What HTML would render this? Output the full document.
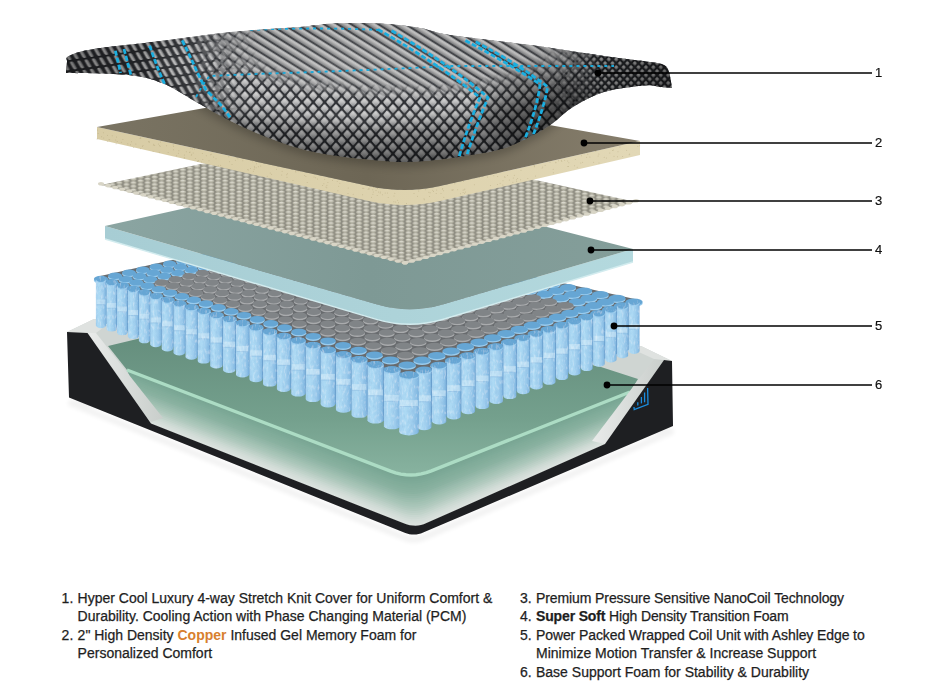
<!DOCTYPE html>
<html><head><meta charset="utf-8"><style>
html,body{margin:0;padding:0;background:#fff;}
body{width:934px;height:700px;position:relative;overflow:hidden;font-family:"Liberation Sans",sans-serif;color:#1e1e1e;}
.n{position:absolute;left:875px;font-size:13px;line-height:18px;color:#111;-webkit-text-stroke:0.2px #111;}
.t{position:absolute;font-size:14px;line-height:18.4px;white-space:nowrap;-webkit-text-stroke:0.25px #1e1e1e;}
.t .num{position:absolute;left:-16px;}
.cu{color:#d8802e;font-weight:bold;-webkit-text-stroke:0;}
</style></head><body>
<svg width="934" height="560" viewBox="0 0 934 560" style="position:absolute;left:0;top:0">
<defs>
 <pattern id="knit" width="7" height="7" patternUnits="userSpaceOnUse" patternTransform="translate(410 160) scale(1.15 1.3) rotate(45)">
   <rect width="7" height="7" fill="#2a2c30"/>
   <rect x="0.9" y="0.9" width="5.4" height="5.4" rx="1" fill="url(#cellg)"/>
 </pattern>
 <pattern id="knitB" width="30" height="7.2" patternUnits="userSpaceOnUse" patternTransform="rotate(32)">
   <rect width="30" height="7.2" fill="#36383c"/>
   <rect x="0" y="1.2" width="30" height="5.2" fill="url(#cellg3)"/>
 </pattern>
 <linearGradient id="cellg3" x1="0" y1="0" x2="0" y2="1"><stop offset="0" stop-color="#cfcfcf"/><stop offset="0.5" stop-color="#a8a8a8"/><stop offset="1" stop-color="#6e7072"/></linearGradient>
 <pattern id="knitV" width="7.4" height="10" patternUnits="userSpaceOnUse" patternTransform="rotate(-8) skewX(22)">
   <rect width="7.4" height="10" fill="#2a2c30"/>
   <rect x="1.5" y="0.8" width="4.4" height="8.4" rx="1.6" fill="url(#cellg4)"/>
 </pattern>
 <linearGradient id="cellg4" x1="0" y1="0" x2="1" y2="0"><stop offset="0" stop-color="#8d8e90"/><stop offset="0.45" stop-color="#d6d6d6"/><stop offset="1" stop-color="#5e6064"/></linearGradient>
 <radialGradient id="topMaskG" cx="400" cy="45" r="200" gradientUnits="userSpaceOnUse" gradientTransform="translate(400 45) scale(1 0.27) translate(-400 -45)">
   <stop offset="0" stop-color="#fff"/><stop offset="0.72" stop-color="#fff"/><stop offset="1" stop-color="#000"/>
 </radialGradient>
 <mask id="mTop" maskUnits="userSpaceOnUse" x="0" y="0" width="934" height="200"><rect x="0" y="0" width="934" height="200" fill="url(#topMaskG)"/></mask>
 <linearGradient id="leftMaskG" x1="190" y1="0" x2="245" y2="0" gradientUnits="userSpaceOnUse">
   <stop offset="0" stop-color="#fff"/><stop offset="1" stop-color="#000"/>
 </linearGradient>
 <pattern id="knitS" width="7" height="7" patternUnits="userSpaceOnUse" patternTransform="scale(0.75 0.8) rotate(45)">
   <rect width="7" height="7" fill="#26282c"/>
   <rect x="1.4" y="1.4" width="4.2" height="4.2" rx="1" fill="url(#cellg)"/>
 </pattern>
 <linearGradient id="rightMaskG" x1="545" y1="0" x2="600" y2="0" gradientUnits="userSpaceOnUse">
   <stop offset="0" stop-color="#000"/><stop offset="1" stop-color="#fff"/>
 </linearGradient>
 <mask id="mRight" maskUnits="userSpaceOnUse" x="0" y="0" width="934" height="200"><rect x="0" y="0" width="934" height="200" fill="url(#rightMaskG)"/></mask>
 <radialGradient id="foldShade" cx="540" cy="112" r="70" gradientUnits="userSpaceOnUse" gradientTransform="translate(540 112) scale(1 0.8) translate(-540 -112)">
   <stop offset="0" stop-color="#000" stop-opacity="0.42"/><stop offset="0.6" stop-color="#000" stop-opacity="0.25"/><stop offset="1" stop-color="#000" stop-opacity="0"/>
 </radialGradient>
 <mask id="mLeft" maskUnits="userSpaceOnUse" x="0" y="0" width="934" height="200"><rect x="0" y="0" width="934" height="200" fill="url(#leftMaskG)"/></mask>
 <linearGradient id="backMask" x1="0" y1="20" x2="0" y2="100" gradientUnits="userSpaceOnUse">
   <stop offset="0" stop-color="#fff"/><stop offset="0.45" stop-color="#fff"/><stop offset="1" stop-color="#000"/>
 </linearGradient>
 <mask id="mBack" maskUnits="userSpaceOnUse" x="0" y="0" width="934" height="200"><rect x="0" y="0" width="934" height="200" fill="url(#backMask)"/></mask>
 <radialGradient id="flapShade" cx="360" cy="62" r="310" gradientUnits="userSpaceOnUse" gradientTransform="translate(360 62) scale(1 0.32) translate(-360 -62)">
   <stop offset="0" stop-color="#fff" stop-opacity="0.14"/>
   <stop offset="0.45" stop-color="#fff" stop-opacity="0.02"/>
   <stop offset="0.7" stop-color="#000" stop-opacity="0.22"/>
   <stop offset="1" stop-color="#000" stop-opacity="0.45"/>
 </radialGradient>
 <linearGradient id="cellg" x1="0" y1="0" x2="1" y2="1">
   <stop offset="0" stop-color="#e4e4e4"/><stop offset="0.5" stop-color="#bdbdbd"/><stop offset="1" stop-color="#7c7e82"/>
 </linearGradient>
 <linearGradient id="cellg2" x1="0" y1="0" x2="1" y2="1"><stop offset="0" stop-color="#d8d8d8"/><stop offset="1" stop-color="#8e8e90"/></linearGradient>
 <radialGradient id="coverShade" cx="330" cy="70" r="330" gradientUnits="userSpaceOnUse" gradientTransform="translate(330 70) scale(1 0.45) translate(-330 -70)">
   <stop offset="0" stop-color="#ffffff" stop-opacity="0.18"/>
   <stop offset="0.55" stop-color="#000" stop-opacity="0.05"/>
   <stop offset="1" stop-color="#000" stop-opacity="0.45"/>
 </radialGradient>
 <pattern id="bumps" width="16.4" height="4.3" patternUnits="userSpaceOnUse" patternTransform="translate(405 264) scale(0.86)">
   <rect width="16.4" height="4.3" fill="#858379"/>
   <g id="bmp"><ellipse cx="4.1" cy="2.15" rx="3.5" ry="1.95" fill="#b9b7a8"/><ellipse cx="3.9" cy="1.7" rx="2.3" ry="0.95" fill="#dcdad0"/></g>
   <ellipse cx="12.3" cy="4.25" rx="3.5" ry="1.95" fill="#b9b7a8"/><ellipse cx="12.1" cy="3.8" rx="2.3" ry="0.95" fill="#dcdad0"/>
   <ellipse cx="12.3" cy="-0.05" rx="3.5" ry="1.95" fill="#b9b7a8"/><ellipse cx="12.1" cy="-0.5" rx="2.3" ry="0.95" fill="#dcdad0"/>
 </pattern>
 <pattern id="hex" width="17" height="11" patternUnits="userSpaceOnUse" patternTransform="rotate(15) skewX(-25)">
   <rect width="17" height="11" fill="#5e6164"/>
   <ellipse cx="8.5" cy="5.5" rx="7.2" ry="4.4" fill="#8d9093"/>
   <ellipse cx="0" cy="0" rx="7.2" ry="4.4" fill="#8d9093"/>
   <ellipse cx="17" cy="0" rx="7.2" ry="4.4" fill="#8d9093"/>
   <ellipse cx="0" cy="11" rx="7.2" ry="4.4" fill="#8d9093"/>
   <ellipse cx="17" cy="11" rx="7.2" ry="4.4" fill="#8d9093"/>
 </pattern>
 <linearGradient id="coilBody" x1="0" y1="0" x2="1" y2="0">
   <stop offset="0" stop-color="#a3d0ef"/><stop offset="0.3" stop-color="#addaf4"/><stop offset="0.7" stop-color="#9ccbec"/><stop offset="0.92" stop-color="#86bbe3"/><stop offset="1" stop-color="#74aad8"/>
 </linearGradient>
 <linearGradient id="l2top" x1="97" y1="127" x2="640" y2="141" gradientUnits="userSpaceOnUse">
   <stop offset="0" stop-color="#7a7463"/><stop offset="0.5" stop-color="#6d6655"/><stop offset="1" stop-color="#867e6c"/>
 </linearGradient>
 <linearGradient id="l2front" x1="97" y1="0" x2="640" y2="0" gradientUnits="userSpaceOnUse">
   <stop offset="0" stop-color="#d8cca5"/><stop offset="1" stop-color="#e2d8b6"/>
 </linearGradient>
 <linearGradient id="l4front" x1="105" y1="0" x2="633" y2="0" gradientUnits="userSpaceOnUse">
   <stop offset="0" stop-color="#a7cdd4"/><stop offset="0.55" stop-color="#add3d9"/><stop offset="1" stop-color="#b4d9de"/>
 </linearGradient>
 <linearGradient id="l4top" x1="105" y1="226" x2="633" y2="249" gradientUnits="userSpaceOnUse">
   <stop offset="0" stop-color="#8ba5a2"/><stop offset="0.5" stop-color="#7e9995"/><stop offset="1" stop-color="#849e9a"/>
 </linearGradient>
 <linearGradient id="greenTop" x1="0" y1="340" x2="0" y2="470" gradientUnits="userSpaceOnUse">
   <stop offset="0" stop-color="#668f7e"/><stop offset="0.6" stop-color="#74a08d"/><stop offset="1" stop-color="#86b19e"/>
 </linearGradient>
 <linearGradient id="frontL" x1="270" y1="423" x2="256" y2="462" gradientUnits="userSpaceOnUse">
   <stop offset="0" stop-color="#6c9c86"/><stop offset="0.55" stop-color="#a7c5b7"/><stop offset="1" stop-color="#e4e8e5"/>
 </linearGradient>
 <linearGradient id="frontR" x1="520" y1="432" x2="533" y2="468" gradientUnits="userSpaceOnUse">
   <stop offset="0" stop-color="#6c9c86"/><stop offset="0.55" stop-color="#a7c5b7"/><stop offset="1" stop-color="#e4e8e5"/>
 </linearGradient>
 <linearGradient id="rail" x1="0" y1="0" x2="1" y2="0">
   <stop offset="0" stop-color="#e9ebea"/><stop offset="1" stop-color="#c9cecb"/>
 </linearGradient>
 <filter id="crinkle" filterUnits="userSpaceOnUse" x="80" y="220" width="600" height="240">
   <feTurbulence type="fractalNoise" baseFrequency="0.45 0.2" numOctaves="2" seed="5" result="n"/>
   <feColorMatrix in="n" type="matrix" values="0 0 0 0 1  0 0 0 0 1  0 0 0 0 1  0.8 0 0 0 -0.42" result="w"/>
   <feComposite in="w" in2="SourceAlpha" operator="in" result="wm"/>
   <feColorMatrix in="n" type="matrix" values="0 0 0 0 0.25  0 0 0 0 0.45  0 0 0 0 0.7  -1.0 0 0 0 0.42" result="d"/>
   <feComposite in="d" in2="SourceAlpha" operator="in" result="dm"/>
   <feMerge><feMergeNode in="SourceGraphic"/><feMergeNode in="wm"/><feMergeNode in="dm"/></feMerge>
 </filter>
 <filter id="blur3" x="-10%" y="-30%" width="120%" height="160%"><feGaussianBlur stdDeviation="4"/></filter>
 <filter id="blur1"><feGaussianBlur stdDeviation="2"/></filter>
</defs>
<polygon points="69.0,402.5 404.7,537.8 407.0,538.6 409.4,539.2 411.7,539.5 414.0,539.6 416.3,539.4 418.6,539.1 420.9,538.4 423.2,537.6 673.0,431.0" fill="none" stroke="#000" stroke-width="6" opacity="0.05" filter="url(#blur1)"/><polygon points="67.0,332.0 94.0,319.0 641.0,346.0 672.0,361.0 664.0,360.0 605.0,444.0 605.0,444.0 426.5,523.1 423.7,524.2 421.0,525.0 418.2,525.5 415.5,525.7 412.7,525.6 409.9,525.2 407.1,524.5 404.3,523.6 151.0,423.5 87.0,333.0" fill="#cfd5d2"/><polygon points="108.0,346.0 300.0,300.0 601.0,367.0 638.0,379.0 630.0,392.0 431.4,470.9 426.3,472.7 421.2,473.9 416.1,474.7 411.0,475.0 405.9,474.8 400.7,474.1 395.6,472.8 390.5,471.1 127.0,370.0" fill="url(#greenTop)"/><polygon points="127.0,370.0 390.5,471.1 395.6,472.8 400.7,474.1 405.9,474.8 411.0,475.0 416.1,474.7 421.2,473.9 426.3,472.7 431.4,470.9 630.0,392.0 628.2,395.7 431.1,474.6 426.1,476.4 421.2,477.6 416.3,478.4 411.3,478.6 406.3,478.4 401.4,477.7 396.4,476.5 391.5,474.9 128.7,373.8" fill="#77a592"/><polygon points="128.0,372.2 391.0,473.3 396.1,475.0 401.1,476.2 406.1,476.9 411.2,477.1 416.2,476.8 421.2,476.1 426.2,474.8 431.2,473.1 629.0,394.2 627.2,397.9 430.9,476.8 426.0,478.5 421.2,479.7 416.3,480.5 411.5,480.7 406.6,480.5 401.8,479.9 396.9,478.7 392.0,477.1 129.7,376.1" fill="#7aa694"/><polygon points="129.0,374.5 391.6,475.5 396.6,477.1 401.5,478.3 406.4,479.0 411.3,479.2 416.3,478.9 421.2,478.2 426.1,477.0 431.0,475.2 627.9,396.3 626.1,400.1 430.7,479.0 425.9,480.6 421.2,481.9 416.4,482.6 411.7,482.9 406.9,482.7 402.1,482.0 397.4,480.9 392.6,479.3 130.7,378.3" fill="#7ca896"/><polygon points="130.0,376.7 392.2,477.7 397.0,479.3 401.9,480.5 406.7,481.1 411.5,481.3 416.4,481.1 421.2,480.3 426.0,479.1 430.8,477.4 626.9,398.5 625.1,402.2 430.5,481.2 425.8,482.8 421.2,484.0 416.5,484.7 411.9,485.0 407.2,484.8 402.5,484.1 397.9,483.0 393.2,481.4 131.7,380.5" fill="#7eaa98"/><polygon points="131.0,378.9 392.8,479.9 397.5,481.5 402.3,482.6 407.0,483.2 411.7,483.4 416.5,483.2 421.2,482.4 425.9,481.2 430.6,479.6 625.8,400.7 624.0,404.4 430.3,483.3 425.7,484.9 421.2,486.1 416.6,486.8 412.0,487.1 407.5,486.9 402.9,486.3 398.3,485.2 393.8,483.6 132.7,382.8" fill="#81ac9a"/><polygon points="132.0,381.1 393.4,482.0 398.0,483.6 402.6,484.7 407.3,485.4 411.9,485.6 416.5,485.3 421.2,484.6 425.8,483.4 430.4,481.8 624.8,402.8 623.0,406.6 430.1,485.5 425.6,487.1 421.1,488.2 416.7,488.9 412.2,489.2 407.8,489.0 403.3,488.4 398.8,487.3 394.3,485.8 133.7,385.0" fill="#83ad9b"/><polygon points="133.0,383.4 393.9,484.2 398.5,485.8 403.0,486.8 407.6,487.5 412.1,487.7 416.6,487.4 421.2,486.7 425.7,485.5 430.2,483.9 623.8,405.0 622.0,408.7 429.8,487.7 425.5,489.2 421.1,490.4 416.8,491.0 412.4,491.3 408.0,491.1 403.7,490.5 399.3,489.5 394.9,488.0 134.7,387.2" fill="#85af9d"/><polygon points="134.0,385.6 394.5,486.4 399.0,487.9 403.4,489.0 407.8,489.6 412.3,489.8 416.7,489.5 421.1,488.8 425.6,487.7 430.0,486.1 622.7,407.2 620.9,410.9 429.6,489.9 425.4,491.4 421.1,492.5 416.9,493.2 412.6,493.4 408.3,493.2 404.1,492.6 399.8,491.6 395.5,490.2 135.7,389.4" fill="#88b09f"/><polygon points="135.0,387.8 395.1,488.6 399.4,490.1 403.8,491.1 408.1,491.7 412.5,491.9 416.8,491.6 421.1,491.0 425.5,489.8 429.8,488.3 621.7,409.3 619.9,413.1 429.4,492.0 425.3,493.5 421.1,494.6 417.0,495.3 412.8,495.5 408.6,495.4 404.4,494.8 400.3,493.8 396.1,492.4 136.7,391.7" fill="#8ab2a1"/><polygon points="136.0,390.1 395.7,490.8 399.9,492.2 404.2,493.2 408.4,493.8 412.7,494.0 416.9,493.8 421.1,493.1 425.4,492.0 429.6,490.5 620.6,411.5 618.8,415.2 429.2,494.2 425.2,495.7 421.1,496.7 417.0,497.4 413.0,497.6 408.9,497.5 404.8,496.9 400.7,495.9 396.7,494.6 137.7,393.9" fill="#90b5a5"/><polygon points="137.0,392.3 396.2,493.0 400.4,494.4 404.6,495.4 408.7,496.0 412.8,496.1 417.0,495.9 421.1,495.2 425.2,494.1 429.4,492.7 619.6,413.7 617.8,417.4 429.0,496.4 425.1,497.8 421.1,498.9 417.1,499.5 413.2,499.7 409.2,499.6 405.2,499.0 401.2,498.1 397.2,496.7 138.7,396.1" fill="#94b8a9"/><polygon points="138.0,394.5 396.8,495.2 400.9,496.5 404.9,497.5 409.0,498.1 413.0,498.2 417.1,498.0 421.1,497.3 425.1,496.3 429.2,494.8 618.5,415.8 616.8,419.6 428.8,498.6 425.0,500.0 421.1,501.0 417.2,501.6 413.3,501.9 409.5,501.7 405.6,501.2 401.7,500.2 397.8,498.9 139.7,398.4" fill="#9abbad"/><polygon points="139.0,396.8 397.4,497.4 401.4,498.7 405.3,499.6 409.3,500.2 413.2,500.3 417.2,500.1 421.1,499.5 425.0,498.4 429.0,497.0 617.5,418.0 615.7,421.7 428.6,500.8 424.8,502.1 421.1,503.1 417.3,503.7 413.5,504.0 409.8,503.8 406.0,503.3 402.2,502.4 398.4,501.1 140.7,400.6" fill="#9ebfb0"/><polygon points="140.0,399.0 398.0,499.5 401.8,500.8 405.7,501.8 409.6,502.3 413.4,502.5 417.2,502.2 421.1,501.6 424.9,500.6 428.8,499.2 616.5,420.2 614.7,423.9 428.4,502.9 424.7,504.3 421.1,505.2 417.4,505.9 413.7,506.1 410.0,505.9 406.4,505.4 402.7,504.6 399.0,503.3 141.7,402.8" fill="#a4c2b4"/><polygon points="141.0,401.2 398.6,501.7 402.3,503.0 406.1,503.9 409.8,504.4 413.6,504.6 417.3,504.3 421.1,503.7 424.8,502.7 428.5,501.4 615.4,422.3 613.6,426.1 428.2,505.1 424.6,506.4 421.1,507.4 417.5,508.0 413.9,508.2 410.3,508.1 406.7,507.6 403.1,506.7 399.6,505.5 142.7,405.0" fill="#a8c5b8"/><polygon points="142.0,403.4 399.1,503.9 402.8,505.2 406.5,506.0 410.1,506.5 413.8,506.7 417.4,506.4 421.1,505.8 424.7,504.9 428.3,503.5 614.4,424.5 612.6,428.2 428.0,507.3 424.5,508.6 421.0,509.5 417.6,510.1 414.1,510.3 410.6,510.2 407.1,509.7 403.6,508.9 400.1,507.7 143.7,407.3" fill="#aec8bc"/><polygon points="143.0,405.7 399.7,506.1 403.3,507.3 406.8,508.2 410.4,508.7 414.0,508.8 417.5,508.6 421.1,508.0 424.6,507.0 428.1,505.7 613.3,426.7 611.5,430.4 427.8,509.5 424.4,510.7 421.0,511.6 417.7,512.2 414.3,512.4 410.9,512.3 407.5,511.8 404.1,511.0 400.7,509.9 144.7,409.5" fill="#b4cbc0"/><polygon points="144.0,407.9 400.3,508.3 403.8,509.5 407.2,510.3 410.7,510.8 414.1,510.9 417.6,510.7 421.0,510.1 424.5,509.2 427.9,507.9 612.3,428.8 610.5,432.6 427.6,511.6 424.3,512.9 421.0,513.8 417.8,514.3 414.5,514.5 411.2,514.4 407.9,514.0 404.6,513.2 401.3,512.0 145.7,411.7" fill="#bbcfc6"/><polygon points="145.0,410.1 400.9,510.5 404.2,511.6 407.6,512.4 411.0,512.9 414.3,513.0 417.7,512.8 421.0,512.2 424.4,511.3 427.7,510.1 611.2,431.0 609.5,434.7 427.4,513.8 424.2,515.0 421.0,515.9 417.8,516.4 414.7,516.6 411.5,516.5 408.3,516.1 405.1,515.3 401.9,514.2 146.7,414.0" fill="#c1d3ca"/><polygon points="146.0,412.4 401.4,512.7 404.7,513.8 408.0,514.6 411.3,515.0 414.5,515.1 417.8,514.9 421.0,514.4 424.3,513.5 427.5,512.2 610.2,433.2 608.4,436.9 427.2,516.0 424.1,517.2 421.0,518.0 417.9,518.5 414.8,518.8 411.7,518.6 408.7,518.2 405.6,517.5 402.4,516.4 147.7,416.2" fill="#c8d7d0"/><polygon points="147.0,414.6 402.0,514.8 405.2,515.9 408.4,516.7 411.5,517.1 414.7,517.2 417.9,517.0 421.0,516.5 424.2,515.6 427.3,514.4 609.2,435.3 607.4,439.1 426.9,518.2 424.0,519.3 421.0,520.1 418.0,520.7 415.0,520.9 412.0,520.8 409.0,520.4 406.0,519.6 403.0,518.6 148.7,418.4" fill="#cedad4"/><polygon points="148.0,416.8 402.6,517.0 405.7,518.1 408.8,518.8 411.8,519.2 414.9,519.3 418.0,519.1 421.0,518.6 424.1,517.8 427.1,516.6 608.1,437.5 606.3,441.2 426.7,520.3 423.9,521.5 421.0,522.3 418.1,522.8 415.2,523.0 412.3,522.9 409.4,522.5 406.5,521.8 403.6,520.8 149.7,420.6" fill="#d3ddd8"/><polygon points="149.0,419.0 403.2,519.2 406.2,520.2 409.1,521.0 412.1,521.4 415.1,521.5 418.0,521.3 421.0,520.7 423.9,519.9 426.9,518.8 607.1,439.7 605.3,443.4 426.5,522.5 423.8,523.6 421.0,524.4 418.2,524.9 415.4,525.1 412.6,525.0 409.8,524.6 407.0,523.9 404.2,523.0 150.7,422.9" fill="#d7dfdb"/><polygon points="150.0,421.3 403.8,521.4 406.6,522.4 409.5,523.1 412.4,523.5 415.3,523.6 418.1,523.4 421.0,522.9 423.8,522.1 426.7,521.0 606.0,441.8 605.0,444.0 426.5,523.1 423.7,524.2 421.0,525.0 418.2,525.5 415.5,525.7 412.7,525.6 409.9,525.2 407.1,524.5 404.3,523.6 151.0,423.5" fill="#dbe2de"/><polyline points="127.0,370.0 390.5,471.1 395.6,472.8 400.7,474.1 405.9,474.8 411.0,475.0 416.1,474.7 421.2,473.9 426.3,472.7 431.4,470.9 630.0,392.0" fill="none" stroke="#acdcc4" stroke-width="3.4"/><polygon points="87.5,333.0 96.0,333.0 163.0,418.0 151.0,422.0" fill="url(#rail)"/><polygon points="654.0,359.0 664.0,360.0 605.0,444.0 592.0,441.0" fill="url(#rail)"/><polygon points="67.0,332.0 94.0,319.0 112.0,321.0 96.0,333.0 87.5,333.0" fill="#dfe2e0"/><polygon points="641.0,346.0 672.0,361.0 664.0,360.0 654.0,359.0 630.0,348.0" fill="#dfe2e0"/><polygon points="67.0,332.0 87.5,333.0 151.0,423.5 404.3,523.6 407.1,524.5 409.9,525.2 412.7,525.6 415.5,525.7 418.2,525.5 421.0,525.0 423.7,524.2 426.5,523.1 605.0,444.0 664.0,360.0 672.0,361.0 673.0,426.0 423.2,532.6 420.9,533.4 418.6,534.1 416.3,534.4 414.0,534.6 411.7,534.5 409.4,534.2 407.0,533.6 404.7,532.8 69.0,397.5" fill="#1e1f22"/><g fill="none" stroke="#1b8ee0" stroke-width="1.3" stroke-linecap="butt" stroke-linejoin="miter"><path d="M647.6,388 L648,404.3 L634.2,409.6 L634,407"/><path d="M644.6,392.5 L644.6,402.3"/><path d="M641.4,397 L641.4,403.4"/><path d="M637.8,402.2 L637.8,405.4"/></g><polygon points="101.0,279.0 316.0,231.0 634.0,302.0 409.0,375.0" fill="#686b6e" stroke="#686b6e" stroke-width="6" stroke-linejoin="round"/><ellipse cx="316.0" cy="232.4" rx="5.6" ry="3.0" fill="#9accee"/><ellipse cx="316.0" cy="231.0" rx="5.6" ry="3.0" fill="#66a6d4"/><ellipse cx="327.2" cy="234.9" rx="5.7" ry="3.0" fill="#9accee"/><ellipse cx="327.2" cy="233.5" rx="5.7" ry="3.0" fill="#66a6d4"/><ellipse cx="304.7" cy="234.9" rx="5.7" ry="3.0" fill="#9accee"/><ellipse cx="304.7" cy="233.5" rx="5.7" ry="3.0" fill="#66a6d4"/><ellipse cx="338.6" cy="237.4" rx="5.8" ry="3.0" fill="#9accee"/><ellipse cx="338.6" cy="236.0" rx="5.8" ry="3.0" fill="#66a6d4"/><ellipse cx="315.9" cy="237.5" rx="5.7" ry="3.0" fill="#9accee"/><ellipse cx="315.9" cy="236.1" rx="5.7" ry="3.0" fill="#66a6d4"/><ellipse cx="293.2" cy="237.5" rx="5.8" ry="3.0" fill="#9accee"/><ellipse cx="293.2" cy="236.1" rx="5.8" ry="3.0" fill="#66a6d4"/><ellipse cx="350.2" cy="240.0" rx="5.9" ry="3.0" fill="#9accee"/><ellipse cx="350.2" cy="238.6" rx="5.9" ry="3.0" fill="#66a6d4"/><ellipse cx="327.2" cy="240.1" rx="5.8" ry="3.0" fill="#9accee"/><ellipse cx="327.2" cy="238.7" rx="5.8" ry="3.0" fill="#66a6d4"/><ellipse cx="304.4" cy="240.1" rx="5.8" ry="3.0" fill="#9accee"/><ellipse cx="304.4" cy="238.7" rx="5.8" ry="3.0" fill="#66a6d4"/><ellipse cx="281.6" cy="240.1" rx="5.8" ry="3.0" fill="#9accee"/><ellipse cx="281.6" cy="238.7" rx="5.8" ry="3.0" fill="#66a6d4"/><ellipse cx="362.0" cy="242.7" rx="6.0" ry="3.0" fill="#9accee"/><ellipse cx="362.0" cy="241.3" rx="6.0" ry="3.0" fill="#66a6d4"/><ellipse cx="338.8" cy="242.7" rx="5.9" ry="3.0" fill="#9accee"/><ellipse cx="338.8" cy="241.3" rx="5.9" ry="3.0" fill="#66a6d4"/><ellipse cx="315.7" cy="242.7" rx="5.8" ry="3.0" fill="#9accee"/><ellipse cx="315.7" cy="241.3" rx="5.8" ry="3.0" fill="#66a6d4"/><ellipse cx="292.7" cy="242.7" rx="5.9" ry="3.0" fill="#9accee"/><ellipse cx="292.7" cy="241.3" rx="5.9" ry="3.0" fill="#66a6d4"/><ellipse cx="269.8" cy="242.7" rx="5.9" ry="3.0" fill="#9accee"/><ellipse cx="269.8" cy="241.3" rx="5.9" ry="3.0" fill="#66a6d4"/><ellipse cx="374.0" cy="245.4" rx="6.1" ry="3.0" fill="#9accee"/><ellipse cx="374.0" cy="244.0" rx="6.1" ry="3.0" fill="#66a6d4"/><ellipse cx="350.6" cy="245.4" rx="6.0" ry="3.0" fill="#9accee"/><ellipse cx="350.6" cy="244.0" rx="6.0" ry="3.0" fill="#66a6d4"/><ellipse cx="327.3" cy="245.4" rx="5.9" ry="3.0" fill="#9accee"/><ellipse cx="327.3" cy="244.0" rx="5.9" ry="3.0" fill="#66a6d4"/><ellipse cx="304.1" cy="245.4" rx="5.9" ry="3.0" fill="#9accee"/><ellipse cx="304.1" cy="244.0" rx="5.9" ry="3.0" fill="#66a6d4"/><ellipse cx="280.9" cy="245.4" rx="5.9" ry="3.0" fill="#9accee"/><ellipse cx="280.9" cy="244.0" rx="5.9" ry="3.0" fill="#66a6d4"/><ellipse cx="257.9" cy="245.4" rx="6.0" ry="3.0" fill="#9accee"/><ellipse cx="257.9" cy="244.0" rx="6.0" ry="3.0" fill="#66a6d4"/><ellipse cx="245.8" cy="248.1" rx="6.1" ry="3.0" fill="#9accee"/><ellipse cx="245.8" cy="246.7" rx="6.1" ry="3.0" fill="#66a6d4"/><ellipse cx="269.0" cy="248.1" rx="6.0" ry="3.0" fill="#9accee"/><ellipse cx="269.0" cy="246.7" rx="6.0" ry="3.0" fill="#66a6d4"/><ellipse cx="292.2" cy="248.1" rx="5.9" ry="3.0" fill="#9accee"/><ellipse cx="292.2" cy="246.7" rx="5.9" ry="3.0" fill="#66a6d4"/><ellipse cx="315.6" cy="248.1" rx="5.9" ry="3.0" fill="#a9abad"/><ellipse cx="315.6" cy="246.7" rx="5.9" ry="3.0" fill="#808487"/><ellipse cx="339.0" cy="248.1" rx="6.0" ry="3.0" fill="#9accee"/><ellipse cx="339.0" cy="246.7" rx="6.0" ry="3.0" fill="#66a6d4"/><ellipse cx="362.6" cy="248.1" rx="6.1" ry="3.0" fill="#9accee"/><ellipse cx="362.6" cy="246.7" rx="6.1" ry="3.0" fill="#66a6d4"/><ellipse cx="386.3" cy="248.1" rx="6.3" ry="3.1" fill="#9accee"/><ellipse cx="386.3" cy="246.7" rx="6.3" ry="3.1" fill="#66a6d4"/><ellipse cx="233.5" cy="250.8" rx="6.2" ry="3.0" fill="#9accee"/><ellipse cx="233.5" cy="249.4" rx="6.2" ry="3.0" fill="#66a6d4"/><ellipse cx="256.8" cy="250.8" rx="6.1" ry="3.0" fill="#9accee"/><ellipse cx="256.8" cy="249.4" rx="6.1" ry="3.0" fill="#66a6d4"/><ellipse cx="280.2" cy="250.8" rx="6.0" ry="3.0" fill="#9accee"/><ellipse cx="280.2" cy="249.4" rx="6.0" ry="3.0" fill="#66a6d4"/><ellipse cx="303.7" cy="250.8" rx="6.0" ry="3.0" fill="#a9abad"/><ellipse cx="303.7" cy="249.4" rx="6.0" ry="3.0" fill="#808487"/><ellipse cx="327.3" cy="250.8" rx="6.0" ry="3.0" fill="#a9abad"/><ellipse cx="327.3" cy="249.4" rx="6.0" ry="3.0" fill="#808487"/><ellipse cx="351.0" cy="250.9" rx="6.1" ry="3.0" fill="#9accee"/><ellipse cx="351.0" cy="249.5" rx="6.1" ry="3.0" fill="#66a6d4"/><ellipse cx="374.8" cy="250.9" rx="6.2" ry="3.1" fill="#9accee"/><ellipse cx="374.8" cy="249.5" rx="6.2" ry="3.1" fill="#66a6d4"/><ellipse cx="398.7" cy="250.9" rx="6.4" ry="3.1" fill="#9accee"/><ellipse cx="398.7" cy="249.5" rx="6.4" ry="3.1" fill="#66a6d4"/><ellipse cx="221.1" cy="253.6" rx="6.2" ry="3.1" fill="#9accee"/><ellipse cx="221.1" cy="252.2" rx="6.2" ry="3.1" fill="#66a6d4"/><ellipse cx="244.5" cy="253.6" rx="6.2" ry="3.1" fill="#9accee"/><ellipse cx="244.5" cy="252.2" rx="6.2" ry="3.1" fill="#66a6d4"/><ellipse cx="268.1" cy="253.6" rx="6.1" ry="3.0" fill="#9accee"/><ellipse cx="268.1" cy="252.2" rx="6.1" ry="3.0" fill="#66a6d4"/><ellipse cx="291.7" cy="253.6" rx="6.0" ry="3.0" fill="#a9abad"/><ellipse cx="291.7" cy="252.2" rx="6.0" ry="3.0" fill="#808487"/><ellipse cx="315.4" cy="253.6" rx="6.0" ry="3.0" fill="#a9abad"/><ellipse cx="315.4" cy="252.2" rx="6.0" ry="3.0" fill="#808487"/><ellipse cx="339.3" cy="253.7" rx="6.1" ry="3.0" fill="#a9abad"/><ellipse cx="339.3" cy="252.3" rx="6.1" ry="3.0" fill="#808487"/><ellipse cx="363.2" cy="253.7" rx="6.2" ry="3.1" fill="#9accee"/><ellipse cx="363.2" cy="252.3" rx="6.2" ry="3.1" fill="#66a6d4"/><ellipse cx="387.3" cy="253.7" rx="6.4" ry="3.1" fill="#9accee"/><ellipse cx="387.3" cy="252.3" rx="6.4" ry="3.1" fill="#66a6d4"/><ellipse cx="411.4" cy="253.7" rx="6.5" ry="3.1" fill="#9accee"/><ellipse cx="411.4" cy="252.3" rx="6.5" ry="3.1" fill="#66a6d4"/><ellipse cx="208.5" cy="256.4" rx="6.3" ry="3.1" fill="#9accee"/><ellipse cx="208.5" cy="255.0" rx="6.3" ry="3.1" fill="#66a6d4"/><ellipse cx="232.1" cy="256.4" rx="6.3" ry="3.1" fill="#9accee"/><ellipse cx="232.1" cy="255.0" rx="6.3" ry="3.1" fill="#66a6d4"/><ellipse cx="255.7" cy="256.4" rx="6.2" ry="3.1" fill="#9accee"/><ellipse cx="255.7" cy="255.0" rx="6.2" ry="3.1" fill="#66a6d4"/><ellipse cx="279.5" cy="256.5" rx="6.1" ry="3.0" fill="#a9abad"/><ellipse cx="279.5" cy="255.1" rx="6.1" ry="3.0" fill="#808487"/><ellipse cx="303.4" cy="256.5" rx="6.1" ry="3.0" fill="#a9abad"/><ellipse cx="303.4" cy="255.1" rx="6.1" ry="3.0" fill="#808487"/><ellipse cx="327.4" cy="256.5" rx="6.1" ry="3.0" fill="#a9abad"/><ellipse cx="327.4" cy="255.1" rx="6.1" ry="3.0" fill="#808487"/><ellipse cx="351.4" cy="256.5" rx="6.2" ry="3.1" fill="#a9abad"/><ellipse cx="351.4" cy="255.1" rx="6.2" ry="3.1" fill="#808487"/><ellipse cx="375.6" cy="256.5" rx="6.4" ry="3.1" fill="#9accee"/><ellipse cx="375.6" cy="255.1" rx="6.4" ry="3.1" fill="#66a6d4"/><ellipse cx="399.9" cy="256.6" rx="6.5" ry="3.1" fill="#9accee"/><ellipse cx="399.9" cy="255.2" rx="6.5" ry="3.1" fill="#66a6d4"/><ellipse cx="424.3" cy="256.6" rx="6.6" ry="3.1" fill="#9accee"/><ellipse cx="424.3" cy="255.2" rx="6.6" ry="3.1" fill="#66a6d4"/><ellipse cx="195.7" cy="259.3" rx="6.4" ry="3.1" fill="#9accee"/><ellipse cx="195.7" cy="257.9" rx="6.4" ry="3.1" fill="#66a6d4"/><ellipse cx="219.4" cy="259.3" rx="6.4" ry="3.1" fill="#9accee"/><ellipse cx="219.4" cy="257.9" rx="6.4" ry="3.1" fill="#66a6d4"/><ellipse cx="243.2" cy="259.3" rx="6.3" ry="3.1" fill="#9accee"/><ellipse cx="243.2" cy="257.9" rx="6.3" ry="3.1" fill="#66a6d4"/><ellipse cx="267.1" cy="259.3" rx="6.2" ry="3.1" fill="#a9abad"/><ellipse cx="267.1" cy="257.9" rx="6.2" ry="3.1" fill="#808487"/><ellipse cx="291.2" cy="259.4" rx="6.2" ry="3.0" fill="#a9abad"/><ellipse cx="291.2" cy="258.0" rx="6.2" ry="3.0" fill="#808487"/><ellipse cx="315.3" cy="259.4" rx="6.1" ry="3.0" fill="#a9abad"/><ellipse cx="315.3" cy="258.0" rx="6.1" ry="3.0" fill="#808487"/><ellipse cx="339.5" cy="259.4" rx="6.2" ry="3.1" fill="#a9abad"/><ellipse cx="339.5" cy="258.0" rx="6.2" ry="3.1" fill="#808487"/><ellipse cx="363.8" cy="259.4" rx="6.4" ry="3.1" fill="#a9abad"/><ellipse cx="363.8" cy="258.0" rx="6.4" ry="3.1" fill="#808487"/><ellipse cx="388.3" cy="259.5" rx="6.5" ry="3.1" fill="#9accee"/><ellipse cx="388.3" cy="258.1" rx="6.5" ry="3.1" fill="#66a6d4"/><ellipse cx="412.8" cy="259.5" rx="6.6" ry="3.1" fill="#9accee"/><ellipse cx="412.8" cy="258.1" rx="6.6" ry="3.1" fill="#66a6d4"/><ellipse cx="437.5" cy="259.5" rx="6.7" ry="3.1" fill="#9accee"/><ellipse cx="437.5" cy="258.1" rx="6.7" ry="3.1" fill="#66a6d4"/><ellipse cx="182.8" cy="262.1" rx="6.5" ry="3.1" fill="#9accee"/><ellipse cx="182.8" cy="260.7" rx="6.5" ry="3.1" fill="#66a6d4"/><ellipse cx="206.6" cy="262.2" rx="6.4" ry="3.1" fill="#9accee"/><ellipse cx="206.6" cy="260.8" rx="6.4" ry="3.1" fill="#66a6d4"/><ellipse cx="230.6" cy="262.2" rx="6.4" ry="3.1" fill="#9accee"/><ellipse cx="230.6" cy="260.8" rx="6.4" ry="3.1" fill="#66a6d4"/><ellipse cx="254.6" cy="262.2" rx="6.3" ry="3.1" fill="#a9abad"/><ellipse cx="254.6" cy="260.8" rx="6.3" ry="3.1" fill="#808487"/><ellipse cx="278.8" cy="262.3" rx="6.2" ry="3.1" fill="#a9abad"/><ellipse cx="278.8" cy="260.9" rx="6.2" ry="3.1" fill="#808487"/><ellipse cx="303.0" cy="262.3" rx="6.2" ry="3.0" fill="#a9abad"/><ellipse cx="303.0" cy="260.9" rx="6.2" ry="3.0" fill="#808487"/><ellipse cx="327.4" cy="262.3" rx="6.2" ry="3.1" fill="#a9abad"/><ellipse cx="327.4" cy="260.9" rx="6.2" ry="3.1" fill="#808487"/><ellipse cx="351.9" cy="262.4" rx="6.4" ry="3.1" fill="#a9abad"/><ellipse cx="351.9" cy="261.0" rx="6.4" ry="3.1" fill="#808487"/><ellipse cx="376.5" cy="262.4" rx="6.5" ry="3.1" fill="#a9abad"/><ellipse cx="376.5" cy="261.0" rx="6.5" ry="3.1" fill="#808487"/><ellipse cx="401.2" cy="262.4" rx="6.6" ry="3.1" fill="#9accee"/><ellipse cx="401.2" cy="261.0" rx="6.6" ry="3.1" fill="#66a6d4"/><ellipse cx="426.0" cy="262.5" rx="6.7" ry="3.1" fill="#9accee"/><ellipse cx="426.0" cy="261.1" rx="6.7" ry="3.1" fill="#66a6d4"/><ellipse cx="450.9" cy="262.5" rx="6.9" ry="3.2" fill="#9accee"/><ellipse cx="450.9" cy="261.1" rx="6.9" ry="3.2" fill="#66a6d4"/><ellipse cx="169.6" cy="265.1" rx="6.6" ry="3.1" fill="#9accee"/><ellipse cx="169.6" cy="263.7" rx="6.6" ry="3.1" fill="#66a6d4"/><ellipse cx="193.6" cy="265.1" rx="6.5" ry="3.1" fill="#9accee"/><ellipse cx="193.6" cy="263.7" rx="6.5" ry="3.1" fill="#66a6d4"/><ellipse cx="217.7" cy="265.2" rx="6.5" ry="3.1" fill="#9accee"/><ellipse cx="217.7" cy="263.8" rx="6.5" ry="3.1" fill="#66a6d4"/><ellipse cx="241.9" cy="265.2" rx="6.4" ry="3.1" fill="#a9abad"/><ellipse cx="241.9" cy="263.8" rx="6.4" ry="3.1" fill="#808487"/><ellipse cx="266.2" cy="265.2" rx="6.3" ry="3.1" fill="#a9abad"/><ellipse cx="266.2" cy="263.8" rx="6.3" ry="3.1" fill="#808487"/><ellipse cx="290.6" cy="265.3" rx="6.3" ry="3.1" fill="#a9abad"/><ellipse cx="290.6" cy="263.9" rx="6.3" ry="3.1" fill="#808487"/><ellipse cx="315.1" cy="265.3" rx="6.2" ry="3.1" fill="#a9abad"/><ellipse cx="315.1" cy="263.9" rx="6.2" ry="3.1" fill="#808487"/><ellipse cx="339.8" cy="265.4" rx="6.3" ry="3.1" fill="#a9abad"/><ellipse cx="339.8" cy="264.0" rx="6.3" ry="3.1" fill="#808487"/><ellipse cx="364.5" cy="265.4" rx="6.5" ry="3.1" fill="#a9abad"/><ellipse cx="364.5" cy="264.0" rx="6.5" ry="3.1" fill="#808487"/><ellipse cx="389.3" cy="265.4" rx="6.6" ry="3.1" fill="#a9abad"/><ellipse cx="389.3" cy="264.0" rx="6.6" ry="3.1" fill="#808487"/><ellipse cx="414.3" cy="265.5" rx="6.7" ry="3.1" fill="#9accee"/><ellipse cx="414.3" cy="264.1" rx="6.7" ry="3.1" fill="#66a6d4"/><ellipse cx="439.4" cy="265.5" rx="6.9" ry="3.2" fill="#9accee"/><ellipse cx="439.4" cy="264.1" rx="6.9" ry="3.2" fill="#66a6d4"/><ellipse cx="464.5" cy="265.6" rx="7.0" ry="3.2" fill="#9accee"/><ellipse cx="464.5" cy="264.2" rx="7.0" ry="3.2" fill="#66a6d4"/><ellipse cx="156.3" cy="268.1" rx="6.7" ry="3.1" fill="#9accee"/><ellipse cx="156.3" cy="266.7" rx="6.7" ry="3.1" fill="#66a6d4"/><ellipse cx="180.4" cy="268.1" rx="6.6" ry="3.1" fill="#9accee"/><ellipse cx="180.4" cy="266.7" rx="6.6" ry="3.1" fill="#66a6d4"/><ellipse cx="204.6" cy="268.2" rx="6.6" ry="3.1" fill="#9accee"/><ellipse cx="204.6" cy="266.8" rx="6.6" ry="3.1" fill="#66a6d4"/><ellipse cx="229.0" cy="268.2" rx="6.5" ry="3.1" fill="#a9abad"/><ellipse cx="229.0" cy="266.8" rx="6.5" ry="3.1" fill="#808487"/><ellipse cx="253.4" cy="268.2" rx="6.4" ry="3.1" fill="#a9abad"/><ellipse cx="253.4" cy="266.8" rx="6.4" ry="3.1" fill="#808487"/><ellipse cx="278.0" cy="268.3" rx="6.4" ry="3.1" fill="#a9abad"/><ellipse cx="278.0" cy="266.9" rx="6.4" ry="3.1" fill="#808487"/><ellipse cx="302.7" cy="268.3" rx="6.3" ry="3.1" fill="#a9abad"/><ellipse cx="302.7" cy="266.9" rx="6.3" ry="3.1" fill="#808487"/><ellipse cx="327.4" cy="268.4" rx="6.3" ry="3.1" fill="#a9abad"/><ellipse cx="327.4" cy="267.0" rx="6.3" ry="3.1" fill="#808487"/><ellipse cx="352.3" cy="268.4" rx="6.5" ry="3.1" fill="#a9abad"/><ellipse cx="352.3" cy="267.0" rx="6.5" ry="3.1" fill="#808487"/><ellipse cx="377.3" cy="268.5" rx="6.6" ry="3.1" fill="#a9abad"/><ellipse cx="377.3" cy="267.1" rx="6.6" ry="3.1" fill="#808487"/><ellipse cx="402.4" cy="268.5" rx="6.7" ry="3.1" fill="#a9abad"/><ellipse cx="402.4" cy="267.1" rx="6.7" ry="3.1" fill="#808487"/><ellipse cx="427.7" cy="268.6" rx="6.9" ry="3.2" fill="#9accee"/><ellipse cx="427.7" cy="267.2" rx="6.9" ry="3.2" fill="#66a6d4"/><ellipse cx="453.0" cy="268.6" rx="7.0" ry="3.2" fill="#9accee"/><ellipse cx="453.0" cy="267.2" rx="7.0" ry="3.2" fill="#66a6d4"/><ellipse cx="478.5" cy="268.7" rx="7.1" ry="3.2" fill="#9accee"/><ellipse cx="478.5" cy="267.3" rx="7.1" ry="3.2" fill="#66a6d4"/><ellipse cx="142.8" cy="271.1" rx="6.8" ry="3.2" fill="#9accee"/><ellipse cx="142.8" cy="269.7" rx="6.8" ry="3.2" fill="#66a6d4"/><ellipse cx="167.0" cy="271.1" rx="6.7" ry="3.1" fill="#9accee"/><ellipse cx="167.0" cy="269.7" rx="6.7" ry="3.1" fill="#66a6d4"/><ellipse cx="191.4" cy="271.2" rx="6.7" ry="3.1" fill="#9accee"/><ellipse cx="191.4" cy="269.8" rx="6.7" ry="3.1" fill="#66a6d4"/><ellipse cx="215.9" cy="271.2" rx="6.6" ry="3.1" fill="#a9abad"/><ellipse cx="215.9" cy="269.8" rx="6.6" ry="3.1" fill="#808487"/><ellipse cx="240.5" cy="271.3" rx="6.5" ry="3.1" fill="#a9abad"/><ellipse cx="240.5" cy="269.9" rx="6.5" ry="3.1" fill="#808487"/><ellipse cx="265.2" cy="271.3" rx="6.4" ry="3.1" fill="#a9abad"/><ellipse cx="265.2" cy="269.9" rx="6.4" ry="3.1" fill="#808487"/><ellipse cx="290.0" cy="271.4" rx="6.4" ry="3.1" fill="#a9abad"/><ellipse cx="290.0" cy="270.0" rx="6.4" ry="3.1" fill="#808487"/><ellipse cx="315.0" cy="271.5" rx="6.3" ry="3.1" fill="#a9abad"/><ellipse cx="315.0" cy="270.1" rx="6.3" ry="3.1" fill="#808487"/><ellipse cx="340.0" cy="271.5" rx="6.5" ry="3.1" fill="#a9abad"/><ellipse cx="340.0" cy="270.1" rx="6.5" ry="3.1" fill="#808487"/><ellipse cx="365.2" cy="271.6" rx="6.6" ry="3.1" fill="#a9abad"/><ellipse cx="365.2" cy="270.2" rx="6.6" ry="3.1" fill="#808487"/><ellipse cx="390.4" cy="271.6" rx="6.7" ry="3.1" fill="#a9abad"/><ellipse cx="390.4" cy="270.2" rx="6.7" ry="3.1" fill="#808487"/><ellipse cx="415.8" cy="271.7" rx="6.9" ry="3.2" fill="#a9abad"/><ellipse cx="415.8" cy="270.3" rx="6.9" ry="3.2" fill="#808487"/><ellipse cx="441.3" cy="271.7" rx="7.0" ry="3.2" fill="#9accee"/><ellipse cx="441.3" cy="270.3" rx="7.0" ry="3.2" fill="#66a6d4"/><ellipse cx="466.9" cy="271.8" rx="7.1" ry="3.2" fill="#9accee"/><ellipse cx="466.9" cy="270.4" rx="7.1" ry="3.2" fill="#66a6d4"/><ellipse cx="492.7" cy="271.8" rx="7.3" ry="3.2" fill="#9accee"/><ellipse cx="492.7" cy="270.4" rx="7.3" ry="3.2" fill="#66a6d4"/><ellipse cx="129.0" cy="274.1" rx="6.9" ry="3.2" fill="#9accee"/><ellipse cx="129.0" cy="272.7" rx="6.9" ry="3.2" fill="#66a6d4"/><ellipse cx="153.5" cy="274.2" rx="6.8" ry="3.2" fill="#9accee"/><ellipse cx="153.5" cy="272.8" rx="6.8" ry="3.2" fill="#66a6d4"/><ellipse cx="178.0" cy="274.3" rx="6.7" ry="3.1" fill="#9accee"/><ellipse cx="178.0" cy="272.9" rx="6.7" ry="3.1" fill="#66a6d4"/><ellipse cx="202.6" cy="274.3" rx="6.7" ry="3.1" fill="#a9abad"/><ellipse cx="202.6" cy="272.9" rx="6.7" ry="3.1" fill="#808487"/><ellipse cx="227.4" cy="274.4" rx="6.6" ry="3.1" fill="#a9abad"/><ellipse cx="227.4" cy="273.0" rx="6.6" ry="3.1" fill="#808487"/><ellipse cx="252.2" cy="274.4" rx="6.5" ry="3.1" fill="#a9abad"/><ellipse cx="252.2" cy="273.0" rx="6.5" ry="3.1" fill="#808487"/><ellipse cx="277.2" cy="274.5" rx="6.5" ry="3.1" fill="#a9abad"/><ellipse cx="277.2" cy="273.1" rx="6.5" ry="3.1" fill="#808487"/><ellipse cx="302.3" cy="274.6" rx="6.4" ry="3.1" fill="#a9abad"/><ellipse cx="302.3" cy="273.2" rx="6.4" ry="3.1" fill="#808487"/><ellipse cx="327.5" cy="274.6" rx="6.5" ry="3.1" fill="#a9abad"/><ellipse cx="327.5" cy="273.2" rx="6.5" ry="3.1" fill="#808487"/><ellipse cx="352.8" cy="274.7" rx="6.6" ry="3.1" fill="#a9abad"/><ellipse cx="352.8" cy="273.3" rx="6.6" ry="3.1" fill="#808487"/><ellipse cx="378.2" cy="274.8" rx="6.7" ry="3.1" fill="#a9abad"/><ellipse cx="378.2" cy="273.4" rx="6.7" ry="3.1" fill="#808487"/><ellipse cx="403.8" cy="274.8" rx="6.9" ry="3.2" fill="#a9abad"/><ellipse cx="403.8" cy="273.4" rx="6.9" ry="3.2" fill="#808487"/><ellipse cx="429.4" cy="274.9" rx="7.0" ry="3.2" fill="#a9abad"/><ellipse cx="429.4" cy="273.5" rx="7.0" ry="3.2" fill="#808487"/><ellipse cx="455.2" cy="274.9" rx="7.1" ry="3.2" fill="#9accee"/><ellipse cx="455.2" cy="273.5" rx="7.1" ry="3.2" fill="#66a6d4"/><ellipse cx="481.1" cy="275.0" rx="7.3" ry="3.2" fill="#9accee"/><ellipse cx="481.1" cy="273.6" rx="7.3" ry="3.2" fill="#66a6d4"/><ellipse cx="507.1" cy="275.1" rx="7.4" ry="3.3" fill="#9accee"/><ellipse cx="507.1" cy="273.7" rx="7.4" ry="3.3" fill="#66a6d4"/><ellipse cx="115.1" cy="277.2" rx="7.0" ry="3.2" fill="#9accee"/><ellipse cx="115.1" cy="275.8" rx="7.0" ry="3.2" fill="#66a6d4"/><ellipse cx="139.7" cy="277.3" rx="6.9" ry="3.2" fill="#9accee"/><ellipse cx="139.7" cy="275.9" rx="6.9" ry="3.2" fill="#66a6d4"/><ellipse cx="164.4" cy="277.4" rx="6.8" ry="3.2" fill="#9accee"/><ellipse cx="164.4" cy="276.0" rx="6.8" ry="3.2" fill="#66a6d4"/><ellipse cx="189.2" cy="277.5" rx="6.8" ry="3.2" fill="#a9abad"/><ellipse cx="189.2" cy="276.1" rx="6.8" ry="3.2" fill="#808487"/><ellipse cx="214.1" cy="277.5" rx="6.7" ry="3.1" fill="#a9abad"/><ellipse cx="214.1" cy="276.1" rx="6.7" ry="3.1" fill="#808487"/><ellipse cx="239.1" cy="277.6" rx="6.6" ry="3.1" fill="#a9abad"/><ellipse cx="239.1" cy="276.2" rx="6.6" ry="3.1" fill="#808487"/><ellipse cx="264.2" cy="277.7" rx="6.6" ry="3.1" fill="#a9abad"/><ellipse cx="264.2" cy="276.3" rx="6.6" ry="3.1" fill="#808487"/><ellipse cx="289.4" cy="277.7" rx="6.5" ry="3.1" fill="#a9abad"/><ellipse cx="289.4" cy="276.3" rx="6.5" ry="3.1" fill="#808487"/><ellipse cx="314.8" cy="277.8" rx="6.5" ry="3.1" fill="#a9abad"/><ellipse cx="314.8" cy="276.4" rx="6.5" ry="3.1" fill="#808487"/><ellipse cx="340.3" cy="277.9" rx="6.6" ry="3.1" fill="#a9abad"/><ellipse cx="340.3" cy="276.5" rx="6.6" ry="3.1" fill="#808487"/><ellipse cx="365.9" cy="277.9" rx="6.7" ry="3.1" fill="#a9abad"/><ellipse cx="365.9" cy="276.5" rx="6.7" ry="3.1" fill="#808487"/><ellipse cx="391.6" cy="278.0" rx="6.9" ry="3.2" fill="#a9abad"/><ellipse cx="391.6" cy="276.6" rx="6.9" ry="3.2" fill="#808487"/><ellipse cx="417.4" cy="278.1" rx="7.0" ry="3.2" fill="#a9abad"/><ellipse cx="417.4" cy="276.7" rx="7.0" ry="3.2" fill="#808487"/><ellipse cx="443.3" cy="278.2" rx="7.1" ry="3.2" fill="#a9abad"/><ellipse cx="443.3" cy="276.8" rx="7.1" ry="3.2" fill="#808487"/><ellipse cx="469.4" cy="278.2" rx="7.3" ry="3.2" fill="#9accee"/><ellipse cx="469.4" cy="276.8" rx="7.3" ry="3.2" fill="#66a6d4"/><ellipse cx="495.6" cy="278.3" rx="7.4" ry="3.3" fill="#9accee"/><ellipse cx="495.6" cy="276.9" rx="7.4" ry="3.3" fill="#66a6d4"/><ellipse cx="521.9" cy="278.4" rx="7.6" ry="3.3" fill="#9accee"/><ellipse cx="521.9" cy="277.0" rx="7.6" ry="3.3" fill="#66a6d4"/><ellipse cx="101.0" cy="280.4" rx="7.1" ry="3.2" fill="#9accee"/><ellipse cx="101.0" cy="279.0" rx="7.1" ry="3.2" fill="#66a6d4"/><ellipse cx="125.7" cy="280.5" rx="7.0" ry="3.2" fill="#9accee"/><ellipse cx="125.7" cy="279.1" rx="7.0" ry="3.2" fill="#66a6d4"/><ellipse cx="150.5" cy="280.6" rx="6.9" ry="3.2" fill="#9accee"/><ellipse cx="150.5" cy="279.2" rx="6.9" ry="3.2" fill="#66a6d4"/><ellipse cx="175.5" cy="280.6" rx="6.9" ry="3.2" fill="#a9abad"/><ellipse cx="175.5" cy="279.2" rx="6.9" ry="3.2" fill="#808487"/><ellipse cx="200.5" cy="280.7" rx="6.8" ry="3.2" fill="#a9abad"/><ellipse cx="200.5" cy="279.3" rx="6.8" ry="3.2" fill="#808487"/><ellipse cx="225.7" cy="280.8" rx="6.7" ry="3.1" fill="#a9abad"/><ellipse cx="225.7" cy="279.4" rx="6.7" ry="3.1" fill="#808487"/><ellipse cx="251.0" cy="280.9" rx="6.7" ry="3.1" fill="#a9abad"/><ellipse cx="251.0" cy="279.5" rx="6.7" ry="3.1" fill="#808487"/><ellipse cx="276.4" cy="280.9" rx="6.6" ry="3.1" fill="#a9abad"/><ellipse cx="276.4" cy="279.5" rx="6.6" ry="3.1" fill="#808487"/><ellipse cx="301.9" cy="281.0" rx="6.5" ry="3.1" fill="#a9abad"/><ellipse cx="301.9" cy="279.6" rx="6.5" ry="3.1" fill="#808487"/><ellipse cx="327.5" cy="281.1" rx="6.6" ry="3.1" fill="#a9abad"/><ellipse cx="327.5" cy="279.7" rx="6.6" ry="3.1" fill="#808487"/><ellipse cx="353.3" cy="281.2" rx="6.7" ry="3.1" fill="#a9abad"/><ellipse cx="353.3" cy="279.8" rx="6.7" ry="3.1" fill="#808487"/><ellipse cx="379.2" cy="281.2" rx="6.9" ry="3.2" fill="#a9abad"/><ellipse cx="379.2" cy="279.8" rx="6.9" ry="3.2" fill="#808487"/><ellipse cx="405.2" cy="281.3" rx="7.0" ry="3.2" fill="#a9abad"/><ellipse cx="405.2" cy="279.9" rx="7.0" ry="3.2" fill="#808487"/><ellipse cx="431.3" cy="281.4" rx="7.1" ry="3.2" fill="#a9abad"/><ellipse cx="431.3" cy="280.0" rx="7.1" ry="3.2" fill="#808487"/><ellipse cx="457.5" cy="281.5" rx="7.3" ry="3.2" fill="#a9abad"/><ellipse cx="457.5" cy="280.1" rx="7.3" ry="3.2" fill="#808487"/><ellipse cx="483.9" cy="281.6" rx="7.4" ry="3.3" fill="#9accee"/><ellipse cx="483.9" cy="280.2" rx="7.4" ry="3.3" fill="#66a6d4"/><ellipse cx="510.3" cy="281.7" rx="7.6" ry="3.3" fill="#9accee"/><ellipse cx="510.3" cy="280.3" rx="7.6" ry="3.3" fill="#66a6d4"/><ellipse cx="537.0" cy="281.7" rx="7.7" ry="3.3" fill="#9accee"/><ellipse cx="537.0" cy="280.3" rx="7.7" ry="3.3" fill="#66a6d4"/><ellipse cx="111.5" cy="283.7" rx="7.1" ry="3.2" fill="#9accee"/><ellipse cx="111.5" cy="282.3" rx="7.1" ry="3.2" fill="#66a6d4"/><ellipse cx="136.5" cy="283.8" rx="7.1" ry="3.2" fill="#9accee"/><ellipse cx="136.5" cy="282.4" rx="7.1" ry="3.2" fill="#66a6d4"/><ellipse cx="161.6" cy="283.9" rx="7.0" ry="3.2" fill="#a9abad"/><ellipse cx="161.6" cy="282.5" rx="7.0" ry="3.2" fill="#808487"/><ellipse cx="186.8" cy="283.9" rx="6.9" ry="3.2" fill="#a9abad"/><ellipse cx="186.8" cy="282.5" rx="6.9" ry="3.2" fill="#808487"/><ellipse cx="212.1" cy="284.0" rx="6.8" ry="3.2" fill="#a9abad"/><ellipse cx="212.1" cy="282.6" rx="6.8" ry="3.2" fill="#808487"/><ellipse cx="237.6" cy="284.1" rx="6.8" ry="3.1" fill="#a9abad"/><ellipse cx="237.6" cy="282.7" rx="6.8" ry="3.1" fill="#808487"/><ellipse cx="263.1" cy="284.2" rx="6.7" ry="3.1" fill="#a9abad"/><ellipse cx="263.1" cy="282.8" rx="6.7" ry="3.1" fill="#808487"/><ellipse cx="288.8" cy="284.3" rx="6.6" ry="3.1" fill="#a9abad"/><ellipse cx="288.8" cy="282.9" rx="6.6" ry="3.1" fill="#808487"/><ellipse cx="314.6" cy="284.4" rx="6.6" ry="3.1" fill="#a9abad"/><ellipse cx="314.6" cy="283.0" rx="6.6" ry="3.1" fill="#808487"/><ellipse cx="340.5" cy="284.5" rx="6.7" ry="3.1" fill="#a9abad"/><ellipse cx="340.5" cy="283.1" rx="6.7" ry="3.1" fill="#808487"/><ellipse cx="366.6" cy="284.5" rx="6.8" ry="3.2" fill="#a9abad"/><ellipse cx="366.6" cy="283.1" rx="6.8" ry="3.2" fill="#808487"/><ellipse cx="392.7" cy="284.6" rx="7.0" ry="3.2" fill="#a9abad"/><ellipse cx="392.7" cy="283.2" rx="7.0" ry="3.2" fill="#808487"/><ellipse cx="419.0" cy="284.7" rx="7.1" ry="3.2" fill="#a9abad"/><ellipse cx="419.0" cy="283.3" rx="7.1" ry="3.2" fill="#808487"/><ellipse cx="445.4" cy="284.8" rx="7.3" ry="3.2" fill="#a9abad"/><ellipse cx="445.4" cy="283.4" rx="7.3" ry="3.2" fill="#808487"/><ellipse cx="472.0" cy="284.9" rx="7.4" ry="3.3" fill="#a9abad"/><ellipse cx="472.0" cy="283.5" rx="7.4" ry="3.3" fill="#808487"/><ellipse cx="498.6" cy="285.0" rx="7.6" ry="3.3" fill="#9accee"/><ellipse cx="498.6" cy="283.6" rx="7.6" ry="3.3" fill="#66a6d4"/><ellipse cx="525.4" cy="285.1" rx="7.7" ry="3.3" fill="#9accee"/><ellipse cx="525.4" cy="283.7" rx="7.7" ry="3.3" fill="#66a6d4"/><ellipse cx="552.3" cy="285.2" rx="7.9" ry="3.3" fill="#9accee"/><ellipse cx="552.3" cy="283.8" rx="7.9" ry="3.3" fill="#66a6d4"/><ellipse cx="122.3" cy="287.0" rx="7.2" ry="3.2" fill="#9accee"/><ellipse cx="122.3" cy="285.6" rx="7.2" ry="3.2" fill="#66a6d4"/><ellipse cx="147.5" cy="287.1" rx="7.1" ry="3.2" fill="#9accee"/><ellipse cx="147.5" cy="285.7" rx="7.1" ry="3.2" fill="#66a6d4"/><ellipse cx="172.9" cy="287.2" rx="7.0" ry="3.2" fill="#a9abad"/><ellipse cx="172.9" cy="285.8" rx="7.0" ry="3.2" fill="#808487"/><ellipse cx="198.4" cy="287.3" rx="6.9" ry="3.2" fill="#a9abad"/><ellipse cx="198.4" cy="285.9" rx="6.9" ry="3.2" fill="#808487"/><ellipse cx="224.0" cy="287.4" rx="6.9" ry="3.2" fill="#a9abad"/><ellipse cx="224.0" cy="286.0" rx="6.9" ry="3.2" fill="#808487"/><ellipse cx="249.7" cy="287.5" rx="6.8" ry="3.2" fill="#a9abad"/><ellipse cx="249.7" cy="286.1" rx="6.8" ry="3.2" fill="#808487"/><ellipse cx="275.5" cy="287.6" rx="6.7" ry="3.1" fill="#a9abad"/><ellipse cx="275.5" cy="286.2" rx="6.7" ry="3.1" fill="#808487"/><ellipse cx="301.5" cy="287.7" rx="6.6" ry="3.1" fill="#a9abad"/><ellipse cx="301.5" cy="286.3" rx="6.6" ry="3.1" fill="#808487"/><ellipse cx="327.6" cy="287.8" rx="6.7" ry="3.1" fill="#a9abad"/><ellipse cx="327.6" cy="286.4" rx="6.7" ry="3.1" fill="#808487"/><ellipse cx="353.8" cy="287.9" rx="6.8" ry="3.2" fill="#a9abad"/><ellipse cx="353.8" cy="286.5" rx="6.8" ry="3.2" fill="#808487"/><ellipse cx="380.1" cy="288.0" rx="7.0" ry="3.2" fill="#a9abad"/><ellipse cx="380.1" cy="286.6" rx="7.0" ry="3.2" fill="#808487"/><ellipse cx="406.6" cy="288.1" rx="7.1" ry="3.2" fill="#a9abad"/><ellipse cx="406.6" cy="286.7" rx="7.1" ry="3.2" fill="#808487"/><ellipse cx="433.2" cy="288.2" rx="7.3" ry="3.2" fill="#a9abad"/><ellipse cx="433.2" cy="286.8" rx="7.3" ry="3.2" fill="#808487"/><ellipse cx="459.9" cy="288.3" rx="7.4" ry="3.3" fill="#a9abad"/><ellipse cx="459.9" cy="286.9" rx="7.4" ry="3.3" fill="#808487"/><ellipse cx="486.7" cy="288.4" rx="7.6" ry="3.3" fill="#a9abad"/><ellipse cx="486.7" cy="287.0" rx="7.6" ry="3.3" fill="#808487"/><ellipse cx="513.7" cy="288.5" rx="7.7" ry="3.3" fill="#9accee"/><ellipse cx="513.7" cy="287.1" rx="7.7" ry="3.3" fill="#66a6d4"/><ellipse cx="540.8" cy="288.6" rx="7.9" ry="3.3" fill="#9accee"/><ellipse cx="540.8" cy="287.2" rx="7.9" ry="3.3" fill="#66a6d4"/><ellipse cx="568.0" cy="288.7" rx="8.0" ry="3.4" fill="#9accee"/><ellipse cx="568.0" cy="287.3" rx="8.0" ry="3.4" fill="#66a6d4"/><ellipse cx="133.2" cy="290.4" rx="7.2" ry="3.2" fill="#9accee"/><ellipse cx="133.2" cy="289.0" rx="7.2" ry="3.2" fill="#66a6d4"/><ellipse cx="158.8" cy="290.5" rx="7.1" ry="3.2" fill="#9accee"/><ellipse cx="158.8" cy="289.1" rx="7.1" ry="3.2" fill="#66a6d4"/><ellipse cx="184.4" cy="290.6" rx="7.0" ry="3.2" fill="#a9abad"/><ellipse cx="184.4" cy="289.2" rx="7.0" ry="3.2" fill="#808487"/><ellipse cx="210.2" cy="290.7" rx="7.0" ry="3.2" fill="#a9abad"/><ellipse cx="210.2" cy="289.3" rx="7.0" ry="3.2" fill="#808487"/><ellipse cx="236.0" cy="290.9" rx="6.9" ry="3.2" fill="#a9abad"/><ellipse cx="236.0" cy="289.5" rx="6.9" ry="3.2" fill="#808487"/><ellipse cx="262.1" cy="291.0" rx="6.8" ry="3.2" fill="#a9abad"/><ellipse cx="262.1" cy="289.6" rx="6.8" ry="3.2" fill="#808487"/><ellipse cx="288.2" cy="291.1" rx="6.7" ry="3.1" fill="#a9abad"/><ellipse cx="288.2" cy="289.7" rx="6.7" ry="3.1" fill="#808487"/><ellipse cx="314.4" cy="291.2" rx="6.7" ry="3.1" fill="#a9abad"/><ellipse cx="314.4" cy="289.8" rx="6.7" ry="3.1" fill="#808487"/><ellipse cx="340.8" cy="291.3" rx="6.8" ry="3.2" fill="#a9abad"/><ellipse cx="340.8" cy="289.9" rx="6.8" ry="3.2" fill="#808487"/><ellipse cx="367.3" cy="291.4" rx="7.0" ry="3.2" fill="#a9abad"/><ellipse cx="367.3" cy="290.0" rx="7.0" ry="3.2" fill="#808487"/><ellipse cx="394.0" cy="291.5" rx="7.1" ry="3.2" fill="#a9abad"/><ellipse cx="394.0" cy="290.1" rx="7.1" ry="3.2" fill="#808487"/><ellipse cx="420.7" cy="291.6" rx="7.3" ry="3.2" fill="#a9abad"/><ellipse cx="420.7" cy="290.2" rx="7.3" ry="3.2" fill="#808487"/><ellipse cx="447.6" cy="291.7" rx="7.4" ry="3.3" fill="#a9abad"/><ellipse cx="447.6" cy="290.3" rx="7.4" ry="3.3" fill="#808487"/><ellipse cx="474.6" cy="291.8" rx="7.6" ry="3.3" fill="#a9abad"/><ellipse cx="474.6" cy="290.4" rx="7.6" ry="3.3" fill="#808487"/><ellipse cx="501.8" cy="291.9" rx="7.7" ry="3.3" fill="#a9abad"/><ellipse cx="501.8" cy="290.5" rx="7.7" ry="3.3" fill="#808487"/><ellipse cx="529.0" cy="292.0" rx="7.9" ry="3.3" fill="#9accee"/><ellipse cx="529.0" cy="290.6" rx="7.9" ry="3.3" fill="#66a6d4"/><ellipse cx="556.4" cy="292.1" rx="8.0" ry="3.4" fill="#9accee"/><ellipse cx="556.4" cy="290.7" rx="8.0" ry="3.4" fill="#66a6d4"/><ellipse cx="584.0" cy="292.2" rx="8.2" ry="3.4" fill="#9accee"/><ellipse cx="584.0" cy="290.8" rx="8.2" ry="3.4" fill="#66a6d4"/><ellipse cx="144.4" cy="293.9" rx="7.2" ry="3.2" fill="#9accee"/><ellipse cx="144.4" cy="292.5" rx="7.2" ry="3.2" fill="#66a6d4"/><ellipse cx="170.2" cy="294.0" rx="7.1" ry="3.2" fill="#9accee"/><ellipse cx="170.2" cy="292.6" rx="7.1" ry="3.2" fill="#66a6d4"/><ellipse cx="196.1" cy="294.1" rx="7.1" ry="3.2" fill="#a9abad"/><ellipse cx="196.1" cy="292.7" rx="7.1" ry="3.2" fill="#808487"/><ellipse cx="222.2" cy="294.3" rx="7.0" ry="3.2" fill="#a9abad"/><ellipse cx="222.2" cy="292.9" rx="7.0" ry="3.2" fill="#808487"/><ellipse cx="248.4" cy="294.4" rx="6.9" ry="3.2" fill="#a9abad"/><ellipse cx="248.4" cy="293.0" rx="6.9" ry="3.2" fill="#808487"/><ellipse cx="274.7" cy="294.5" rx="6.8" ry="3.2" fill="#a9abad"/><ellipse cx="274.7" cy="293.1" rx="6.8" ry="3.2" fill="#808487"/><ellipse cx="301.1" cy="294.6" rx="6.8" ry="3.1" fill="#a9abad"/><ellipse cx="301.1" cy="293.2" rx="6.8" ry="3.1" fill="#808487"/><ellipse cx="327.6" cy="294.7" rx="6.8" ry="3.2" fill="#a9abad"/><ellipse cx="327.6" cy="293.3" rx="6.8" ry="3.2" fill="#808487"/><ellipse cx="354.3" cy="294.8" rx="7.0" ry="3.2" fill="#a9abad"/><ellipse cx="354.3" cy="293.4" rx="7.0" ry="3.2" fill="#808487"/><ellipse cx="381.1" cy="294.9" rx="7.1" ry="3.2" fill="#a9abad"/><ellipse cx="381.1" cy="293.5" rx="7.1" ry="3.2" fill="#808487"/><ellipse cx="408.1" cy="295.1" rx="7.3" ry="3.2" fill="#a9abad"/><ellipse cx="408.1" cy="293.7" rx="7.3" ry="3.2" fill="#808487"/><ellipse cx="435.1" cy="295.2" rx="7.4" ry="3.3" fill="#a9abad"/><ellipse cx="435.1" cy="293.8" rx="7.4" ry="3.3" fill="#808487"/><ellipse cx="462.3" cy="295.3" rx="7.6" ry="3.3" fill="#a9abad"/><ellipse cx="462.3" cy="293.9" rx="7.6" ry="3.3" fill="#808487"/><ellipse cx="489.7" cy="295.4" rx="7.7" ry="3.3" fill="#a9abad"/><ellipse cx="489.7" cy="294.0" rx="7.7" ry="3.3" fill="#808487"/><ellipse cx="517.1" cy="295.5" rx="7.9" ry="3.3" fill="#a9abad"/><ellipse cx="517.1" cy="294.1" rx="7.9" ry="3.3" fill="#808487"/><ellipse cx="544.7" cy="295.6" rx="8.1" ry="3.4" fill="#9accee"/><ellipse cx="544.7" cy="294.2" rx="8.1" ry="3.4" fill="#66a6d4"/><ellipse cx="572.4" cy="295.8" rx="8.2" ry="3.4" fill="#9accee"/><ellipse cx="572.4" cy="294.4" rx="8.2" ry="3.4" fill="#66a6d4"/><ellipse cx="600.3" cy="295.9" rx="8.4" ry="3.4" fill="#9accee"/><ellipse cx="600.3" cy="294.5" rx="8.4" ry="3.4" fill="#66a6d4"/><ellipse cx="155.8" cy="297.5" rx="7.3" ry="3.2" fill="#9accee"/><ellipse cx="155.8" cy="296.1" rx="7.3" ry="3.2" fill="#66a6d4"/><ellipse cx="181.9" cy="297.6" rx="7.2" ry="3.2" fill="#9accee"/><ellipse cx="181.9" cy="296.2" rx="7.2" ry="3.2" fill="#66a6d4"/><ellipse cx="208.1" cy="297.7" rx="7.1" ry="3.2" fill="#a9abad"/><ellipse cx="208.1" cy="296.3" rx="7.1" ry="3.2" fill="#808487"/><ellipse cx="234.5" cy="297.8" rx="7.0" ry="3.2" fill="#a9abad"/><ellipse cx="234.5" cy="296.4" rx="7.0" ry="3.2" fill="#808487"/><ellipse cx="260.9" cy="298.0" rx="6.9" ry="3.2" fill="#a9abad"/><ellipse cx="260.9" cy="296.6" rx="6.9" ry="3.2" fill="#808487"/><ellipse cx="287.5" cy="298.1" rx="6.9" ry="3.2" fill="#a9abad"/><ellipse cx="287.5" cy="296.7" rx="6.9" ry="3.2" fill="#808487"/><ellipse cx="314.3" cy="298.2" rx="6.8" ry="3.2" fill="#a9abad"/><ellipse cx="314.3" cy="296.8" rx="6.8" ry="3.2" fill="#808487"/><ellipse cx="341.1" cy="298.3" rx="7.0" ry="3.2" fill="#a9abad"/><ellipse cx="341.1" cy="296.9" rx="7.0" ry="3.2" fill="#808487"/><ellipse cx="368.1" cy="298.5" rx="7.1" ry="3.2" fill="#a9abad"/><ellipse cx="368.1" cy="297.1" rx="7.1" ry="3.2" fill="#808487"/><ellipse cx="395.2" cy="298.6" rx="7.3" ry="3.2" fill="#a9abad"/><ellipse cx="395.2" cy="297.2" rx="7.3" ry="3.2" fill="#808487"/><ellipse cx="422.5" cy="298.7" rx="7.4" ry="3.3" fill="#a9abad"/><ellipse cx="422.5" cy="297.3" rx="7.4" ry="3.3" fill="#808487"/><ellipse cx="449.8" cy="298.8" rx="7.6" ry="3.3" fill="#a9abad"/><ellipse cx="449.8" cy="297.4" rx="7.6" ry="3.3" fill="#808487"/><ellipse cx="477.4" cy="299.0" rx="7.7" ry="3.3" fill="#a9abad"/><ellipse cx="477.4" cy="297.6" rx="7.7" ry="3.3" fill="#808487"/><ellipse cx="505.0" cy="299.1" rx="7.9" ry="3.3" fill="#a9abad"/><ellipse cx="505.0" cy="297.7" rx="7.9" ry="3.3" fill="#808487"/><ellipse cx="532.8" cy="299.2" rx="8.1" ry="3.4" fill="#a9abad"/><ellipse cx="532.8" cy="297.8" rx="8.1" ry="3.4" fill="#808487"/><ellipse cx="560.7" cy="299.3" rx="8.2" ry="3.4" fill="#9accee"/><ellipse cx="560.7" cy="297.9" rx="8.2" ry="3.4" fill="#66a6d4"/><ellipse cx="588.8" cy="299.5" rx="8.4" ry="3.4" fill="#9accee"/><ellipse cx="588.8" cy="298.1" rx="8.4" ry="3.4" fill="#66a6d4"/><ellipse cx="617.0" cy="299.6" rx="8.5" ry="3.5" fill="#9accee"/><ellipse cx="617.0" cy="298.2" rx="8.5" ry="3.5" fill="#66a6d4"/><ellipse cx="167.4" cy="301.1" rx="7.3" ry="3.2" fill="#9accee"/><ellipse cx="167.4" cy="299.7" rx="7.3" ry="3.2" fill="#66a6d4"/><ellipse cx="193.8" cy="301.2" rx="7.2" ry="3.2" fill="#9accee"/><ellipse cx="193.8" cy="299.8" rx="7.2" ry="3.2" fill="#66a6d4"/><ellipse cx="220.3" cy="301.4" rx="7.1" ry="3.2" fill="#a9abad"/><ellipse cx="220.3" cy="300.0" rx="7.1" ry="3.2" fill="#808487"/><ellipse cx="247.0" cy="301.5" rx="7.1" ry="3.2" fill="#a9abad"/><ellipse cx="247.0" cy="300.1" rx="7.1" ry="3.2" fill="#808487"/><ellipse cx="273.7" cy="301.6" rx="7.0" ry="3.2" fill="#a9abad"/><ellipse cx="273.7" cy="300.2" rx="7.0" ry="3.2" fill="#808487"/><ellipse cx="300.7" cy="301.8" rx="6.9" ry="3.2" fill="#a9abad"/><ellipse cx="300.7" cy="300.4" rx="6.9" ry="3.2" fill="#808487"/><ellipse cx="327.7" cy="301.9" rx="7.0" ry="3.2" fill="#a9abad"/><ellipse cx="327.7" cy="300.5" rx="7.0" ry="3.2" fill="#808487"/><ellipse cx="354.9" cy="302.0" rx="7.1" ry="3.2" fill="#a9abad"/><ellipse cx="354.9" cy="300.6" rx="7.1" ry="3.2" fill="#808487"/><ellipse cx="382.2" cy="302.2" rx="7.3" ry="3.2" fill="#a9abad"/><ellipse cx="382.2" cy="300.8" rx="7.3" ry="3.2" fill="#808487"/><ellipse cx="409.6" cy="302.3" rx="7.4" ry="3.3" fill="#a9abad"/><ellipse cx="409.6" cy="300.9" rx="7.4" ry="3.3" fill="#808487"/><ellipse cx="437.2" cy="302.4" rx="7.6" ry="3.3" fill="#a9abad"/><ellipse cx="437.2" cy="301.0" rx="7.6" ry="3.3" fill="#808487"/><ellipse cx="464.9" cy="302.6" rx="7.7" ry="3.3" fill="#a9abad"/><ellipse cx="464.9" cy="301.2" rx="7.7" ry="3.3" fill="#808487"/><ellipse cx="492.7" cy="302.7" rx="7.9" ry="3.3" fill="#a9abad"/><ellipse cx="492.7" cy="301.3" rx="7.9" ry="3.3" fill="#808487"/><ellipse cx="520.7" cy="302.8" rx="8.1" ry="3.4" fill="#a9abad"/><ellipse cx="520.7" cy="301.4" rx="8.1" ry="3.4" fill="#808487"/><ellipse cx="548.8" cy="303.0" rx="8.2" ry="3.4" fill="#a9abad"/><ellipse cx="548.8" cy="301.6" rx="8.2" ry="3.4" fill="#808487"/><ellipse cx="577.1" cy="303.1" rx="8.4" ry="3.4" fill="#9accee"/><ellipse cx="577.1" cy="301.7" rx="8.4" ry="3.4" fill="#66a6d4"/><ellipse cx="605.5" cy="303.3" rx="8.6" ry="3.5" fill="#9accee"/><ellipse cx="605.5" cy="301.9" rx="8.6" ry="3.5" fill="#66a6d4"/><ellipse cx="634.0" cy="303.4" rx="8.7" ry="3.5" fill="#9accee"/><ellipse cx="634.0" cy="302.0" rx="8.7" ry="3.5" fill="#66a6d4"/><ellipse cx="179.3" cy="304.8" rx="7.3" ry="3.2" fill="#9accee"/><ellipse cx="179.3" cy="303.4" rx="7.3" ry="3.2" fill="#66a6d4"/><ellipse cx="206.0" cy="304.9" rx="7.2" ry="3.2" fill="#9accee"/><ellipse cx="206.0" cy="303.5" rx="7.2" ry="3.2" fill="#66a6d4"/><ellipse cx="232.8" cy="305.1" rx="7.2" ry="3.2" fill="#a9abad"/><ellipse cx="232.8" cy="303.7" rx="7.2" ry="3.2" fill="#808487"/><ellipse cx="259.8" cy="305.2" rx="7.1" ry="3.2" fill="#a9abad"/><ellipse cx="259.8" cy="303.8" rx="7.1" ry="3.2" fill="#808487"/><ellipse cx="286.8" cy="305.4" rx="7.0" ry="3.2" fill="#a9abad"/><ellipse cx="286.8" cy="304.0" rx="7.0" ry="3.2" fill="#808487"/><ellipse cx="314.1" cy="305.5" rx="7.0" ry="3.2" fill="#a9abad"/><ellipse cx="314.1" cy="304.1" rx="7.0" ry="3.2" fill="#808487"/><ellipse cx="341.4" cy="305.7" rx="7.1" ry="3.2" fill="#a9abad"/><ellipse cx="341.4" cy="304.3" rx="7.1" ry="3.2" fill="#808487"/><ellipse cx="368.9" cy="305.8" rx="7.3" ry="3.2" fill="#a9abad"/><ellipse cx="368.9" cy="304.4" rx="7.3" ry="3.2" fill="#808487"/><ellipse cx="396.5" cy="305.9" rx="7.4" ry="3.3" fill="#a9abad"/><ellipse cx="396.5" cy="304.5" rx="7.4" ry="3.3" fill="#808487"/><ellipse cx="424.3" cy="306.1" rx="7.6" ry="3.3" fill="#a9abad"/><ellipse cx="424.3" cy="304.7" rx="7.6" ry="3.3" fill="#808487"/><ellipse cx="452.2" cy="306.2" rx="7.7" ry="3.3" fill="#a9abad"/><ellipse cx="452.2" cy="304.8" rx="7.7" ry="3.3" fill="#808487"/><ellipse cx="480.2" cy="306.4" rx="7.9" ry="3.3" fill="#a9abad"/><ellipse cx="480.2" cy="305.0" rx="7.9" ry="3.3" fill="#808487"/><ellipse cx="508.4" cy="306.5" rx="8.1" ry="3.4" fill="#a9abad"/><ellipse cx="508.4" cy="305.1" rx="8.1" ry="3.4" fill="#808487"/><ellipse cx="536.7" cy="306.7" rx="8.2" ry="3.4" fill="#a9abad"/><ellipse cx="536.7" cy="305.3" rx="8.2" ry="3.4" fill="#808487"/><ellipse cx="565.2" cy="306.8" rx="8.4" ry="3.4" fill="#a9abad"/><ellipse cx="565.2" cy="305.4" rx="8.4" ry="3.4" fill="#808487"/><ellipse cx="593.8" cy="307.0" rx="8.6" ry="3.5" fill="#9accee"/><ellipse cx="593.8" cy="305.6" rx="8.6" ry="3.5" fill="#66a6d4"/><ellipse cx="622.5" cy="307.1" rx="8.7" ry="3.5" fill="#9accee"/><ellipse cx="622.5" cy="305.7" rx="8.7" ry="3.5" fill="#66a6d4"/><ellipse cx="191.4" cy="308.6" rx="7.4" ry="3.3" fill="#9accee"/><ellipse cx="191.4" cy="307.2" rx="7.4" ry="3.3" fill="#66a6d4"/><ellipse cx="218.4" cy="308.7" rx="7.3" ry="3.2" fill="#9accee"/><ellipse cx="218.4" cy="307.3" rx="7.3" ry="3.2" fill="#66a6d4"/><ellipse cx="245.5" cy="308.9" rx="7.2" ry="3.2" fill="#a9abad"/><ellipse cx="245.5" cy="307.5" rx="7.2" ry="3.2" fill="#808487"/><ellipse cx="272.8" cy="309.0" rx="7.1" ry="3.2" fill="#a9abad"/><ellipse cx="272.8" cy="307.6" rx="7.1" ry="3.2" fill="#808487"/><ellipse cx="300.2" cy="309.2" rx="7.0" ry="3.2" fill="#a9abad"/><ellipse cx="300.2" cy="307.8" rx="7.0" ry="3.2" fill="#808487"/><ellipse cx="327.7" cy="309.3" rx="7.1" ry="3.2" fill="#a9abad"/><ellipse cx="327.7" cy="307.9" rx="7.1" ry="3.2" fill="#808487"/><ellipse cx="355.4" cy="309.5" rx="7.3" ry="3.2" fill="#a9abad"/><ellipse cx="355.4" cy="308.1" rx="7.3" ry="3.2" fill="#808487"/><ellipse cx="383.2" cy="309.7" rx="7.4" ry="3.3" fill="#a9abad"/><ellipse cx="383.2" cy="308.3" rx="7.4" ry="3.3" fill="#808487"/><ellipse cx="411.2" cy="309.8" rx="7.6" ry="3.3" fill="#a9abad"/><ellipse cx="411.2" cy="308.4" rx="7.6" ry="3.3" fill="#808487"/><ellipse cx="439.3" cy="310.0" rx="7.8" ry="3.3" fill="#a9abad"/><ellipse cx="439.3" cy="308.6" rx="7.8" ry="3.3" fill="#808487"/><ellipse cx="467.5" cy="310.1" rx="7.9" ry="3.3" fill="#a9abad"/><ellipse cx="467.5" cy="308.7" rx="7.9" ry="3.3" fill="#808487"/><ellipse cx="495.9" cy="310.3" rx="8.1" ry="3.4" fill="#a9abad"/><ellipse cx="495.9" cy="308.9" rx="8.1" ry="3.4" fill="#808487"/><ellipse cx="524.4" cy="310.4" rx="8.3" ry="3.4" fill="#a9abad"/><ellipse cx="524.4" cy="309.0" rx="8.3" ry="3.4" fill="#808487"/><ellipse cx="553.1" cy="310.6" rx="8.4" ry="3.4" fill="#a9abad"/><ellipse cx="553.1" cy="309.2" rx="8.4" ry="3.4" fill="#808487"/><ellipse cx="581.9" cy="310.8" rx="8.6" ry="3.5" fill="#9accee"/><ellipse cx="581.9" cy="309.4" rx="8.6" ry="3.5" fill="#66a6d4"/><ellipse cx="610.8" cy="310.9" rx="8.8" ry="3.5" fill="#9accee"/><ellipse cx="610.8" cy="309.5" rx="8.8" ry="3.5" fill="#66a6d4"/><ellipse cx="203.8" cy="312.4" rx="7.4" ry="3.3" fill="#9accee"/><ellipse cx="203.8" cy="311.0" rx="7.4" ry="3.3" fill="#66a6d4"/><ellipse cx="231.1" cy="312.6" rx="7.3" ry="3.2" fill="#9accee"/><ellipse cx="231.1" cy="311.2" rx="7.3" ry="3.2" fill="#66a6d4"/><ellipse cx="258.5" cy="312.8" rx="7.2" ry="3.2" fill="#a9abad"/><ellipse cx="258.5" cy="311.4" rx="7.2" ry="3.2" fill="#808487"/><ellipse cx="286.1" cy="312.9" rx="7.1" ry="3.2" fill="#a9abad"/><ellipse cx="286.1" cy="311.5" rx="7.1" ry="3.2" fill="#808487"/><ellipse cx="313.9" cy="313.1" rx="7.1" ry="3.2" fill="#a9abad"/><ellipse cx="313.9" cy="311.7" rx="7.1" ry="3.2" fill="#808487"/><ellipse cx="341.7" cy="313.3" rx="7.3" ry="3.2" fill="#a9abad"/><ellipse cx="341.7" cy="311.9" rx="7.3" ry="3.2" fill="#808487"/><ellipse cx="369.7" cy="313.4" rx="7.4" ry="3.3" fill="#a9abad"/><ellipse cx="369.7" cy="312.0" rx="7.4" ry="3.3" fill="#808487"/><ellipse cx="397.9" cy="313.6" rx="7.6" ry="3.3" fill="#a9abad"/><ellipse cx="397.9" cy="312.2" rx="7.6" ry="3.3" fill="#808487"/><ellipse cx="426.2" cy="313.8" rx="7.8" ry="3.3" fill="#a9abad"/><ellipse cx="426.2" cy="312.4" rx="7.8" ry="3.3" fill="#808487"/><ellipse cx="454.6" cy="313.9" rx="7.9" ry="3.3" fill="#a9abad"/><ellipse cx="454.6" cy="312.5" rx="7.9" ry="3.3" fill="#808487"/><ellipse cx="483.2" cy="314.1" rx="8.1" ry="3.4" fill="#a9abad"/><ellipse cx="483.2" cy="312.7" rx="8.1" ry="3.4" fill="#808487"/><ellipse cx="511.9" cy="314.3" rx="8.3" ry="3.4" fill="#a9abad"/><ellipse cx="511.9" cy="312.9" rx="8.3" ry="3.4" fill="#808487"/><ellipse cx="540.7" cy="314.4" rx="8.4" ry="3.4" fill="#a9abad"/><ellipse cx="540.7" cy="313.0" rx="8.4" ry="3.4" fill="#808487"/><ellipse cx="569.8" cy="314.6" rx="8.6" ry="3.5" fill="#9accee"/><ellipse cx="569.8" cy="313.2" rx="8.6" ry="3.5" fill="#66a6d4"/><ellipse cx="598.9" cy="314.8" rx="8.8" ry="3.5" fill="#9accee"/><ellipse cx="598.9" cy="313.4" rx="8.8" ry="3.5" fill="#66a6d4"/><ellipse cx="216.4" cy="316.4" rx="7.4" ry="3.3" fill="#9accee"/><ellipse cx="216.4" cy="315.0" rx="7.4" ry="3.3" fill="#66a6d4"/><ellipse cx="244.0" cy="316.5" rx="7.3" ry="3.2" fill="#9accee"/><ellipse cx="244.0" cy="315.1" rx="7.3" ry="3.2" fill="#66a6d4"/><ellipse cx="271.8" cy="316.7" rx="7.3" ry="3.2" fill="#a9abad"/><ellipse cx="271.8" cy="315.3" rx="7.3" ry="3.2" fill="#808487"/><ellipse cx="299.7" cy="316.9" rx="7.2" ry="3.2" fill="#a9abad"/><ellipse cx="299.7" cy="315.5" rx="7.2" ry="3.2" fill="#808487"/><ellipse cx="327.8" cy="317.1" rx="7.3" ry="3.2" fill="#a9abad"/><ellipse cx="327.8" cy="315.7" rx="7.3" ry="3.2" fill="#808487"/><ellipse cx="356.0" cy="317.2" rx="7.4" ry="3.3" fill="#a9abad"/><ellipse cx="356.0" cy="315.8" rx="7.4" ry="3.3" fill="#808487"/><ellipse cx="384.3" cy="317.4" rx="7.6" ry="3.3" fill="#a9abad"/><ellipse cx="384.3" cy="316.0" rx="7.6" ry="3.3" fill="#808487"/><ellipse cx="412.8" cy="317.6" rx="7.8" ry="3.3" fill="#a9abad"/><ellipse cx="412.8" cy="316.2" rx="7.8" ry="3.3" fill="#808487"/><ellipse cx="441.5" cy="317.8" rx="7.9" ry="3.3" fill="#a9abad"/><ellipse cx="441.5" cy="316.4" rx="7.9" ry="3.3" fill="#808487"/><ellipse cx="470.2" cy="318.0" rx="8.1" ry="3.4" fill="#a9abad"/><ellipse cx="470.2" cy="316.6" rx="8.1" ry="3.4" fill="#808487"/><ellipse cx="499.2" cy="318.1" rx="8.3" ry="3.4" fill="#a9abad"/><ellipse cx="499.2" cy="316.7" rx="8.3" ry="3.4" fill="#808487"/><ellipse cx="528.2" cy="318.3" rx="8.4" ry="3.4" fill="#a9abad"/><ellipse cx="528.2" cy="316.9" rx="8.4" ry="3.4" fill="#808487"/><ellipse cx="557.5" cy="318.5" rx="8.6" ry="3.5" fill="#9accee"/><ellipse cx="557.5" cy="317.1" rx="8.6" ry="3.5" fill="#66a6d4"/><ellipse cx="586.8" cy="318.7" rx="8.8" ry="3.5" fill="#9accee"/><ellipse cx="586.8" cy="317.3" rx="8.8" ry="3.5" fill="#66a6d4"/><ellipse cx="229.3" cy="320.4" rx="7.5" ry="3.3" fill="#9accee"/><ellipse cx="229.3" cy="319.0" rx="7.5" ry="3.3" fill="#66a6d4"/><ellipse cx="257.3" cy="320.6" rx="7.4" ry="3.3" fill="#9accee"/><ellipse cx="257.3" cy="319.2" rx="7.4" ry="3.3" fill="#66a6d4"/><ellipse cx="285.4" cy="320.8" rx="7.3" ry="3.2" fill="#a9abad"/><ellipse cx="285.4" cy="319.4" rx="7.3" ry="3.2" fill="#808487"/><ellipse cx="313.6" cy="321.0" rx="7.3" ry="3.2" fill="#a9abad"/><ellipse cx="313.6" cy="319.6" rx="7.3" ry="3.2" fill="#808487"/><ellipse cx="342.0" cy="321.1" rx="7.4" ry="3.3" fill="#a9abad"/><ellipse cx="342.0" cy="319.7" rx="7.4" ry="3.3" fill="#808487"/><ellipse cx="370.6" cy="321.3" rx="7.6" ry="3.3" fill="#a9abad"/><ellipse cx="370.6" cy="319.9" rx="7.6" ry="3.3" fill="#808487"/><ellipse cx="399.3" cy="321.5" rx="7.8" ry="3.3" fill="#a9abad"/><ellipse cx="399.3" cy="320.1" rx="7.8" ry="3.3" fill="#808487"/><ellipse cx="428.1" cy="321.7" rx="7.9" ry="3.3" fill="#a9abad"/><ellipse cx="428.1" cy="320.3" rx="7.9" ry="3.3" fill="#808487"/><ellipse cx="457.1" cy="321.9" rx="8.1" ry="3.4" fill="#a9abad"/><ellipse cx="457.1" cy="320.5" rx="8.1" ry="3.4" fill="#808487"/><ellipse cx="486.2" cy="322.1" rx="8.3" ry="3.4" fill="#a9abad"/><ellipse cx="486.2" cy="320.7" rx="8.3" ry="3.4" fill="#808487"/><ellipse cx="515.5" cy="322.3" rx="8.5" ry="3.4" fill="#a9abad"/><ellipse cx="515.5" cy="320.9" rx="8.5" ry="3.4" fill="#808487"/><ellipse cx="545.0" cy="322.5" rx="8.6" ry="3.5" fill="#9accee"/><ellipse cx="545.0" cy="321.1" rx="8.6" ry="3.5" fill="#66a6d4"/><ellipse cx="574.6" cy="322.7" rx="8.8" ry="3.5" fill="#9accee"/><ellipse cx="574.6" cy="321.3" rx="8.8" ry="3.5" fill="#66a6d4"/><ellipse cx="242.5" cy="324.5" rx="7.5" ry="3.3" fill="#9accee"/><ellipse cx="242.5" cy="323.1" rx="7.5" ry="3.3" fill="#66a6d4"/><ellipse cx="270.8" cy="324.7" rx="7.4" ry="3.3" fill="#9accee"/><ellipse cx="270.8" cy="323.3" rx="7.4" ry="3.3" fill="#66a6d4"/><ellipse cx="299.3" cy="324.9" rx="7.3" ry="3.2" fill="#a9abad"/><ellipse cx="299.3" cy="323.5" rx="7.3" ry="3.2" fill="#808487"/><ellipse cx="327.9" cy="325.1" rx="7.4" ry="3.3" fill="#a9abad"/><ellipse cx="327.9" cy="323.7" rx="7.4" ry="3.3" fill="#808487"/><ellipse cx="356.6" cy="325.3" rx="7.6" ry="3.3" fill="#a9abad"/><ellipse cx="356.6" cy="323.9" rx="7.6" ry="3.3" fill="#808487"/><ellipse cx="385.5" cy="325.5" rx="7.8" ry="3.3" fill="#a9abad"/><ellipse cx="385.5" cy="324.1" rx="7.8" ry="3.3" fill="#808487"/><ellipse cx="414.5" cy="325.7" rx="7.9" ry="3.3" fill="#a9abad"/><ellipse cx="414.5" cy="324.3" rx="7.9" ry="3.3" fill="#808487"/><ellipse cx="443.7" cy="325.9" rx="8.1" ry="3.4" fill="#a9abad"/><ellipse cx="443.7" cy="324.5" rx="8.1" ry="3.4" fill="#808487"/><ellipse cx="473.1" cy="326.1" rx="8.3" ry="3.4" fill="#a9abad"/><ellipse cx="473.1" cy="324.7" rx="8.3" ry="3.4" fill="#808487"/><ellipse cx="502.6" cy="326.3" rx="8.5" ry="3.4" fill="#a9abad"/><ellipse cx="502.6" cy="324.9" rx="8.5" ry="3.4" fill="#808487"/><ellipse cx="532.2" cy="326.5" rx="8.6" ry="3.5" fill="#9accee"/><ellipse cx="532.2" cy="325.1" rx="8.6" ry="3.5" fill="#66a6d4"/><ellipse cx="562.1" cy="326.7" rx="8.8" ry="3.5" fill="#9accee"/><ellipse cx="562.1" cy="325.3" rx="8.8" ry="3.5" fill="#66a6d4"/><ellipse cx="256.0" cy="328.7" rx="7.5" ry="3.3" fill="#9accee"/><ellipse cx="256.0" cy="327.3" rx="7.5" ry="3.3" fill="#66a6d4"/><ellipse cx="284.6" cy="328.9" rx="7.4" ry="3.3" fill="#9accee"/><ellipse cx="284.6" cy="327.5" rx="7.4" ry="3.3" fill="#66a6d4"/><ellipse cx="313.4" cy="329.1" rx="7.4" ry="3.3" fill="#a9abad"/><ellipse cx="313.4" cy="327.7" rx="7.4" ry="3.3" fill="#808487"/><ellipse cx="342.4" cy="329.3" rx="7.6" ry="3.3" fill="#a9abad"/><ellipse cx="342.4" cy="327.9" rx="7.6" ry="3.3" fill="#808487"/><ellipse cx="371.5" cy="329.6" rx="7.8" ry="3.3" fill="#a9abad"/><ellipse cx="371.5" cy="328.2" rx="7.8" ry="3.3" fill="#808487"/><ellipse cx="400.7" cy="329.8" rx="7.9" ry="3.3" fill="#a9abad"/><ellipse cx="400.7" cy="328.4" rx="7.9" ry="3.3" fill="#808487"/><ellipse cx="430.1" cy="330.0" rx="8.1" ry="3.4" fill="#a9abad"/><ellipse cx="430.1" cy="328.6" rx="8.1" ry="3.4" fill="#808487"/><ellipse cx="459.7" cy="330.2" rx="8.3" ry="3.4" fill="#a9abad"/><ellipse cx="459.7" cy="328.8" rx="8.3" ry="3.4" fill="#808487"/><ellipse cx="489.4" cy="330.4" rx="8.5" ry="3.4" fill="#a9abad"/><ellipse cx="489.4" cy="329.0" rx="8.5" ry="3.4" fill="#808487"/><ellipse cx="519.3" cy="330.6" rx="8.7" ry="3.5" fill="#9accee"/><ellipse cx="519.3" cy="329.2" rx="8.7" ry="3.5" fill="#66a6d4"/><ellipse cx="549.3" cy="330.9" rx="8.8" ry="3.5" fill="#9accee"/><ellipse cx="549.3" cy="329.5" rx="8.8" ry="3.5" fill="#66a6d4"/><ellipse cx="269.7" cy="333.0" rx="7.6" ry="3.3" fill="#9accee"/><ellipse cx="269.7" cy="331.6" rx="7.6" ry="3.3" fill="#66a6d4"/><ellipse cx="298.8" cy="333.2" rx="7.5" ry="3.3" fill="#9accee"/><ellipse cx="298.8" cy="331.8" rx="7.5" ry="3.3" fill="#66a6d4"/><ellipse cx="327.9" cy="333.4" rx="7.6" ry="3.3" fill="#a9abad"/><ellipse cx="327.9" cy="332.0" rx="7.6" ry="3.3" fill="#808487"/><ellipse cx="357.2" cy="333.7" rx="7.8" ry="3.3" fill="#a9abad"/><ellipse cx="357.2" cy="332.3" rx="7.8" ry="3.3" fill="#808487"/><ellipse cx="386.7" cy="333.9" rx="7.9" ry="3.3" fill="#a9abad"/><ellipse cx="386.7" cy="332.5" rx="7.9" ry="3.3" fill="#808487"/><ellipse cx="416.3" cy="334.1" rx="8.1" ry="3.4" fill="#a9abad"/><ellipse cx="416.3" cy="332.7" rx="8.1" ry="3.4" fill="#808487"/><ellipse cx="446.1" cy="334.4" rx="8.3" ry="3.4" fill="#a9abad"/><ellipse cx="446.1" cy="333.0" rx="8.3" ry="3.4" fill="#808487"/><ellipse cx="476.0" cy="334.6" rx="8.5" ry="3.4" fill="#a9abad"/><ellipse cx="476.0" cy="333.2" rx="8.5" ry="3.4" fill="#808487"/><ellipse cx="506.1" cy="334.8" rx="8.7" ry="3.5" fill="#9accee"/><ellipse cx="506.1" cy="333.4" rx="8.7" ry="3.5" fill="#66a6d4"/><ellipse cx="536.4" cy="335.1" rx="8.9" ry="3.5" fill="#9accee"/><ellipse cx="536.4" cy="333.7" rx="8.9" ry="3.5" fill="#66a6d4"/><ellipse cx="283.8" cy="337.4" rx="7.6" ry="3.3" fill="#9accee"/><ellipse cx="283.8" cy="336.0" rx="7.6" ry="3.3" fill="#66a6d4"/><ellipse cx="313.2" cy="337.6" rx="7.6" ry="3.3" fill="#9accee"/><ellipse cx="313.2" cy="336.2" rx="7.6" ry="3.3" fill="#66a6d4"/><ellipse cx="342.7" cy="337.9" rx="7.7" ry="3.3" fill="#a9abad"/><ellipse cx="342.7" cy="336.5" rx="7.7" ry="3.3" fill="#808487"/><ellipse cx="372.4" cy="338.1" rx="7.9" ry="3.3" fill="#a9abad"/><ellipse cx="372.4" cy="336.7" rx="7.9" ry="3.3" fill="#808487"/><ellipse cx="402.3" cy="338.4" rx="8.1" ry="3.4" fill="#a9abad"/><ellipse cx="402.3" cy="337.0" rx="8.1" ry="3.4" fill="#808487"/><ellipse cx="432.3" cy="338.6" rx="8.3" ry="3.4" fill="#a9abad"/><ellipse cx="432.3" cy="337.2" rx="8.3" ry="3.4" fill="#808487"/><ellipse cx="462.4" cy="338.8" rx="8.5" ry="3.4" fill="#a9abad"/><ellipse cx="462.4" cy="337.4" rx="8.5" ry="3.4" fill="#808487"/><ellipse cx="492.7" cy="339.1" rx="8.7" ry="3.5" fill="#9accee"/><ellipse cx="492.7" cy="337.7" rx="8.7" ry="3.5" fill="#66a6d4"/><ellipse cx="523.2" cy="339.3" rx="8.9" ry="3.5" fill="#9accee"/><ellipse cx="523.2" cy="337.9" rx="8.9" ry="3.5" fill="#66a6d4"/><ellipse cx="298.2" cy="341.9" rx="7.6" ry="3.3" fill="#9accee"/><ellipse cx="298.2" cy="340.5" rx="7.6" ry="3.3" fill="#66a6d4"/><ellipse cx="328.0" cy="342.1" rx="7.7" ry="3.3" fill="#9accee"/><ellipse cx="328.0" cy="340.7" rx="7.7" ry="3.3" fill="#66a6d4"/><ellipse cx="357.9" cy="342.4" rx="7.9" ry="3.3" fill="#a9abad"/><ellipse cx="357.9" cy="341.0" rx="7.9" ry="3.3" fill="#808487"/><ellipse cx="387.9" cy="342.6" rx="8.1" ry="3.4" fill="#a9abad"/><ellipse cx="387.9" cy="341.2" rx="8.1" ry="3.4" fill="#808487"/><ellipse cx="418.2" cy="342.9" rx="8.3" ry="3.4" fill="#a9abad"/><ellipse cx="418.2" cy="341.5" rx="8.3" ry="3.4" fill="#808487"/><ellipse cx="448.6" cy="343.2" rx="8.5" ry="3.4" fill="#a9abad"/><ellipse cx="448.6" cy="341.8" rx="8.5" ry="3.4" fill="#808487"/><ellipse cx="479.1" cy="343.4" rx="8.7" ry="3.5" fill="#9accee"/><ellipse cx="479.1" cy="342.0" rx="8.7" ry="3.5" fill="#66a6d4"/><ellipse cx="509.8" cy="343.7" rx="8.9" ry="3.5" fill="#9accee"/><ellipse cx="509.8" cy="342.3" rx="8.9" ry="3.5" fill="#66a6d4"/><ellipse cx="313.0" cy="346.5" rx="7.7" ry="3.3" fill="#9accee"/><ellipse cx="313.0" cy="345.1" rx="7.7" ry="3.3" fill="#66a6d4"/><ellipse cx="343.1" cy="346.7" rx="7.9" ry="3.3" fill="#9accee"/><ellipse cx="343.1" cy="345.3" rx="7.9" ry="3.3" fill="#66a6d4"/><ellipse cx="373.4" cy="347.0" rx="8.1" ry="3.4" fill="#a9abad"/><ellipse cx="373.4" cy="345.6" rx="8.1" ry="3.4" fill="#808487"/><ellipse cx="403.8" cy="347.3" rx="8.3" ry="3.4" fill="#a9abad"/><ellipse cx="403.8" cy="345.9" rx="8.3" ry="3.4" fill="#808487"/><ellipse cx="434.5" cy="347.6" rx="8.5" ry="3.4" fill="#a9abad"/><ellipse cx="434.5" cy="346.2" rx="8.5" ry="3.4" fill="#808487"/><ellipse cx="465.3" cy="347.8" rx="8.7" ry="3.5" fill="#9accee"/><ellipse cx="465.3" cy="346.4" rx="8.7" ry="3.5" fill="#66a6d4"/><ellipse cx="496.2" cy="348.1" rx="8.9" ry="3.5" fill="#9accee"/><ellipse cx="496.2" cy="346.7" rx="8.9" ry="3.5" fill="#66a6d4"/><ellipse cx="328.0" cy="351.2" rx="7.9" ry="3.3" fill="#9accee"/><ellipse cx="328.0" cy="349.8" rx="7.9" ry="3.3" fill="#66a6d4"/><ellipse cx="358.6" cy="351.5" rx="8.1" ry="3.4" fill="#9accee"/><ellipse cx="358.6" cy="350.1" rx="8.1" ry="3.4" fill="#66a6d4"/><ellipse cx="389.2" cy="351.7" rx="8.3" ry="3.4" fill="#a9abad"/><ellipse cx="389.2" cy="350.3" rx="8.3" ry="3.4" fill="#808487"/><ellipse cx="420.1" cy="352.0" rx="8.5" ry="3.4" fill="#a9abad"/><ellipse cx="420.1" cy="350.6" rx="8.5" ry="3.4" fill="#808487"/><ellipse cx="451.1" cy="352.3" rx="8.7" ry="3.5" fill="#9accee"/><ellipse cx="451.1" cy="350.9" rx="8.7" ry="3.5" fill="#66a6d4"/><ellipse cx="482.3" cy="352.6" rx="8.9" ry="3.5" fill="#9accee"/><ellipse cx="482.3" cy="351.2" rx="8.9" ry="3.5" fill="#66a6d4"/><ellipse cx="343.5" cy="356.0" rx="8.1" ry="3.4" fill="#9accee"/><ellipse cx="343.5" cy="354.6" rx="8.1" ry="3.4" fill="#66a6d4"/><ellipse cx="374.4" cy="356.3" rx="8.3" ry="3.4" fill="#9accee"/><ellipse cx="374.4" cy="354.9" rx="8.3" ry="3.4" fill="#66a6d4"/><ellipse cx="405.5" cy="356.6" rx="8.5" ry="3.4" fill="#a9abad"/><ellipse cx="405.5" cy="355.2" rx="8.5" ry="3.4" fill="#808487"/><ellipse cx="436.8" cy="356.9" rx="8.7" ry="3.5" fill="#9accee"/><ellipse cx="436.8" cy="355.5" rx="8.7" ry="3.5" fill="#66a6d4"/><ellipse cx="468.2" cy="357.2" rx="8.9" ry="3.5" fill="#9accee"/><ellipse cx="468.2" cy="355.8" rx="8.9" ry="3.5" fill="#66a6d4"/><ellipse cx="359.3" cy="360.9" rx="8.3" ry="3.4" fill="#9accee"/><ellipse cx="359.3" cy="359.5" rx="8.3" ry="3.4" fill="#66a6d4"/><ellipse cx="390.6" cy="361.2" rx="8.5" ry="3.4" fill="#9accee"/><ellipse cx="390.6" cy="359.8" rx="8.5" ry="3.4" fill="#66a6d4"/><ellipse cx="422.1" cy="361.5" rx="8.7" ry="3.5" fill="#9accee"/><ellipse cx="422.1" cy="360.1" rx="8.7" ry="3.5" fill="#66a6d4"/><ellipse cx="453.8" cy="361.9" rx="8.9" ry="3.5" fill="#9accee"/><ellipse cx="453.8" cy="360.5" rx="8.9" ry="3.5" fill="#66a6d4"/><ellipse cx="375.4" cy="365.9" rx="8.5" ry="3.4" fill="#9accee"/><ellipse cx="375.4" cy="364.5" rx="8.5" ry="3.4" fill="#66a6d4"/><ellipse cx="407.2" cy="366.3" rx="8.7" ry="3.5" fill="#9accee"/><ellipse cx="407.2" cy="364.9" rx="8.7" ry="3.5" fill="#66a6d4"/><ellipse cx="439.1" cy="366.6" rx="8.9" ry="3.5" fill="#9accee"/><ellipse cx="439.1" cy="365.2" rx="8.9" ry="3.5" fill="#66a6d4"/><ellipse cx="392.0" cy="371.1" rx="8.7" ry="3.5" fill="#9accee"/><ellipse cx="392.0" cy="369.7" rx="8.7" ry="3.5" fill="#66a6d4"/><ellipse cx="424.2" cy="371.5" rx="8.9" ry="3.5" fill="#9accee"/><ellipse cx="424.2" cy="370.1" rx="8.9" ry="3.5" fill="#66a6d4"/><ellipse cx="409.0" cy="376.4" rx="8.9" ry="3.5" fill="#9accee"/><ellipse cx="409.0" cy="375.0" rx="8.9" ry="3.5" fill="#66a6d4"/><polygon points="101.0,279.0 111.5,282.3 122.3,285.6 133.2,289.0 144.4,292.5 155.8,296.1 167.4,299.7 179.3,303.4 191.4,307.2 203.8,311.0 216.4,315.0 229.3,319.0 242.5,323.1 256.0,327.3 269.7,331.6 283.8,336.0 298.2,340.5 313.0,345.1 328.0,349.8 343.5,354.6 359.3,359.5 375.4,364.5 392.0,369.7 409.0,375.0 424.2,370.1 439.1,365.2 453.8,360.5 468.2,355.8 482.3,351.2 496.2,346.7 509.8,342.3 523.2,337.9 536.4,333.7 549.3,329.5 562.1,325.3 574.6,321.3 586.8,317.3 598.9,313.4 610.8,309.5 622.5,305.7 634.0,302.0 634.0,347.9 622.5,352.1 610.8,356.3 598.9,360.7 586.8,365.1 574.6,369.6 562.1,374.1 549.3,378.8 536.4,383.5 523.2,388.3 509.8,393.2 496.2,398.2 482.3,403.2 468.2,408.4 453.8,413.6 439.1,419.0 424.2,424.4 409.0,430.0 392.0,424.0 375.4,418.2 359.3,412.6 343.5,407.0 328.0,401.6 313.0,396.3 298.2,391.2 283.8,386.1 269.7,381.2 256.0,376.3 242.5,371.6 229.3,367.0 216.4,362.5 203.8,358.0 191.4,353.7 179.3,349.5 167.4,345.3 155.8,341.2 144.4,337.2 133.2,333.3 122.3,329.5 111.5,325.7 101.0,322.0" fill="#5f95c4"/><g filter="url(#crinkle)"><path d="M95.9,279.0 L95.9,325.3 A5.1,2.9 0 0 0 106.1,325.3 L106.1,279.0 Z" fill="url(#coilBody)"/><rect x="96.4" y="299.5" width="9.1" height="5.2" fill="#d8eefa" opacity="0.5"/><path d="M96.4,304.7 h9.1" stroke="#7fb3dc" stroke-width="0.7" opacity="0.7"/><ellipse cx="101.0" cy="280.2" rx="5.1" ry="2.9" fill="#9accee"/><ellipse cx="101.0" cy="279.0" rx="5.1" ry="2.9" fill="#66a6d4"/><path d="M97.6,286.7 L95.9,297.9" stroke="#c6e3f6" stroke-width="0.9" opacity="0.3"/><path d="M101.1,290.7 L101.1,297.2" stroke="#c6e3f6" stroke-width="0.9" opacity="0.3"/><path d="M103.1,292.0 L101.5,298.6" stroke="#c6e3f6" stroke-width="0.9" opacity="0.3"/><path d="M106.4,282.3 L106.4,328.9 A5.2,2.9 0 0 0 116.7,328.9 L116.7,282.3 Z" fill="url(#coilBody)"/><rect x="106.9" y="303.0" width="9.3" height="5.2" fill="#d8eefa" opacity="0.5"/><path d="M106.9,308.2 h9.3" stroke="#7fb3dc" stroke-width="0.7" opacity="0.7"/><ellipse cx="111.5" cy="283.5" rx="5.2" ry="2.9" fill="#9accee"/><ellipse cx="111.5" cy="282.3" rx="5.2" ry="2.9" fill="#66a6d4"/><path d="M108.3,302.8 L107.2,309.8" stroke="#c6e3f6" stroke-width="0.9" opacity="0.3"/><path d="M111.8,305.1 L111.4,315.7" stroke="#c6e3f6" stroke-width="0.9" opacity="0.3"/><path d="M115.6,288.0 L114.7,300.9" stroke="#c6e3f6" stroke-width="0.9" opacity="0.3"/><path d="M117.0,285.6 L117.0,332.7 A5.3,2.9 0 0 0 127.5,332.7 L127.5,285.6 Z" fill="url(#coilBody)"/><rect x="117.5" y="306.5" width="9.5" height="5.3" fill="#d8eefa" opacity="0.5"/><path d="M117.5,311.8 h9.5" stroke="#7fb3dc" stroke-width="0.7" opacity="0.7"/><ellipse cx="122.3" cy="286.8" rx="5.3" ry="2.9" fill="#9accee"/><ellipse cx="122.3" cy="285.6" rx="5.3" ry="2.9" fill="#66a6d4"/><path d="M118.4,292.8 L119.7,301.2" stroke="#c6e3f6" stroke-width="0.9" opacity="0.3"/><path d="M121.6,301.7 L121.1,312.8" stroke="#c6e3f6" stroke-width="0.9" opacity="0.3"/><path d="M125.5,291.7 L124.3,298.2" stroke="#c6e3f6" stroke-width="0.9" opacity="0.3"/><path d="M127.9,289.0 L127.9,336.5 A5.4,2.9 0 0 0 138.6,336.5 L138.6,289.0 Z" fill="url(#coilBody)"/><rect x="128.4" y="310.1" width="9.7" height="5.3" fill="#d8eefa" opacity="0.5"/><path d="M128.4,315.4 h9.7" stroke="#7fb3dc" stroke-width="0.7" opacity="0.7"/><ellipse cx="133.2" cy="290.2" rx="5.4" ry="2.9" fill="#9accee"/><ellipse cx="133.2" cy="289.0" rx="5.4" ry="2.9" fill="#66a6d4"/><path d="M130.4,302.2 L130.7,310.7" stroke="#c6e3f6" stroke-width="0.9" opacity="0.3"/><path d="M133.1,299.7 L133.9,312.1" stroke="#c6e3f6" stroke-width="0.9" opacity="0.3"/><path d="M135.9,305.0 L137.4,315.2" stroke="#c6e3f6" stroke-width="0.9" opacity="0.3"/><path d="M138.9,292.5 L138.9,340.4 A5.5,2.9 0 0 0 149.9,340.4 L149.9,292.5 Z" fill="url(#coilBody)"/><rect x="139.4" y="313.8" width="9.9" height="5.4" fill="#d8eefa" opacity="0.5"/><path d="M139.4,319.1 h9.9" stroke="#7fb3dc" stroke-width="0.7" opacity="0.7"/><ellipse cx="144.4" cy="293.7" rx="5.5" ry="2.9" fill="#9accee"/><ellipse cx="144.4" cy="292.5" rx="5.5" ry="2.9" fill="#66a6d4"/><path d="M141.6,303.1 L140.0,316.9" stroke="#c6e3f6" stroke-width="0.9" opacity="0.3"/><path d="M144.2,312.2 L144.2,319.4" stroke="#c6e3f6" stroke-width="0.9" opacity="0.3"/><path d="M146.8,310.5 L147.0,322.6" stroke="#c6e3f6" stroke-width="0.9" opacity="0.3"/><path d="M150.2,296.1 L150.2,344.3 A5.6,2.9 0 0 0 161.4,344.3 L161.4,296.1 Z" fill="url(#coilBody)"/><rect x="150.7" y="317.5" width="10.2" height="5.4" fill="#d8eefa" opacity="0.5"/><path d="M150.7,322.9 h10.2" stroke="#7fb3dc" stroke-width="0.7" opacity="0.7"/><ellipse cx="155.8" cy="297.3" rx="5.6" ry="2.9" fill="#9accee"/><ellipse cx="155.8" cy="296.1" rx="5.6" ry="2.9" fill="#66a6d4"/><path d="M153.2,307.2 L153.6,318.8" stroke="#c6e3f6" stroke-width="0.9" opacity="0.3"/><path d="M156.0,310.0 L157.7,322.7" stroke="#c6e3f6" stroke-width="0.9" opacity="0.3"/><path d="M159.1,314.1 L159.9,320.6" stroke="#c6e3f6" stroke-width="0.9" opacity="0.3"/><path d="M161.7,299.7 L161.7,348.4 A5.7,3.0 0 0 0 173.1,348.4 L173.1,299.7 Z" fill="url(#coilBody)"/><rect x="162.2" y="321.3" width="10.4" height="5.5" fill="#d8eefa" opacity="0.5"/><path d="M162.2,326.8 h10.4" stroke="#7fb3dc" stroke-width="0.7" opacity="0.7"/><ellipse cx="167.4" cy="300.9" rx="5.7" ry="3.0" fill="#9accee"/><ellipse cx="167.4" cy="299.7" rx="5.7" ry="3.0" fill="#66a6d4"/><path d="M164.3,324.4 L163.4,336.9" stroke="#c6e3f6" stroke-width="0.9" opacity="0.3"/><path d="M167.2,317.9 L167.0,324.1" stroke="#c6e3f6" stroke-width="0.9" opacity="0.3"/><path d="M170.2,307.0 L171.2,313.5" stroke="#c6e3f6" stroke-width="0.9" opacity="0.3"/><path d="M173.5,303.4 L173.5,352.5 A5.8,3.0 0 0 0 185.1,352.5 L185.1,303.4 Z" fill="url(#coilBody)"/><rect x="174.0" y="325.2" width="10.6" height="5.5" fill="#d8eefa" opacity="0.5"/><path d="M174.0,330.7 h10.6" stroke="#7fb3dc" stroke-width="0.7" opacity="0.7"/><ellipse cx="179.3" cy="304.6" rx="5.8" ry="3.0" fill="#9accee"/><ellipse cx="179.3" cy="303.4" rx="5.8" ry="3.0" fill="#66a6d4"/><path d="M175.1,313.3 L176.5,322.5" stroke="#c6e3f6" stroke-width="0.9" opacity="0.3"/><path d="M178.5,317.4 L180.0,327.8" stroke="#c6e3f6" stroke-width="0.9" opacity="0.3"/><path d="M183.4,325.7 L183.1,333.9" stroke="#c6e3f6" stroke-width="0.9" opacity="0.3"/><path d="M185.5,307.2 L185.5,356.7 A5.9,3.0 0 0 0 197.3,356.7 L197.3,307.2 Z" fill="url(#coilBody)"/><rect x="186.0" y="329.2" width="10.9" height="5.6" fill="#d8eefa" opacity="0.5"/><path d="M186.0,334.7 h10.9" stroke="#7fb3dc" stroke-width="0.7" opacity="0.7"/><ellipse cx="191.4" cy="308.4" rx="5.9" ry="3.0" fill="#9accee"/><ellipse cx="191.4" cy="307.2" rx="5.9" ry="3.0" fill="#66a6d4"/><path d="M187.6,330.1 L186.2,343.7" stroke="#c6e3f6" stroke-width="0.9" opacity="0.3"/><path d="M190.8,316.9 L190.7,324.7" stroke="#c6e3f6" stroke-width="0.9" opacity="0.3"/><path d="M195.1,317.5 L194.8,323.5" stroke="#c6e3f6" stroke-width="0.9" opacity="0.3"/><path d="M197.7,311.0 L197.7,361.0 A6.1,3.0 0 0 0 209.8,361.0 L209.8,311.0 Z" fill="url(#coilBody)"/><rect x="198.2" y="333.2" width="11.1" height="5.6" fill="#d8eefa" opacity="0.5"/><path d="M198.2,338.8 h11.1" stroke="#7fb3dc" stroke-width="0.7" opacity="0.7"/><ellipse cx="203.8" cy="312.2" rx="6.1" ry="3.0" fill="#9accee"/><ellipse cx="203.8" cy="311.0" rx="6.1" ry="3.0" fill="#66a6d4"/><path d="M199.9,327.6 L200.6,341.2" stroke="#c6e3f6" stroke-width="0.9" opacity="0.3"/><path d="M203.8,328.7 L202.0,340.1" stroke="#c6e3f6" stroke-width="0.9" opacity="0.3"/><path d="M208.2,332.0 L209.4,345.0" stroke="#c6e3f6" stroke-width="0.9" opacity="0.3"/><path d="M210.2,315.0 L210.2,365.4 A6.2,3.1 0 0 0 222.6,365.4 L222.6,315.0 Z" fill="url(#coilBody)"/><rect x="210.7" y="337.3" width="11.4" height="5.6" fill="#d8eefa" opacity="0.5"/><path d="M210.7,343.0 h11.4" stroke="#7fb3dc" stroke-width="0.7" opacity="0.7"/><ellipse cx="216.4" cy="316.2" rx="6.2" ry="3.1" fill="#9accee"/><ellipse cx="216.4" cy="315.0" rx="6.2" ry="3.1" fill="#66a6d4"/><path d="M212.5,328.2 L213.0,335.1" stroke="#c6e3f6" stroke-width="0.9" opacity="0.3"/><path d="M215.5,321.4 L214.2,329.1" stroke="#c6e3f6" stroke-width="0.9" opacity="0.3"/><path d="M219.8,321.1 L218.4,327.1" stroke="#c6e3f6" stroke-width="0.9" opacity="0.3"/><path d="M223.0,319.0 L223.0,369.8 A6.3,3.1 0 0 0 235.6,369.8 L235.6,319.0 Z" fill="url(#coilBody)"/><rect x="223.5" y="341.6" width="11.7" height="5.7" fill="#d8eefa" opacity="0.5"/><path d="M223.5,347.3 h11.7" stroke="#7fb3dc" stroke-width="0.7" opacity="0.7"/><ellipse cx="229.3" cy="320.2" rx="6.3" ry="3.1" fill="#9accee"/><ellipse cx="229.3" cy="319.0" rx="6.3" ry="3.1" fill="#66a6d4"/><path d="M224.7,331.6 L226.2,337.8" stroke="#c6e3f6" stroke-width="0.9" opacity="0.3"/><path d="M229.5,327.2 L228.9,335.2" stroke="#c6e3f6" stroke-width="0.9" opacity="0.3"/><path d="M232.8,326.6 L234.8,339.4" stroke="#c6e3f6" stroke-width="0.9" opacity="0.3"/><path d="M236.0,323.1 L236.0,374.4 A6.5,3.1 0 0 0 249.0,374.4 L249.0,323.1 Z" fill="url(#coilBody)"/><rect x="236.5" y="345.9" width="11.9" height="5.8" fill="#d8eefa" opacity="0.5"/><path d="M236.5,351.6 h11.9" stroke="#7fb3dc" stroke-width="0.7" opacity="0.7"/><ellipse cx="242.5" cy="324.3" rx="6.5" ry="3.1" fill="#9accee"/><ellipse cx="242.5" cy="323.1" rx="6.5" ry="3.1" fill="#66a6d4"/><path d="M238.6,338.4 L237.0,345.1" stroke="#c6e3f6" stroke-width="0.9" opacity="0.3"/><path d="M242.2,333.8 L240.8,346.4" stroke="#c6e3f6" stroke-width="0.9" opacity="0.3"/><path d="M245.4,348.2 L244.0,358.4" stroke="#c6e3f6" stroke-width="0.9" opacity="0.3"/><path d="M249.4,327.3 L249.4,379.1 A6.6,3.1 0 0 0 262.6,379.1 L262.6,327.3 Z" fill="url(#coilBody)"/><rect x="249.9" y="350.3" width="12.2" height="5.8" fill="#d8eefa" opacity="0.5"/><path d="M249.9,356.1 h12.2" stroke="#7fb3dc" stroke-width="0.7" opacity="0.7"/><ellipse cx="256.0" cy="328.5" rx="6.6" ry="3.1" fill="#9accee"/><ellipse cx="256.0" cy="327.3" rx="6.6" ry="3.1" fill="#66a6d4"/><path d="M252.1,333.0 L254.0,343.2" stroke="#c6e3f6" stroke-width="0.9" opacity="0.3"/><path d="M256.7,347.2 L256.2,355.3" stroke="#c6e3f6" stroke-width="0.9" opacity="0.3"/><path d="M259.3,348.8 L260.4,359.1" stroke="#c6e3f6" stroke-width="0.9" opacity="0.3"/><path d="M263.0,331.6 L263.0,383.9 A6.8,3.1 0 0 0 276.5,383.9 L276.5,331.6 Z" fill="url(#coilBody)"/><rect x="263.5" y="354.8" width="12.5" height="5.9" fill="#d8eefa" opacity="0.5"/><path d="M263.5,360.7 h12.5" stroke="#7fb3dc" stroke-width="0.7" opacity="0.7"/><ellipse cx="269.7" cy="332.8" rx="6.8" ry="3.1" fill="#9accee"/><ellipse cx="269.7" cy="331.6" rx="6.8" ry="3.1" fill="#66a6d4"/><path d="M265.4,341.5 L267.3,354.0" stroke="#c6e3f6" stroke-width="0.9" opacity="0.3"/><path d="M270.5,354.0 L271.4,366.6" stroke="#c6e3f6" stroke-width="0.9" opacity="0.3"/><path d="M273.3,347.8 L271.4,356.7" stroke="#c6e3f6" stroke-width="0.9" opacity="0.3"/><path d="M276.9,336.0 L276.9,388.8 A6.9,3.2 0 0 0 290.7,388.8 L290.7,336.0 Z" fill="url(#coilBody)"/><rect x="277.4" y="359.4" width="12.8" height="5.9" fill="#d8eefa" opacity="0.5"/><path d="M277.4,365.3 h12.8" stroke="#7fb3dc" stroke-width="0.7" opacity="0.7"/><ellipse cx="283.8" cy="337.2" rx="6.9" ry="3.2" fill="#9accee"/><ellipse cx="283.8" cy="336.0" rx="6.9" ry="3.2" fill="#66a6d4"/><path d="M278.7,347.2 L279.5,355.3" stroke="#c6e3f6" stroke-width="0.9" opacity="0.3"/><path d="M284.7,350.8 L286.7,364.3" stroke="#c6e3f6" stroke-width="0.9" opacity="0.3"/><path d="M288.9,349.1 L287.8,356.8" stroke="#c6e3f6" stroke-width="0.9" opacity="0.3"/><path d="M291.2,340.5 L291.2,393.8 A7.1,3.2 0 0 0 305.3,393.8 L305.3,340.5 Z" fill="url(#coilBody)"/><rect x="291.7" y="364.1" width="13.1" height="6.0" fill="#d8eefa" opacity="0.5"/><path d="M291.7,370.1 h13.1" stroke="#7fb3dc" stroke-width="0.7" opacity="0.7"/><ellipse cx="298.2" cy="341.7" rx="7.1" ry="3.2" fill="#9accee"/><ellipse cx="298.2" cy="340.5" rx="7.1" ry="3.2" fill="#66a6d4"/><path d="M293.4,350.1 L295.0,361.1" stroke="#c6e3f6" stroke-width="0.9" opacity="0.3"/><path d="M298.9,356.2 L300.1,367.4" stroke="#c6e3f6" stroke-width="0.9" opacity="0.3"/><path d="M301.6,360.1 L302.8,373.4" stroke="#c6e3f6" stroke-width="0.9" opacity="0.3"/><path d="M305.7,345.1 L305.7,398.9 A7.2,3.2 0 0 0 320.2,398.9 L320.2,345.1 Z" fill="url(#coilBody)"/><rect x="306.2" y="369.0" width="13.5" height="6.0" fill="#d8eefa" opacity="0.5"/><path d="M306.2,375.0 h13.5" stroke="#7fb3dc" stroke-width="0.7" opacity="0.7"/><ellipse cx="313.0" cy="346.3" rx="7.2" ry="3.2" fill="#9accee"/><ellipse cx="313.0" cy="345.1" rx="7.2" ry="3.2" fill="#66a6d4"/><path d="M309.1,360.9 L310.3,368.3" stroke="#c6e3f6" stroke-width="0.9" opacity="0.3"/><path d="M312.6,368.0 L312.2,381.8" stroke="#c6e3f6" stroke-width="0.9" opacity="0.3"/><path d="M317.1,371.2 L315.8,383.0" stroke="#c6e3f6" stroke-width="0.9" opacity="0.3"/><path d="M320.6,349.8 L320.6,404.1 A7.4,3.3 0 0 0 335.4,404.1 L335.4,349.8 Z" fill="url(#coilBody)"/><rect x="321.1" y="373.9" width="13.8" height="6.1" fill="#d8eefa" opacity="0.5"/><path d="M321.1,380.0 h13.8" stroke="#7fb3dc" stroke-width="0.7" opacity="0.7"/><ellipse cx="328.0" cy="351.0" rx="7.4" ry="3.3" fill="#9accee"/><ellipse cx="328.0" cy="349.8" rx="7.4" ry="3.3" fill="#66a6d4"/><path d="M322.9,358.4 L324.1,371.6" stroke="#c6e3f6" stroke-width="0.9" opacity="0.3"/><path d="M327.3,373.5 L328.0,387.3" stroke="#c6e3f6" stroke-width="0.9" opacity="0.3"/><path d="M332.2,367.3 L330.2,374.3" stroke="#c6e3f6" stroke-width="0.9" opacity="0.3"/><path d="M335.9,354.6 L335.9,409.4 A7.6,3.3 0 0 0 351.1,409.4 L351.1,354.6 Z" fill="url(#coilBody)"/><rect x="336.4" y="378.9" width="14.2" height="6.1" fill="#d8eefa" opacity="0.5"/><path d="M336.4,385.1 h14.2" stroke="#7fb3dc" stroke-width="0.7" opacity="0.7"/><ellipse cx="343.5" cy="355.8" rx="7.6" ry="3.3" fill="#9accee"/><ellipse cx="343.5" cy="354.6" rx="7.6" ry="3.3" fill="#66a6d4"/><path d="M339.9,374.5 L341.6,384.7" stroke="#c6e3f6" stroke-width="0.9" opacity="0.3"/><path d="M343.3,379.5 L342.2,392.2" stroke="#c6e3f6" stroke-width="0.9" opacity="0.3"/><path d="M347.5,366.5 L347.9,374.4" stroke="#c6e3f6" stroke-width="0.9" opacity="0.3"/><path d="M351.5,359.5 L351.5,414.9 A7.8,3.3 0 0 0 367.0,414.9 L367.0,359.5 Z" fill="url(#coilBody)"/><rect x="352.0" y="384.1" width="14.5" height="6.2" fill="#d8eefa" opacity="0.5"/><path d="M352.0,390.3 h14.5" stroke="#7fb3dc" stroke-width="0.7" opacity="0.7"/><ellipse cx="359.3" cy="360.7" rx="7.8" ry="3.3" fill="#9accee"/><ellipse cx="359.3" cy="359.5" rx="7.8" ry="3.3" fill="#66a6d4"/><path d="M354.1,374.4 L355.8,381.4" stroke="#c6e3f6" stroke-width="0.9" opacity="0.3"/><path d="M359.0,375.3 L360.6,385.9" stroke="#c6e3f6" stroke-width="0.9" opacity="0.3"/><path d="M363.8,385.8 L363.9,395.8" stroke="#c6e3f6" stroke-width="0.9" opacity="0.3"/><path d="M367.5,364.5 L367.5,420.5 A8.0,3.4 0 0 0 383.4,420.5 L383.4,364.5 Z" fill="url(#coilBody)"/><rect x="368.0" y="389.4" width="14.9" height="6.3" fill="#d8eefa" opacity="0.5"/><path d="M368.0,395.7 h14.9" stroke="#7fb3dc" stroke-width="0.7" opacity="0.7"/><ellipse cx="375.4" cy="365.7" rx="8.0" ry="3.4" fill="#9accee"/><ellipse cx="375.4" cy="364.5" rx="8.0" ry="3.4" fill="#66a6d4"/><path d="M370.7,370.3 L369.5,379.8" stroke="#c6e3f6" stroke-width="0.9" opacity="0.3"/><path d="M374.5,388.3 L374.3,395.7" stroke="#c6e3f6" stroke-width="0.9" opacity="0.3"/><path d="M380.7,382.7 L380.7,391.3" stroke="#c6e3f6" stroke-width="0.9" opacity="0.3"/><path d="M383.9,369.7 L383.9,426.3 A8.2,3.4 0 0 0 400.2,426.3 L400.2,369.7 Z" fill="url(#coilBody)"/><rect x="384.4" y="394.8" width="15.3" height="6.3" fill="#d8eefa" opacity="0.5"/><path d="M384.4,401.2 h15.3" stroke="#7fb3dc" stroke-width="0.7" opacity="0.7"/><ellipse cx="392.0" cy="370.9" rx="8.2" ry="3.4" fill="#9accee"/><ellipse cx="392.0" cy="369.7" rx="8.2" ry="3.4" fill="#66a6d4"/><path d="M387.2,393.4 L387.5,400.2" stroke="#c6e3f6" stroke-width="0.9" opacity="0.3"/><path d="M391.5,381.6 L391.5,393.7" stroke="#c6e3f6" stroke-width="0.9" opacity="0.3"/><path d="M397.0,392.8 L396.8,406.1" stroke="#c6e3f6" stroke-width="0.9" opacity="0.3"/><path d="M628.5,302.0 L628.5,351.0 A5.5,2.9 0 0 0 639.5,351.0 L639.5,302.0 Z" fill="url(#coilBody)"/><rect x="629.0" y="323.8" width="10.0" height="5.5" fill="#d8eefa" opacity="0.5"/><path d="M629.0,329.2 h10.0" stroke="#7fb3dc" stroke-width="0.7" opacity="0.7"/><ellipse cx="634.0" cy="303.2" rx="5.5" ry="2.9" fill="#9accee"/><ellipse cx="634.0" cy="302.0" rx="5.5" ry="2.9" fill="#66a6d4"/><path d="M630.9,317.0 L631.7,327.1" stroke="#c6e3f6" stroke-width="0.9" opacity="0.3"/><path d="M633.9,317.6 L635.7,327.4" stroke="#c6e3f6" stroke-width="0.9" opacity="0.3"/><path d="M637.7,324.4 L636.7,338.0" stroke="#c6e3f6" stroke-width="0.9" opacity="0.3"/><path d="M616.9,305.7 L616.9,355.2 A5.6,3.0 0 0 0 628.1,355.2 L628.1,305.7 Z" fill="url(#coilBody)"/><rect x="617.4" y="327.7" width="10.2" height="5.5" fill="#d8eefa" opacity="0.5"/><path d="M617.4,333.2 h10.2" stroke="#7fb3dc" stroke-width="0.7" opacity="0.7"/><ellipse cx="622.5" cy="306.9" rx="5.6" ry="3.0" fill="#9accee"/><ellipse cx="622.5" cy="305.7" rx="5.6" ry="3.0" fill="#66a6d4"/><path d="M619.3,329.7 L617.8,342.4" stroke="#c6e3f6" stroke-width="0.9" opacity="0.3"/><path d="M621.7,319.6 L620.7,326.2" stroke="#c6e3f6" stroke-width="0.9" opacity="0.3"/><path d="M625.0,324.2 L626.6,336.4" stroke="#c6e3f6" stroke-width="0.9" opacity="0.3"/><path d="M605.1,309.5 L605.1,359.4 A5.7,3.0 0 0 0 616.5,359.4 L616.5,309.5 Z" fill="url(#coilBody)"/><rect x="605.6" y="331.7" width="10.4" height="5.6" fill="#d8eefa" opacity="0.5"/><path d="M605.6,337.3 h10.4" stroke="#7fb3dc" stroke-width="0.7" opacity="0.7"/><ellipse cx="610.8" cy="310.7" rx="5.7" ry="3.0" fill="#9accee"/><ellipse cx="610.8" cy="309.5" rx="5.7" ry="3.0" fill="#66a6d4"/><path d="M606.7,329.0 L605.3,340.3" stroke="#c6e3f6" stroke-width="0.9" opacity="0.3"/><path d="M611.6,334.2 L613.4,341.9" stroke="#c6e3f6" stroke-width="0.9" opacity="0.3"/><path d="M614.0,324.4 L615.4,338.3" stroke="#c6e3f6" stroke-width="0.9" opacity="0.3"/><path d="M593.1,313.4 L593.1,363.7 A5.8,3.0 0 0 0 604.7,363.7 L604.7,313.4 Z" fill="url(#coilBody)"/><rect x="593.6" y="335.7" width="10.6" height="5.6" fill="#d8eefa" opacity="0.5"/><path d="M593.6,341.4 h10.6" stroke="#7fb3dc" stroke-width="0.7" opacity="0.7"/><ellipse cx="598.9" cy="314.6" rx="5.8" ry="3.0" fill="#9accee"/><ellipse cx="598.9" cy="313.4" rx="5.8" ry="3.0" fill="#66a6d4"/><path d="M594.8,327.2 L594.1,337.3" stroke="#c6e3f6" stroke-width="0.9" opacity="0.3"/><path d="M598.3,324.9 L596.4,336.7" stroke="#c6e3f6" stroke-width="0.9" opacity="0.3"/><path d="M602.5,327.4 L601.8,333.5" stroke="#c6e3f6" stroke-width="0.9" opacity="0.3"/><path d="M580.9,317.3 L580.9,368.1 A5.9,3.0 0 0 0 592.7,368.1 L592.7,317.3 Z" fill="url(#coilBody)"/><rect x="581.4" y="339.9" width="10.8" height="5.7" fill="#d8eefa" opacity="0.5"/><path d="M581.4,345.5 h10.8" stroke="#7fb3dc" stroke-width="0.7" opacity="0.7"/><ellipse cx="586.8" cy="318.5" rx="5.9" ry="3.0" fill="#9accee"/><ellipse cx="586.8" cy="317.3" rx="5.9" ry="3.0" fill="#66a6d4"/><path d="M583.5,332.9 L585.5,339.4" stroke="#c6e3f6" stroke-width="0.9" opacity="0.3"/><path d="M587.4,342.4 L586.5,349.3" stroke="#c6e3f6" stroke-width="0.9" opacity="0.3"/><path d="M589.5,338.4 L588.0,346.6" stroke="#c6e3f6" stroke-width="0.9" opacity="0.3"/><path d="M568.6,321.3 L568.6,372.5 A6.0,3.0 0 0 0 580.6,372.5 L580.6,321.3 Z" fill="url(#coilBody)"/><rect x="569.1" y="344.0" width="11.0" height="5.7" fill="#d8eefa" opacity="0.5"/><path d="M569.1,349.8 h11.0" stroke="#7fb3dc" stroke-width="0.7" opacity="0.7"/><ellipse cx="574.6" cy="322.5" rx="6.0" ry="3.0" fill="#9accee"/><ellipse cx="574.6" cy="321.3" rx="6.0" ry="3.0" fill="#66a6d4"/><path d="M570.8,345.4 L569.8,357.9" stroke="#c6e3f6" stroke-width="0.9" opacity="0.3"/><path d="M573.9,345.5 L574.7,356.1" stroke="#c6e3f6" stroke-width="0.9" opacity="0.3"/><path d="M577.3,327.5 L577.0,339.0" stroke="#c6e3f6" stroke-width="0.9" opacity="0.3"/><path d="M555.9,325.3 L555.9,377.1 A6.1,3.0 0 0 0 568.2,377.1 L568.2,325.3 Z" fill="url(#coilBody)"/><rect x="556.4" y="348.3" width="11.2" height="5.8" fill="#d8eefa" opacity="0.5"/><path d="M556.4,354.1 h11.2" stroke="#7fb3dc" stroke-width="0.7" opacity="0.7"/><ellipse cx="562.1" cy="326.5" rx="6.1" ry="3.0" fill="#9accee"/><ellipse cx="562.1" cy="325.3" rx="6.1" ry="3.0" fill="#66a6d4"/><path d="M557.5,350.2 L558.7,361.3" stroke="#c6e3f6" stroke-width="0.9" opacity="0.3"/><path d="M561.2,348.5 L562.7,355.0" stroke="#c6e3f6" stroke-width="0.9" opacity="0.3"/><path d="M565.6,337.5 L567.3,348.0" stroke="#c6e3f6" stroke-width="0.9" opacity="0.3"/><path d="M543.1,329.5 L543.1,381.7 A6.2,3.1 0 0 0 555.5,381.7 L555.5,329.5 Z" fill="url(#coilBody)"/><rect x="543.6" y="352.7" width="11.4" height="5.8" fill="#d8eefa" opacity="0.5"/><path d="M543.6,358.5 h11.4" stroke="#7fb3dc" stroke-width="0.7" opacity="0.7"/><ellipse cx="549.3" cy="330.7" rx="6.2" ry="3.1" fill="#9accee"/><ellipse cx="549.3" cy="329.5" rx="6.2" ry="3.1" fill="#66a6d4"/><path d="M545.1,337.3 L544.1,347.5" stroke="#c6e3f6" stroke-width="0.9" opacity="0.3"/><path d="M548.6,338.0 L547.4,344.4" stroke="#c6e3f6" stroke-width="0.9" opacity="0.3"/><path d="M552.7,341.0 L551.8,353.1" stroke="#c6e3f6" stroke-width="0.9" opacity="0.3"/><path d="M530.1,333.7 L530.1,386.4 A6.3,3.1 0 0 0 542.7,386.4 L542.7,333.7 Z" fill="url(#coilBody)"/><rect x="530.6" y="357.1" width="11.6" height="5.9" fill="#d8eefa" opacity="0.5"/><path d="M530.6,362.9 h11.6" stroke="#7fb3dc" stroke-width="0.7" opacity="0.7"/><ellipse cx="536.4" cy="334.9" rx="6.3" ry="3.1" fill="#9accee"/><ellipse cx="536.4" cy="333.7" rx="6.3" ry="3.1" fill="#66a6d4"/><path d="M532.6,342.6 L530.7,351.3" stroke="#c6e3f6" stroke-width="0.9" opacity="0.3"/><path d="M535.9,339.1 L536.1,350.9" stroke="#c6e3f6" stroke-width="0.9" opacity="0.3"/><path d="M539.6,349.0 L538.0,362.4" stroke="#c6e3f6" stroke-width="0.9" opacity="0.3"/><path d="M516.8,337.9 L516.8,391.1 A6.4,3.1 0 0 0 529.7,391.1 L529.7,337.9 Z" fill="url(#coilBody)"/><rect x="517.3" y="361.6" width="11.9" height="5.9" fill="#d8eefa" opacity="0.5"/><path d="M517.3,367.5 h11.9" stroke="#7fb3dc" stroke-width="0.7" opacity="0.7"/><ellipse cx="523.2" cy="339.1" rx="6.4" ry="3.1" fill="#9accee"/><ellipse cx="523.2" cy="337.9" rx="6.4" ry="3.1" fill="#66a6d4"/><path d="M520.0,352.4 L521.4,362.4" stroke="#c6e3f6" stroke-width="0.9" opacity="0.3"/><path d="M523.0,354.0 L525.0,365.5" stroke="#c6e3f6" stroke-width="0.9" opacity="0.3"/><path d="M526.8,361.1 L527.3,372.8" stroke="#c6e3f6" stroke-width="0.9" opacity="0.3"/><path d="M503.3,342.3 L503.3,396.0 A6.5,3.1 0 0 0 516.4,396.0 L516.4,342.3 Z" fill="url(#coilBody)"/><rect x="503.8" y="366.1" width="12.1" height="6.0" fill="#d8eefa" opacity="0.5"/><path d="M503.8,372.1 h12.1" stroke="#7fb3dc" stroke-width="0.7" opacity="0.7"/><ellipse cx="509.8" cy="343.5" rx="6.5" ry="3.1" fill="#9accee"/><ellipse cx="509.8" cy="342.3" rx="6.5" ry="3.1" fill="#66a6d4"/><path d="M505.7,355.0 L504.2,361.5" stroke="#c6e3f6" stroke-width="0.9" opacity="0.3"/><path d="M509.0,363.7 L507.6,371.7" stroke="#c6e3f6" stroke-width="0.9" opacity="0.3"/><path d="M512.9,365.9 L513.6,378.8" stroke="#c6e3f6" stroke-width="0.9" opacity="0.3"/><path d="M489.5,346.7 L489.5,400.9 A6.7,3.1 0 0 0 502.9,400.9 L502.9,346.7 Z" fill="url(#coilBody)"/><rect x="490.0" y="370.8" width="12.3" height="6.0" fill="#d8eefa" opacity="0.5"/><path d="M490.0,376.8 h12.3" stroke="#7fb3dc" stroke-width="0.7" opacity="0.7"/><ellipse cx="496.2" cy="347.9" rx="6.7" ry="3.1" fill="#9accee"/><ellipse cx="496.2" cy="346.7" rx="6.7" ry="3.1" fill="#66a6d4"/><path d="M491.8,357.2 L491.6,365.6" stroke="#c6e3f6" stroke-width="0.9" opacity="0.3"/><path d="M495.5,361.7 L497.4,369.8" stroke="#c6e3f6" stroke-width="0.9" opacity="0.3"/><path d="M501.2,364.0 L503.0,371.9" stroke="#c6e3f6" stroke-width="0.9" opacity="0.3"/><path d="M475.5,351.2 L475.5,405.9 A6.8,3.2 0 0 0 489.1,405.9 L489.1,351.2 Z" fill="url(#coilBody)"/><rect x="476.0" y="375.5" width="12.6" height="6.1" fill="#d8eefa" opacity="0.5"/><path d="M476.0,381.6 h12.6" stroke="#7fb3dc" stroke-width="0.7" opacity="0.7"/><ellipse cx="482.3" cy="352.4" rx="6.8" ry="3.2" fill="#9accee"/><ellipse cx="482.3" cy="351.2" rx="6.8" ry="3.2" fill="#66a6d4"/><path d="M477.9,364.4 L477.4,370.4" stroke="#c6e3f6" stroke-width="0.9" opacity="0.3"/><path d="M482.3,367.6 L482.3,375.2" stroke="#c6e3f6" stroke-width="0.9" opacity="0.3"/><path d="M485.4,362.3 L485.0,369.0" stroke="#c6e3f6" stroke-width="0.9" opacity="0.3"/><path d="M461.3,355.8 L461.3,411.0 A6.9,3.2 0 0 0 475.1,411.0 L475.1,355.8 Z" fill="url(#coilBody)"/><rect x="461.8" y="380.3" width="12.8" height="6.2" fill="#d8eefa" opacity="0.5"/><path d="M461.8,386.5 h12.8" stroke="#7fb3dc" stroke-width="0.7" opacity="0.7"/><ellipse cx="468.2" cy="357.0" rx="6.9" ry="3.2" fill="#9accee"/><ellipse cx="468.2" cy="355.8" rx="6.9" ry="3.2" fill="#66a6d4"/><path d="M463.1,361.5 L462.1,369.9" stroke="#c6e3f6" stroke-width="0.9" opacity="0.3"/><path d="M468.4,372.9 L469.0,385.0" stroke="#c6e3f6" stroke-width="0.9" opacity="0.3"/><path d="M472.8,380.9 L472.1,390.0" stroke="#c6e3f6" stroke-width="0.9" opacity="0.3"/><path d="M446.8,360.5 L446.8,416.3 A7.0,3.2 0 0 0 460.8,416.3 L460.8,360.5 Z" fill="url(#coilBody)"/><rect x="447.3" y="385.2" width="13.1" height="6.2" fill="#d8eefa" opacity="0.5"/><path d="M447.3,391.5 h13.1" stroke="#7fb3dc" stroke-width="0.7" opacity="0.7"/><ellipse cx="453.8" cy="361.7" rx="7.0" ry="3.2" fill="#9accee"/><ellipse cx="453.8" cy="360.5" rx="7.0" ry="3.2" fill="#66a6d4"/><path d="M450.6,369.1 L451.1,380.9" stroke="#c6e3f6" stroke-width="0.9" opacity="0.3"/><path d="M452.9,384.8 L453.4,397.9" stroke="#c6e3f6" stroke-width="0.9" opacity="0.3"/><path d="M458.5,384.2 L458.6,391.4" stroke="#c6e3f6" stroke-width="0.9" opacity="0.3"/><path d="M432.0,365.2 L432.0,421.6 A7.2,3.2 0 0 0 446.3,421.6 L446.3,365.2 Z" fill="url(#coilBody)"/><rect x="432.5" y="390.3" width="13.3" height="6.3" fill="#d8eefa" opacity="0.5"/><path d="M432.5,396.5 h13.3" stroke="#7fb3dc" stroke-width="0.7" opacity="0.7"/><ellipse cx="439.1" cy="366.4" rx="7.2" ry="3.2" fill="#9accee"/><ellipse cx="439.1" cy="365.2" rx="7.2" ry="3.2" fill="#66a6d4"/><path d="M434.9,389.7 L436.2,402.2" stroke="#c6e3f6" stroke-width="0.9" opacity="0.3"/><path d="M439.3,391.1 L440.1,402.5" stroke="#c6e3f6" stroke-width="0.9" opacity="0.3"/><path d="M442.9,371.2 L442.3,378.2" stroke="#c6e3f6" stroke-width="0.9" opacity="0.3"/><path d="M416.9,370.1 L416.9,427.0 A7.3,3.2 0 0 0 431.5,427.0 L431.5,370.1 Z" fill="url(#coilBody)"/><rect x="417.4" y="395.3" width="13.6" height="6.3" fill="#d8eefa" opacity="0.5"/><path d="M417.4,401.7 h13.6" stroke="#7fb3dc" stroke-width="0.7" opacity="0.7"/><ellipse cx="424.2" cy="371.3" rx="7.3" ry="3.2" fill="#9accee"/><ellipse cx="424.2" cy="370.1" rx="7.3" ry="3.2" fill="#66a6d4"/><path d="M419.0,394.8 L419.6,405.3" stroke="#c6e3f6" stroke-width="0.9" opacity="0.3"/><path d="M424.5,391.2 L422.5,401.1" stroke="#c6e3f6" stroke-width="0.9" opacity="0.3"/><path d="M429.2,392.8 L429.3,402.8" stroke="#c6e3f6" stroke-width="0.9" opacity="0.3"/><path d="M399.2,375.0 L399.2,431.7 A9.8,3.7 0 0 0 418.8,431.7 L418.8,375.0 Z" fill="url(#coilBody)"/><rect x="399.7" y="400.1" width="18.5" height="6.4" fill="#d8eefa" opacity="0.5"/><path d="M399.7,406.5 h18.5" stroke="#7fb3dc" stroke-width="0.7" opacity="0.7"/><ellipse cx="409.0" cy="376.2" rx="9.8" ry="3.7" fill="#9accee"/><ellipse cx="409.0" cy="375.0" rx="9.8" ry="3.7" fill="#66a6d4"/><path d="M403.5,382.2 L402.5,394.1" stroke="#c6e3f6" stroke-width="0.9" opacity="0.3"/><path d="M408.1,386.9 L407.0,398.8" stroke="#c6e3f6" stroke-width="0.9" opacity="0.3"/><path d="M415.3,403.7 L414.9,413.6" stroke="#c6e3f6" stroke-width="0.9" opacity="0.3"/></g><path d="M105.0,226.0 L377.3,304.6 Q410.0,314.0 442.6,304.5 L633.0,249.0 L633.0,262.0 L442.6,319.5 Q410.0,329.0 377.3,319.6 L105.0,239.0 Z" fill="url(#l4front)"/><path d="M105.0,239.0 L377.3,319.6 Q410.0,329.0 442.6,319.5 L633.0,262.0" fill="none" stroke="#d3ecef" stroke-width="1.4"/><path d="M105.0,226.0 L339.0,174.0 L633.0,249.0 L442.6,304.5 Q410.0,314.0 377.3,304.6 Z" fill="url(#l4top)"/><polygon points="101.0,185.0 334.0,136.0 636.0,202.0 405.0,264.0" fill="url(#bumps)"/><polygon points="101.0,185.0 334.0,136.0 636.0,202.0 405.0,264.0" fill="#cfcdc0" opacity="0.12"/><ellipse cx="101.0" cy="183.8" rx="3.0" ry="1.8" fill="#d8d5c6"/><ellipse cx="108.1" cy="185.6" rx="3.0" ry="1.8" fill="#d8d5c6"/><ellipse cx="115.1" cy="187.5" rx="3.0" ry="1.8" fill="#d8d5c6"/><ellipse cx="122.2" cy="189.3" rx="3.0" ry="1.8" fill="#d8d5c6"/><ellipse cx="129.3" cy="191.1" rx="3.0" ry="1.8" fill="#d8d5c6"/><ellipse cx="136.3" cy="193.0" rx="3.0" ry="1.8" fill="#d8d5c6"/><ellipse cx="143.4" cy="194.8" rx="3.0" ry="1.8" fill="#d8d5c6"/><ellipse cx="150.5" cy="196.7" rx="3.0" ry="1.8" fill="#d8d5c6"/><ellipse cx="157.6" cy="198.5" rx="3.0" ry="1.8" fill="#d8d5c6"/><ellipse cx="164.6" cy="200.3" rx="3.0" ry="1.8" fill="#d8d5c6"/><ellipse cx="171.7" cy="202.2" rx="3.0" ry="1.8" fill="#d8d5c6"/><ellipse cx="178.8" cy="204.0" rx="3.0" ry="1.8" fill="#d8d5c6"/><ellipse cx="185.8" cy="205.8" rx="3.0" ry="1.8" fill="#d8d5c6"/><ellipse cx="192.9" cy="207.7" rx="3.0" ry="1.8" fill="#d8d5c6"/><ellipse cx="200.0" cy="209.5" rx="3.0" ry="1.8" fill="#d8d5c6"/><ellipse cx="207.0" cy="211.4" rx="3.0" ry="1.8" fill="#d8d5c6"/><ellipse cx="214.1" cy="213.2" rx="3.0" ry="1.8" fill="#d8d5c6"/><ellipse cx="221.2" cy="215.0" rx="3.0" ry="1.8" fill="#d8d5c6"/><ellipse cx="228.3" cy="216.9" rx="3.0" ry="1.8" fill="#d8d5c6"/><ellipse cx="235.3" cy="218.7" rx="3.0" ry="1.8" fill="#d8d5c6"/><ellipse cx="242.4" cy="220.5" rx="3.0" ry="1.8" fill="#d8d5c6"/><ellipse cx="249.5" cy="222.4" rx="3.0" ry="1.8" fill="#d8d5c6"/><ellipse cx="256.5" cy="224.2" rx="3.0" ry="1.8" fill="#d8d5c6"/><ellipse cx="263.6" cy="226.1" rx="3.0" ry="1.8" fill="#d8d5c6"/><ellipse cx="270.7" cy="227.9" rx="3.0" ry="1.8" fill="#d8d5c6"/><ellipse cx="277.7" cy="229.7" rx="3.0" ry="1.8" fill="#d8d5c6"/><ellipse cx="284.8" cy="231.6" rx="3.0" ry="1.8" fill="#d8d5c6"/><ellipse cx="291.9" cy="233.4" rx="3.0" ry="1.8" fill="#d8d5c6"/><ellipse cx="299.0" cy="235.2" rx="3.0" ry="1.8" fill="#d8d5c6"/><ellipse cx="306.0" cy="237.1" rx="3.0" ry="1.8" fill="#d8d5c6"/><ellipse cx="313.1" cy="238.9" rx="3.0" ry="1.8" fill="#d8d5c6"/><ellipse cx="320.2" cy="240.8" rx="3.0" ry="1.8" fill="#d8d5c6"/><ellipse cx="327.2" cy="242.6" rx="3.0" ry="1.8" fill="#d8d5c6"/><ellipse cx="334.3" cy="244.4" rx="3.0" ry="1.8" fill="#d8d5c6"/><ellipse cx="341.4" cy="246.3" rx="3.0" ry="1.8" fill="#d8d5c6"/><ellipse cx="348.4" cy="248.1" rx="3.0" ry="1.8" fill="#d8d5c6"/><ellipse cx="355.5" cy="249.9" rx="3.0" ry="1.8" fill="#d8d5c6"/><ellipse cx="362.6" cy="251.8" rx="3.0" ry="1.8" fill="#d8d5c6"/><ellipse cx="369.7" cy="253.6" rx="3.0" ry="1.8" fill="#d8d5c6"/><ellipse cx="376.7" cy="255.5" rx="3.0" ry="1.8" fill="#d8d5c6"/><ellipse cx="383.8" cy="257.3" rx="3.0" ry="1.8" fill="#d8d5c6"/><ellipse cx="390.9" cy="259.1" rx="3.0" ry="1.8" fill="#d8d5c6"/><ellipse cx="397.9" cy="261.0" rx="3.0" ry="1.8" fill="#d8d5c6"/><ellipse cx="405.0" cy="262.8" rx="3.0" ry="1.8" fill="#d8d5c6"/><ellipse cx="405.0" cy="262.8" rx="3.0" ry="1.8" fill="#d8d5c6"/><ellipse cx="412.0" cy="260.9" rx="3.0" ry="1.8" fill="#d8d5c6"/><ellipse cx="419.0" cy="259.0" rx="3.0" ry="1.8" fill="#d8d5c6"/><ellipse cx="426.0" cy="257.2" rx="3.0" ry="1.8" fill="#d8d5c6"/><ellipse cx="433.0" cy="255.3" rx="3.0" ry="1.8" fill="#d8d5c6"/><ellipse cx="440.0" cy="253.4" rx="3.0" ry="1.8" fill="#d8d5c6"/><ellipse cx="447.0" cy="251.5" rx="3.0" ry="1.8" fill="#d8d5c6"/><ellipse cx="454.0" cy="249.6" rx="3.0" ry="1.8" fill="#d8d5c6"/><ellipse cx="461.0" cy="247.8" rx="3.0" ry="1.8" fill="#d8d5c6"/><ellipse cx="468.0" cy="245.9" rx="3.0" ry="1.8" fill="#d8d5c6"/><ellipse cx="475.0" cy="244.0" rx="3.0" ry="1.8" fill="#d8d5c6"/><ellipse cx="482.0" cy="242.1" rx="3.0" ry="1.8" fill="#d8d5c6"/><ellipse cx="489.0" cy="240.3" rx="3.0" ry="1.8" fill="#d8d5c6"/><ellipse cx="496.0" cy="238.4" rx="3.0" ry="1.8" fill="#d8d5c6"/><ellipse cx="503.0" cy="236.5" rx="3.0" ry="1.8" fill="#d8d5c6"/><ellipse cx="510.0" cy="234.6" rx="3.0" ry="1.8" fill="#d8d5c6"/><ellipse cx="517.0" cy="232.7" rx="3.0" ry="1.8" fill="#d8d5c6"/><ellipse cx="524.0" cy="230.9" rx="3.0" ry="1.8" fill="#d8d5c6"/><ellipse cx="531.0" cy="229.0" rx="3.0" ry="1.8" fill="#d8d5c6"/><ellipse cx="538.0" cy="227.1" rx="3.0" ry="1.8" fill="#d8d5c6"/><ellipse cx="545.0" cy="225.2" rx="3.0" ry="1.8" fill="#d8d5c6"/><ellipse cx="552.0" cy="223.3" rx="3.0" ry="1.8" fill="#d8d5c6"/><ellipse cx="559.0" cy="221.5" rx="3.0" ry="1.8" fill="#d8d5c6"/><ellipse cx="566.0" cy="219.6" rx="3.0" ry="1.8" fill="#d8d5c6"/><ellipse cx="573.0" cy="217.7" rx="3.0" ry="1.8" fill="#d8d5c6"/><ellipse cx="580.0" cy="215.8" rx="3.0" ry="1.8" fill="#d8d5c6"/><ellipse cx="587.0" cy="214.0" rx="3.0" ry="1.8" fill="#d8d5c6"/><ellipse cx="594.0" cy="212.1" rx="3.0" ry="1.8" fill="#d8d5c6"/><ellipse cx="601.0" cy="210.2" rx="3.0" ry="1.8" fill="#d8d5c6"/><ellipse cx="608.0" cy="208.3" rx="3.0" ry="1.8" fill="#d8d5c6"/><ellipse cx="615.0" cy="206.4" rx="3.0" ry="1.8" fill="#d8d5c6"/><ellipse cx="622.0" cy="204.6" rx="3.0" ry="1.8" fill="#d8d5c6"/><ellipse cx="629.0" cy="202.7" rx="3.0" ry="1.8" fill="#d8d5c6"/><ellipse cx="636.0" cy="200.8" rx="3.0" ry="1.8" fill="#d8d5c6"/><path d="M97.0,127.0 L369.8,186.3 Q405.0,194.0 440.1,186.1 L640.0,141.0 L640.0,155.0 L440.1,201.1 Q405.0,209.0 369.8,201.3 L97.0,139.0 Z" fill="url(#l2front)"/><path d="M97.0,127.0 L329.0,86.0 L640.0,141.0 L440.1,186.1 Q405.0,194.0 369.8,186.3 Z" fill="url(#l2top)"/><g fill="#a89a70" opacity="0.45"><circle cx="517.6" cy="178.6" r="0.5"/><circle cx="550.0" cy="162.3" r="0.5"/><circle cx="142.4" cy="146.6" r="0.5"/><circle cx="190.8" cy="148.2" r="0.5"/><circle cx="115.7" cy="140.1" r="0.5"/><circle cx="567.7" cy="161.1" r="0.5"/><circle cx="256.1" cy="167.7" r="0.5"/><circle cx="432.8" cy="190.3" r="0.5"/><circle cx="634.9" cy="142.4" r="0.5"/><circle cx="512.9" cy="182.3" r="0.5"/><circle cx="235.4" cy="160.2" r="0.5"/><circle cx="388.2" cy="197.4" r="0.5"/><circle cx="140.7" cy="148.8" r="0.5"/><circle cx="436.2" cy="193.6" r="0.5"/><circle cx="613.4" cy="150.0" r="0.5"/><circle cx="373.5" cy="187.5" r="0.5"/><circle cx="98.1" cy="133.6" r="0.5"/><circle cx="190.0" cy="152.1" r="0.5"/><circle cx="479.3" cy="177.3" r="0.5"/><circle cx="581.4" cy="155.8" r="0.5"/><circle cx="622.7" cy="156.6" r="0.5"/><circle cx="186.3" cy="151.8" r="0.5"/><circle cx="639.7" cy="145.8" r="0.5"/><circle cx="228.8" cy="156.8" r="0.5"/><circle cx="428.9" cy="192.3" r="0.5"/><circle cx="385.2" cy="192.9" r="0.5"/><circle cx="254.4" cy="166.2" r="0.5"/><circle cx="629.7" cy="153.9" r="0.5"/><circle cx="553.3" cy="172.8" r="0.5"/><circle cx="534.1" cy="165.5" r="0.5"/><circle cx="322.6" cy="185.4" r="0.5"/><circle cx="295.5" cy="171.1" r="0.5"/><circle cx="382.4" cy="194.8" r="0.5"/><circle cx="202.8" cy="159.6" r="0.5"/><circle cx="397.7" cy="200.3" r="0.5"/><circle cx="189.7" cy="152.6" r="0.5"/><circle cx="148.5" cy="141.5" r="0.5"/><circle cx="376.0" cy="190.4" r="0.5"/><circle cx="618.0" cy="151.8" r="0.5"/><circle cx="140.0" cy="138.3" r="0.5"/><circle cx="202.3" cy="153.4" r="0.5"/><circle cx="176.6" cy="155.7" r="0.5"/><circle cx="327.9" cy="182.4" r="0.5"/><circle cx="258.4" cy="166.7" r="0.5"/><circle cx="116.1" cy="143.7" r="0.5"/><circle cx="135.8" cy="143.9" r="0.5"/><circle cx="362.8" cy="188.2" r="0.5"/><circle cx="173.5" cy="149.7" r="0.5"/><circle cx="629.2" cy="154.8" r="0.5"/><circle cx="103.7" cy="138.0" r="0.5"/><circle cx="372.9" cy="194.2" r="0.5"/><circle cx="97.1" cy="139.1" r="0.5"/><circle cx="599.0" cy="162.9" r="0.5"/><circle cx="173.5" cy="146.3" r="0.5"/><circle cx="527.8" cy="178.6" r="0.5"/><circle cx="574.6" cy="165.7" r="0.5"/><circle cx="237.9" cy="158.7" r="0.5"/><circle cx="337.9" cy="190.7" r="0.5"/><circle cx="295.8" cy="172.1" r="0.5"/><circle cx="464.2" cy="189.7" r="0.5"/><circle cx="131.5" cy="141.7" r="0.5"/><circle cx="276.5" cy="169.2" r="0.5"/><circle cx="282.1" cy="171.3" r="0.5"/><circle cx="513.3" cy="178.0" r="0.5"/><circle cx="369.2" cy="189.1" r="0.5"/><circle cx="463.1" cy="190.1" r="0.5"/><circle cx="191.7" cy="154.3" r="0.5"/><circle cx="304.7" cy="175.6" r="0.5"/><circle cx="561.8" cy="161.6" r="0.5"/><circle cx="107.5" cy="135.3" r="0.5"/><circle cx="307.2" cy="182.6" r="0.5"/><circle cx="324.7" cy="179.2" r="0.5"/><circle cx="395.7" cy="201.9" r="0.5"/><circle cx="168.1" cy="152.4" r="0.5"/><circle cx="474.3" cy="184.8" r="0.5"/><circle cx="154.7" cy="145.4" r="0.5"/><circle cx="561.3" cy="160.6" r="0.5"/><circle cx="218.2" cy="165.7" r="0.5"/><circle cx="140.7" cy="138.1" r="0.5"/><circle cx="497.4" cy="184.6" r="0.5"/><circle cx="577.2" cy="167.3" r="0.5"/><circle cx="198.4" cy="161.0" r="0.5"/><circle cx="326.9" cy="185.2" r="0.5"/><circle cx="213.6" cy="157.0" r="0.5"/><circle cx="149.1" cy="142.5" r="0.5"/><circle cx="487.6" cy="177.0" r="0.5"/><circle cx="394.0" cy="195.9" r="0.5"/><circle cx="598.1" cy="156.1" r="0.5"/><circle cx="112.2" cy="135.7" r="0.5"/><circle cx="380.2" cy="193.1" r="0.5"/><circle cx="373.3" cy="192.1" r="0.5"/><circle cx="595.8" cy="151.5" r="0.5"/><circle cx="107.7" cy="141.3" r="0.5"/><circle cx="465.4" cy="192.1" r="0.5"/><circle cx="201.4" cy="161.9" r="0.5"/><circle cx="287.0" cy="177.3" r="0.5"/><circle cx="194.5" cy="148.9" r="0.5"/><circle cx="582.6" cy="162.2" r="0.5"/><circle cx="387.5" cy="193.1" r="0.5"/><circle cx="516.7" cy="181.2" r="0.5"/><circle cx="216.0" cy="158.7" r="0.5"/><circle cx="521.0" cy="170.2" r="0.5"/><circle cx="593.6" cy="162.2" r="0.5"/><circle cx="586.6" cy="157.3" r="0.5"/><circle cx="195.4" cy="158.5" r="0.5"/><circle cx="121.3" cy="142.2" r="0.5"/><circle cx="173.2" cy="144.7" r="0.5"/><circle cx="267.2" cy="176.2" r="0.5"/><circle cx="612.6" cy="150.6" r="0.5"/><circle cx="122.9" cy="139.5" r="0.5"/><circle cx="315.6" cy="177.7" r="0.5"/><circle cx="503.0" cy="180.7" r="0.5"/><circle cx="580.8" cy="163.0" r="0.5"/><circle cx="433.5" cy="191.4" r="0.5"/><circle cx="271.6" cy="174.3" r="0.5"/><circle cx="158.4" cy="144.1" r="0.5"/><circle cx="441.0" cy="193.4" r="0.5"/><circle cx="197.5" cy="161.4" r="0.5"/><circle cx="253.3" cy="171.2" r="0.5"/><circle cx="558.5" cy="160.7" r="0.5"/><circle cx="516.6" cy="179.8" r="0.5"/><circle cx="378.6" cy="191.9" r="0.5"/><circle cx="133.7" cy="147.5" r="0.5"/><circle cx="542.1" cy="167.9" r="0.5"/><circle cx="363.8" cy="188.3" r="0.5"/><circle cx="587.8" cy="154.2" r="0.5"/><circle cx="545.1" cy="165.2" r="0.5"/><circle cx="210.6" cy="154.8" r="0.5"/><circle cx="464.9" cy="189.0" r="0.5"/><circle cx="159.7" cy="145.4" r="0.5"/><circle cx="305.9" cy="176.5" r="0.5"/><circle cx="452.8" cy="190.3" r="0.5"/><circle cx="116.5" cy="136.9" r="0.5"/><circle cx="534.3" cy="166.0" r="0.5"/><circle cx="443.5" cy="190.7" r="0.5"/><circle cx="184.3" cy="158.1" r="0.5"/><circle cx="193.2" cy="152.9" r="0.5"/><circle cx="502.9" cy="184.9" r="0.5"/><circle cx="209.0" cy="160.7" r="0.5"/><circle cx="159.7" cy="152.3" r="0.5"/><circle cx="504.6" cy="176.8" r="0.5"/><circle cx="368.9" cy="188.2" r="0.5"/><circle cx="101.6" cy="136.7" r="0.5"/><circle cx="377.2" cy="195.5" r="0.5"/><circle cx="211.2" cy="154.2" r="0.5"/><circle cx="184.3" cy="157.8" r="0.5"/><circle cx="130.5" cy="144.8" r="0.5"/><circle cx="394.8" cy="193.3" r="0.5"/><circle cx="626.6" cy="150.3" r="0.5"/><circle cx="417.5" cy="196.2" r="0.5"/><circle cx="617.5" cy="156.8" r="0.5"/><circle cx="442.7" cy="188.4" r="0.5"/><circle cx="500.1" cy="183.3" r="0.5"/><circle cx="153.4" cy="144.9" r="0.5"/><circle cx="256.5" cy="163.7" r="0.5"/><circle cx="463.1" cy="192.6" r="0.5"/><circle cx="109.7" cy="139.8" r="0.5"/><circle cx="414.0" cy="193.5" r="0.5"/><circle cx="281.7" cy="175.1" r="0.5"/><circle cx="191.3" cy="155.2" r="0.5"/><circle cx="505.0" cy="177.2" r="0.5"/><circle cx="232.0" cy="164.4" r="0.5"/><circle cx="247.8" cy="169.5" r="0.5"/><circle cx="337.2" cy="181.6" r="0.5"/><circle cx="242.8" cy="160.8" r="0.5"/><circle cx="229.6" cy="161.7" r="0.5"/><circle cx="254.1" cy="169.3" r="0.5"/><circle cx="424.3" cy="199.8" r="0.5"/><circle cx="254.5" cy="167.8" r="0.5"/><circle cx="493.8" cy="175.7" r="0.5"/><circle cx="606.4" cy="158.1" r="0.5"/><circle cx="348.0" cy="193.6" r="0.5"/><circle cx="520.6" cy="179.8" r="0.5"/><circle cx="443.8" cy="197.3" r="0.5"/><circle cx="117.2" cy="141.4" r="0.5"/><circle cx="442.3" cy="189.2" r="0.5"/><circle cx="348.2" cy="187.9" r="0.5"/><circle cx="380.3" cy="191.9" r="0.5"/><circle cx="252.9" cy="161.8" r="0.5"/><circle cx="153.1" cy="151.3" r="0.5"/><circle cx="564.7" cy="160.2" r="0.5"/><circle cx="338.7" cy="186.2" r="0.5"/><circle cx="293.0" cy="180.5" r="0.5"/><circle cx="535.5" cy="176.0" r="0.5"/><circle cx="429.6" cy="196.6" r="0.5"/><circle cx="497.7" cy="176.5" r="0.5"/><circle cx="637.8" cy="146.2" r="0.5"/><circle cx="332.5" cy="180.6" r="0.5"/><circle cx="326.0" cy="186.9" r="0.5"/><circle cx="464.6" cy="193.3" r="0.5"/><circle cx="542.7" cy="167.0" r="0.5"/><circle cx="97.6" cy="129.9" r="0.5"/><circle cx="286.7" cy="174.8" r="0.5"/><circle cx="372.8" cy="189.8" r="0.5"/><circle cx="298.2" cy="171.1" r="0.5"/><circle cx="206.3" cy="155.7" r="0.5"/><circle cx="457.7" cy="189.8" r="0.5"/><circle cx="453.0" cy="189.4" r="0.5"/><circle cx="436.7" cy="190.0" r="0.5"/><circle cx="143.0" cy="145.5" r="0.5"/><circle cx="609.8" cy="153.0" r="0.5"/><circle cx="178.4" cy="153.2" r="0.5"/><circle cx="270.2" cy="172.9" r="0.5"/><circle cx="509.3" cy="180.0" r="0.5"/><circle cx="463.4" cy="181.4" r="0.5"/><circle cx="260.7" cy="165.9" r="0.5"/><circle cx="418.7" cy="191.1" r="0.5"/><circle cx="534.5" cy="166.7" r="0.5"/><circle cx="451.9" cy="190.0" r="0.5"/><circle cx="555.8" cy="162.3" r="0.5"/><circle cx="192.3" cy="149.0" r="0.5"/><circle cx="614.0" cy="156.2" r="0.5"/><circle cx="406.5" cy="203.4" r="0.5"/><circle cx="514.3" cy="175.2" r="0.5"/><circle cx="166.6" cy="145.7" r="0.5"/><circle cx="109.0" cy="139.6" r="0.5"/><circle cx="568.4" cy="166.4" r="0.5"/><circle cx="178.9" cy="150.8" r="0.5"/><circle cx="339.8" cy="183.2" r="0.5"/><circle cx="555.9" cy="162.8" r="0.5"/><circle cx="368.1" cy="189.2" r="0.5"/><circle cx="460.5" cy="193.8" r="0.5"/><circle cx="326.8" cy="187.8" r="0.5"/><circle cx="198.2" cy="160.6" r="0.5"/><circle cx="553.2" cy="169.2" r="0.5"/><circle cx="398.5" cy="202.7" r="0.5"/><circle cx="568.9" cy="162.7" r="0.5"/><circle cx="575.3" cy="159.6" r="0.5"/><circle cx="454.8" cy="183.8" r="0.5"/><circle cx="377.5" cy="188.4" r="0.5"/><circle cx="430.1" cy="192.8" r="0.5"/><circle cx="140.7" cy="137.9" r="0.5"/><circle cx="567.8" cy="166.4" r="0.5"/><circle cx="323.9" cy="183.7" r="0.5"/><circle cx="490.4" cy="185.4" r="0.5"/><circle cx="371.5" cy="197.2" r="0.5"/><circle cx="619.9" cy="146.9" r="0.5"/><circle cx="160.4" cy="142.0" r="0.5"/><circle cx="604.2" cy="157.3" r="0.5"/><circle cx="598.9" cy="154.0" r="0.5"/><circle cx="127.8" cy="143.7" r="0.5"/><circle cx="160.1" cy="146.6" r="0.5"/><circle cx="103.4" cy="132.8" r="0.5"/><circle cx="317.5" cy="179.1" r="0.5"/><circle cx="393.9" cy="201.8" r="0.5"/><circle cx="287.4" cy="173.8" r="0.5"/><circle cx="507.6" cy="175.4" r="0.5"/><circle cx="314.0" cy="177.1" r="0.5"/><circle cx="362.6" cy="194.7" r="0.5"/><circle cx="149.5" cy="141.7" r="0.5"/><circle cx="584.1" cy="153.7" r="0.5"/><circle cx="248.2" cy="170.0" r="0.5"/><circle cx="153.8" cy="144.3" r="0.5"/><circle cx="353.2" cy="194.2" r="0.5"/><circle cx="184.4" cy="155.1" r="0.5"/><circle cx="250.5" cy="168.5" r="0.5"/><circle cx="424.0" cy="198.8" r="0.5"/><circle cx="589.9" cy="156.9" r="0.5"/><circle cx="220.6" cy="165.2" r="0.5"/><circle cx="425.3" cy="189.8" r="0.5"/></g><clipPath id="l2clip"><polygon points="97,127 329,86 640,141 405,194"/></clipPath><g clip-path="url(#l2clip)"><path d="M66.0,73.0 C66.2,71.2 66.5,64.8 67.0,62.0 C67.5,59.2 64.5,58.2 69.0,56.0 C73.5,53.8 78.3,51.5 94.0,49.0 C109.7,46.5 140.2,43.5 163.0,40.7 C185.8,37.9 208.2,34.3 231.0,32.0 C253.8,29.7 282.8,28.4 300.0,27.0 C317.2,25.6 320.7,24.2 334.0,23.6 C347.3,23.0 365.7,22.9 380.0,23.6 C394.3,24.3 408.3,26.1 420.0,28.0 C431.7,29.9 431.7,32.2 450.0,35.0 C468.3,37.8 504.3,41.5 530.0,45.0 C555.7,48.5 584.0,53.2 604.0,56.0 C624.0,58.8 640.0,60.5 650.0,62.0 C660.0,63.5 660.8,63.3 664.0,65.0 C667.2,66.7 667.7,68.2 669.0,72.0 C670.3,75.8 671.5,85.3 672.0,88.0 L672.0,88.0 C670.0,87.8 664.5,87.4 660.0,87.0 C655.5,86.6 654.3,84.7 645.0,85.5 C635.7,86.3 616.0,88.4 604.0,92.0 C592.0,95.6 581.5,101.8 573.0,107.0 C564.5,112.2 559.0,118.7 553.0,123.0 C547.0,127.3 545.0,128.8 537.0,133.0 C529.0,137.2 516.0,144.3 505.0,148.0 C494.0,151.7 482.7,153.0 471.0,155.0 C459.3,157.0 446.5,158.8 435.0,160.0 C423.5,161.2 411.2,161.9 402.0,162.0 C392.8,162.1 391.3,161.7 380.0,160.6 C368.7,159.5 347.3,157.5 334.0,155.5 C320.7,153.5 311.5,151.8 300.0,148.6 C288.5,145.4 276.5,141.2 265.0,136.6 C253.5,132.0 242.3,126.9 231.0,121.2 C219.7,115.5 208.3,108.7 197.0,102.4 C185.7,96.1 174.4,88.1 163.0,83.5 C151.6,78.9 144.7,76.8 128.5,75.0 C112.3,73.2 76.4,73.3 66.0,73.0 Z" transform="translate(0 5)" fill="#000" opacity="0.22" filter="url(#blur3)"/></g><path d="M66.0,73.0 C66.2,71.2 66.5,64.8 67.0,62.0 C67.5,59.2 64.5,58.2 69.0,56.0 C73.5,53.8 78.3,51.5 94.0,49.0 C109.7,46.5 140.2,43.5 163.0,40.7 C185.8,37.9 208.2,34.3 231.0,32.0 C253.8,29.7 282.8,28.4 300.0,27.0 C317.2,25.6 320.7,24.2 334.0,23.6 C347.3,23.0 365.7,22.9 380.0,23.6 C394.3,24.3 408.3,26.1 420.0,28.0 C431.7,29.9 431.7,32.2 450.0,35.0 C468.3,37.8 504.3,41.5 530.0,45.0 C555.7,48.5 584.0,53.2 604.0,56.0 C624.0,58.8 640.0,60.5 650.0,62.0 C660.0,63.5 660.8,63.3 664.0,65.0 C667.2,66.7 667.7,68.2 669.0,72.0 C670.3,75.8 671.5,85.3 672.0,88.0 L672.0,88.0 C670.0,87.8 664.5,87.4 660.0,87.0 C655.5,86.6 654.3,84.7 645.0,85.5 C635.7,86.3 616.0,88.4 604.0,92.0 C592.0,95.6 581.5,101.8 573.0,107.0 C564.5,112.2 559.0,118.7 553.0,123.0 C547.0,127.3 545.0,128.8 537.0,133.0 C529.0,137.2 516.0,144.3 505.0,148.0 C494.0,151.7 482.7,153.0 471.0,155.0 C459.3,157.0 446.5,158.8 435.0,160.0 C423.5,161.2 411.2,161.9 402.0,162.0 C392.8,162.1 391.3,161.7 380.0,160.6 C368.7,159.5 347.3,157.5 334.0,155.5 C320.7,153.5 311.5,151.8 300.0,148.6 C288.5,145.4 276.5,141.2 265.0,136.6 C253.5,132.0 242.3,126.9 231.0,121.2 C219.7,115.5 208.3,108.7 197.0,102.4 C185.7,96.1 174.4,88.1 163.0,83.5 C151.6,78.9 144.7,76.8 128.5,75.0 C112.3,73.2 76.4,73.3 66.0,73.0 Z" fill="url(#knit)"/><path d="M66.0,73.0 C66.2,71.2 66.5,64.8 67.0,62.0 C67.5,59.2 64.5,58.2 69.0,56.0 C73.5,53.8 78.3,51.5 94.0,49.0 C109.7,46.5 140.2,43.5 163.0,40.7 C185.8,37.9 208.2,34.3 231.0,32.0 C253.8,29.7 282.8,28.4 300.0,27.0 C317.2,25.6 320.7,24.2 334.0,23.6 C347.3,23.0 365.7,22.9 380.0,23.6 C394.3,24.3 408.3,26.1 420.0,28.0 C431.7,29.9 431.7,32.2 450.0,35.0 C468.3,37.8 504.3,41.5 530.0,45.0 C555.7,48.5 584.0,53.2 604.0,56.0 C624.0,58.8 640.0,60.5 650.0,62.0 C660.0,63.5 660.8,63.3 664.0,65.0 C667.2,66.7 667.7,68.2 669.0,72.0 C670.3,75.8 671.5,85.3 672.0,88.0 L672.0,88.0 C670.0,87.8 664.5,87.4 660.0,87.0 C655.5,86.6 654.3,84.7 645.0,85.5 C635.7,86.3 616.0,88.4 604.0,92.0 C592.0,95.6 581.5,101.8 573.0,107.0 C564.5,112.2 559.0,118.7 553.0,123.0 C547.0,127.3 545.0,128.8 537.0,133.0 C529.0,137.2 516.0,144.3 505.0,148.0 C494.0,151.7 482.7,153.0 471.0,155.0 C459.3,157.0 446.5,158.8 435.0,160.0 C423.5,161.2 411.2,161.9 402.0,162.0 C392.8,162.1 391.3,161.7 380.0,160.6 C368.7,159.5 347.3,157.5 334.0,155.5 C320.7,153.5 311.5,151.8 300.0,148.6 C288.5,145.4 276.5,141.2 265.0,136.6 C253.5,132.0 242.3,126.9 231.0,121.2 C219.7,115.5 208.3,108.7 197.0,102.4 C185.7,96.1 174.4,88.1 163.0,83.5 C151.6,78.9 144.7,76.8 128.5,75.0 C112.3,73.2 76.4,73.3 66.0,73.0 Z" fill="url(#knitV)" mask="url(#mLeft)"/><path d="M66.0,73.0 C66.2,71.2 66.5,64.8 67.0,62.0 C67.5,59.2 64.5,58.2 69.0,56.0 C73.5,53.8 78.3,51.5 94.0,49.0 C109.7,46.5 140.2,43.5 163.0,40.7 C185.8,37.9 208.2,34.3 231.0,32.0 C253.8,29.7 282.8,28.4 300.0,27.0 C317.2,25.6 320.7,24.2 334.0,23.6 C347.3,23.0 365.7,22.9 380.0,23.6 C394.3,24.3 408.3,26.1 420.0,28.0 C431.7,29.9 431.7,32.2 450.0,35.0 C468.3,37.8 504.3,41.5 530.0,45.0 C555.7,48.5 584.0,53.2 604.0,56.0 C624.0,58.8 640.0,60.5 650.0,62.0 C660.0,63.5 660.8,63.3 664.0,65.0 C667.2,66.7 667.7,68.2 669.0,72.0 C670.3,75.8 671.5,85.3 672.0,88.0 L672.0,88.0 C670.0,87.8 664.5,87.4 660.0,87.0 C655.5,86.6 654.3,84.7 645.0,85.5 C635.7,86.3 616.0,88.4 604.0,92.0 C592.0,95.6 581.5,101.8 573.0,107.0 C564.5,112.2 559.0,118.7 553.0,123.0 C547.0,127.3 545.0,128.8 537.0,133.0 C529.0,137.2 516.0,144.3 505.0,148.0 C494.0,151.7 482.7,153.0 471.0,155.0 C459.3,157.0 446.5,158.8 435.0,160.0 C423.5,161.2 411.2,161.9 402.0,162.0 C392.8,162.1 391.3,161.7 380.0,160.6 C368.7,159.5 347.3,157.5 334.0,155.5 C320.7,153.5 311.5,151.8 300.0,148.6 C288.5,145.4 276.5,141.2 265.0,136.6 C253.5,132.0 242.3,126.9 231.0,121.2 C219.7,115.5 208.3,108.7 197.0,102.4 C185.7,96.1 174.4,88.1 163.0,83.5 C151.6,78.9 144.7,76.8 128.5,75.0 C112.3,73.2 76.4,73.3 66.0,73.0 Z" fill="url(#knitS)" mask="url(#mRight)"/><path d="M66.0,73.0 C66.2,71.2 66.5,64.8 67.0,62.0 C67.5,59.2 64.5,58.2 69.0,56.0 C73.5,53.8 78.3,51.5 94.0,49.0 C109.7,46.5 140.2,43.5 163.0,40.7 C185.8,37.9 208.2,34.3 231.0,32.0 C253.8,29.7 282.8,28.4 300.0,27.0 C317.2,25.6 320.7,24.2 334.0,23.6 C347.3,23.0 365.7,22.9 380.0,23.6 C394.3,24.3 408.3,26.1 420.0,28.0 C431.7,29.9 431.7,32.2 450.0,35.0 C468.3,37.8 504.3,41.5 530.0,45.0 C555.7,48.5 584.0,53.2 604.0,56.0 C624.0,58.8 640.0,60.5 650.0,62.0 C660.0,63.5 660.8,63.3 664.0,65.0 C667.2,66.7 667.7,68.2 669.0,72.0 C670.3,75.8 671.5,85.3 672.0,88.0 L672.0,88.0 C670.0,87.8 664.5,87.4 660.0,87.0 C655.5,86.6 654.3,84.7 645.0,85.5 C635.7,86.3 616.0,88.4 604.0,92.0 C592.0,95.6 581.5,101.8 573.0,107.0 C564.5,112.2 559.0,118.7 553.0,123.0 C547.0,127.3 545.0,128.8 537.0,133.0 C529.0,137.2 516.0,144.3 505.0,148.0 C494.0,151.7 482.7,153.0 471.0,155.0 C459.3,157.0 446.5,158.8 435.0,160.0 C423.5,161.2 411.2,161.9 402.0,162.0 C392.8,162.1 391.3,161.7 380.0,160.6 C368.7,159.5 347.3,157.5 334.0,155.5 C320.7,153.5 311.5,151.8 300.0,148.6 C288.5,145.4 276.5,141.2 265.0,136.6 C253.5,132.0 242.3,126.9 231.0,121.2 C219.7,115.5 208.3,108.7 197.0,102.4 C185.7,96.1 174.4,88.1 163.0,83.5 C151.6,78.9 144.7,76.8 128.5,75.0 C112.3,73.2 76.4,73.3 66.0,73.0 Z" fill="url(#knitB)" mask="url(#mTop)"/><path d="M66.0,73.0 C66.2,71.2 66.5,64.8 67.0,62.0 C67.5,59.2 64.5,58.2 69.0,56.0 C73.5,53.8 78.3,51.5 94.0,49.0 C109.7,46.5 140.2,43.5 163.0,40.7 C185.8,37.9 208.2,34.3 231.0,32.0 C253.8,29.7 282.8,28.4 300.0,27.0 C317.2,25.6 320.7,24.2 334.0,23.6 C347.3,23.0 365.7,22.9 380.0,23.6 C394.3,24.3 408.3,26.1 420.0,28.0 C431.7,29.9 431.7,32.2 450.0,35.0 C468.3,37.8 504.3,41.5 530.0,45.0 C555.7,48.5 584.0,53.2 604.0,56.0 C624.0,58.8 640.0,60.5 650.0,62.0 C660.0,63.5 660.8,63.3 664.0,65.0 C667.2,66.7 667.7,68.2 669.0,72.0 C670.3,75.8 671.5,85.3 672.0,88.0 L672.0,88.0 C670.0,87.8 664.5,87.4 660.0,87.0 C655.5,86.6 654.3,84.7 645.0,85.5 C635.7,86.3 616.0,88.4 604.0,92.0 C592.0,95.6 581.5,101.8 573.0,107.0 C564.5,112.2 559.0,118.7 553.0,123.0 C547.0,127.3 545.0,128.8 537.0,133.0 C529.0,137.2 516.0,144.3 505.0,148.0 C494.0,151.7 482.7,153.0 471.0,155.0 C459.3,157.0 446.5,158.8 435.0,160.0 C423.5,161.2 411.2,161.9 402.0,162.0 C392.8,162.1 391.3,161.7 380.0,160.6 C368.7,159.5 347.3,157.5 334.0,155.5 C320.7,153.5 311.5,151.8 300.0,148.6 C288.5,145.4 276.5,141.2 265.0,136.6 C253.5,132.0 242.3,126.9 231.0,121.2 C219.7,115.5 208.3,108.7 197.0,102.4 C185.7,96.1 174.4,88.1 163.0,83.5 C151.6,78.9 144.7,76.8 128.5,75.0 C112.3,73.2 76.4,73.3 66.0,73.0 Z" fill="url(#flapShade)"/><path d="M66.0,73.0 C66.2,71.2 66.5,64.8 67.0,62.0 C67.5,59.2 64.5,58.2 69.0,56.0 C73.5,53.8 78.3,51.5 94.0,49.0 C109.7,46.5 140.2,43.5 163.0,40.7 C185.8,37.9 208.2,34.3 231.0,32.0 C253.8,29.7 282.8,28.4 300.0,27.0 C317.2,25.6 320.7,24.2 334.0,23.6 C347.3,23.0 365.7,22.9 380.0,23.6 C394.3,24.3 408.3,26.1 420.0,28.0 C431.7,29.9 431.7,32.2 450.0,35.0 C468.3,37.8 504.3,41.5 530.0,45.0 C555.7,48.5 584.0,53.2 604.0,56.0 C624.0,58.8 640.0,60.5 650.0,62.0 C660.0,63.5 660.8,63.3 664.0,65.0 C667.2,66.7 667.7,68.2 669.0,72.0 C670.3,75.8 671.5,85.3 672.0,88.0 L672.0,88.0 C670.0,87.8 664.5,87.4 660.0,87.0 C655.5,86.6 654.3,84.7 645.0,85.5 C635.7,86.3 616.0,88.4 604.0,92.0 C592.0,95.6 581.5,101.8 573.0,107.0 C564.5,112.2 559.0,118.7 553.0,123.0 C547.0,127.3 545.0,128.8 537.0,133.0 C529.0,137.2 516.0,144.3 505.0,148.0 C494.0,151.7 482.7,153.0 471.0,155.0 C459.3,157.0 446.5,158.8 435.0,160.0 C423.5,161.2 411.2,161.9 402.0,162.0 C392.8,162.1 391.3,161.7 380.0,160.6 C368.7,159.5 347.3,157.5 334.0,155.5 C320.7,153.5 311.5,151.8 300.0,148.6 C288.5,145.4 276.5,141.2 265.0,136.6 C253.5,132.0 242.3,126.9 231.0,121.2 C219.7,115.5 208.3,108.7 197.0,102.4 C185.7,96.1 174.4,88.1 163.0,83.5 C151.6,78.9 144.7,76.8 128.5,75.0 C112.3,73.2 76.4,73.3 66.0,73.0 Z" fill="url(#foldShade)"/><clipPath id="cclip"><path d="M66.0,73.0 C66.2,71.2 66.5,64.8 67.0,62.0 C67.5,59.2 64.5,58.2 69.0,56.0 C73.5,53.8 78.3,51.5 94.0,49.0 C109.7,46.5 140.2,43.5 163.0,40.7 C185.8,37.9 208.2,34.3 231.0,32.0 C253.8,29.7 282.8,28.4 300.0,27.0 C317.2,25.6 320.7,24.2 334.0,23.6 C347.3,23.0 365.7,22.9 380.0,23.6 C394.3,24.3 408.3,26.1 420.0,28.0 C431.7,29.9 431.7,32.2 450.0,35.0 C468.3,37.8 504.3,41.5 530.0,45.0 C555.7,48.5 584.0,53.2 604.0,56.0 C624.0,58.8 640.0,60.5 650.0,62.0 C660.0,63.5 660.8,63.3 664.0,65.0 C667.2,66.7 667.7,68.2 669.0,72.0 C670.3,75.8 671.5,85.3 672.0,88.0 L672.0,88.0 C670.0,87.8 664.5,87.4 660.0,87.0 C655.5,86.6 654.3,84.7 645.0,85.5 C635.7,86.3 616.0,88.4 604.0,92.0 C592.0,95.6 581.5,101.8 573.0,107.0 C564.5,112.2 559.0,118.7 553.0,123.0 C547.0,127.3 545.0,128.8 537.0,133.0 C529.0,137.2 516.0,144.3 505.0,148.0 C494.0,151.7 482.7,153.0 471.0,155.0 C459.3,157.0 446.5,158.8 435.0,160.0 C423.5,161.2 411.2,161.9 402.0,162.0 C392.8,162.1 391.3,161.7 380.0,160.6 C368.7,159.5 347.3,157.5 334.0,155.5 C320.7,153.5 311.5,151.8 300.0,148.6 C288.5,145.4 276.5,141.2 265.0,136.6 C253.5,132.0 242.3,126.9 231.0,121.2 C219.7,115.5 208.3,108.7 197.0,102.4 C185.7,96.1 174.4,88.1 163.0,83.5 C151.6,78.9 144.7,76.8 128.5,75.0 C112.3,73.2 76.4,73.3 66.0,73.0 Z"/></clipPath><g fill="none" stroke="#1aaee0" stroke-width="2.8" stroke-dasharray="5 2.2" clip-path="url(#cclip)"><path d="M115.4,50.7 L120.6,73"/><path d="M124,49 L130.8,74.7"/><path d="M149.7,45.6 Q156,65 165,85"/><path d="M182.2,40.4 Q192,60 196,69.5 Q202,82 206,90 Q214,98 220,104 Q226,111 230,117.5"/><path d="M378,29.4 Q440,65 480,97.6 Q468,125 458.5,159"/><path d="M391.6,30.7 Q452,66 488,97.6 Q476,126 466.5,156.5"/><path d="M465.4,40.5 Q509,63.7 540,84.2 Q538,105 524.5,140"/><path d="M475.7,41.8 Q520,65 547.6,86.8 Q544,108 532,138"/></g><g fill="none" stroke="#17a8da" stroke-width="1.8" stroke-dasharray="3 4" clip-path="url(#cclip)"><path d="M196,97 Q203,84 209.6,76 L260,73.8 Q380,70 450,66 L614,66"/><path d="M250,30 Q320,27 380,30"/></g><circle cx="598" cy="73" r="3.4" fill="#000"/><line x1="598" y1="73" x2="872" y2="73" stroke="#000" stroke-width="1.6"/><circle cx="584" cy="143" r="3.4" fill="#000"/><line x1="584" y1="143" x2="872" y2="143" stroke="#000" stroke-width="1.6"/><circle cx="590" cy="201" r="3.4" fill="#000"/><line x1="590" y1="201" x2="872" y2="201" stroke="#000" stroke-width="1.6"/><circle cx="591" cy="250" r="3.4" fill="#000"/><line x1="591" y1="250" x2="872" y2="250" stroke="#000" stroke-width="1.6"/><circle cx="614" cy="326" r="3.4" fill="#000"/><line x1="614" y1="326" x2="872" y2="326" stroke="#000" stroke-width="1.6"/><circle cx="607" cy="385" r="3.4" fill="#000"/><line x1="607" y1="385" x2="872" y2="385" stroke="#000" stroke-width="1.6"/></svg>
<div class="n" style="top:64px">1</div><div class="n" style="top:134px">2</div><div class="n" style="top:192px">3</div><div class="n" style="top:241px">4</div><div class="n" style="top:317px">5</div><div class="n" style="top:376px">6</div>
<div class="t" style="left:77.6px;top:589px">
<div><span class="num">1.</span>Hyper Cool Luxury 4-way Stretch Knit Cover for Uniform Comfort &amp;</div>
<div>Durability. Cooling Action with Phase Changing Material (PCM)</div>
<div><span class="num">2.</span>2" High Density <span class="cu">Copper</span> Infused Gel Memory Foam for</div>
<div>Personalized Comfort</div>
</div>
<div class="t" style="left:536px;top:589px">
<div style="letter-spacing:-0.1px"><span class="num" style="letter-spacing:0">3.</span>Premium Pressure Sensitive NanoCoil Technology</div>
<div style="letter-spacing:-0.15px"><span class="num" style="letter-spacing:0">4.</span><b>Super Soft</b> High Density Transition Foam</div>
<div style="letter-spacing:-0.1px"><span class="num" style="letter-spacing:0">5.</span>Power Packed Wrapped Coil Unit with Ashley Edge to</div>
<div>Minimize Motion Transfer &amp; Increase Support</div>
<div><span class="num">6.</span>Base Support Foam for Stability &amp; Durability</div>
</div>
</body></html>
